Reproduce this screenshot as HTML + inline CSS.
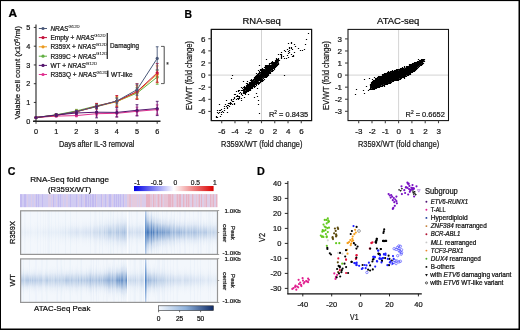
<!DOCTYPE html><html><head><meta charset="utf-8"><style>html,body{margin:0;padding:0;background:#fff;}svg{display:block;will-change:transform;}text{font-family:"Liberation Sans",sans-serif;stroke:currentColor;stroke-width:0.22px;}</style></head><body><svg width="520" height="330" viewBox="0 0 520 330" font-family="Liberation Sans, sans-serif">
<defs>
<linearGradient id="cbRB" x1="0" x2="1" y1="0" y2="0"><stop offset="0" stop-color="#0000e6"/><stop offset="0.5" stop-color="#ffffff"/><stop offset="1" stop-color="#dc0000"/></linearGradient>
<linearGradient id="cbBl" x1="0" x2="1" y1="0" y2="0"><stop offset="0" stop-color="#f4f8fd"/><stop offset="0.5" stop-color="#8fb2dc"/><stop offset="1" stop-color="#0e2a66"/></linearGradient>
<linearGradient id="band" x1="0" x2="0" y1="0" y2="1"><stop offset="0" stop-color="#2a64b0" stop-opacity="0"/><stop offset="0.12" stop-color="#2a64b0" stop-opacity="0.05"/><stop offset="0.25" stop-color="#2a64b0" stop-opacity="0.2"/><stop offset="0.38" stop-color="#2a64b0" stop-opacity="0.55"/><stop offset="0.5" stop-color="#2a64b0" stop-opacity="0.85"/><stop offset="0.62" stop-color="#2a64b0" stop-opacity="0.55"/><stop offset="0.75" stop-color="#2a64b0" stop-opacity="0.2"/><stop offset="0.88" stop-color="#2a64b0" stop-opacity="0.05"/><stop offset="1" stop-color="#2a64b0" stop-opacity="0"/></linearGradient>
<linearGradient id="vline" x1="0" x2="0" y1="0" y2="1"><stop offset="0" stop-color="#b8cde9"/><stop offset="0.5" stop-color="#4f84c6"/><stop offset="1" stop-color="#b8cde9"/></linearGradient>
<clipPath id="clip210"><rect x="20" y="210.5" width="197.6" height="43.9"/></clipPath>
<clipPath id="clip258"><rect x="20" y="258.6" width="197.6" height="43.8"/></clipPath>
</defs>
<rect x="0" y="0" width="520" height="330" fill="#ffffff" />
<text x="8.5" y="16.9" font-size="10.8" fill="#000" color="#000" font-weight="bold" textLength="8.6" lengthAdjust="spacingAndGlyphs" >A</text>
<line x1="36" y1="24.5" x2="36" y2="121.8" stroke="#222" stroke-width="1.1" />
<line x1="33" y1="121.2" x2="160.5" y2="121.2" stroke="#222" stroke-width="1.6" />
<line x1="33.8" y1="121.2" x2="36" y2="121.2" stroke="#222" stroke-width="0.9" />
<text x="30.2" y="123.8" font-size="7.3" fill="#161616" color="#161616" text-anchor="end" >0</text>
<line x1="33.8" y1="102.45" x2="36" y2="102.45" stroke="#222" stroke-width="0.9" />
<text x="30.2" y="105.05" font-size="7.3" fill="#161616" color="#161616" text-anchor="end" >1</text>
<line x1="33.8" y1="83.7" x2="36" y2="83.7" stroke="#222" stroke-width="0.9" />
<text x="30.2" y="86.3" font-size="7.3" fill="#161616" color="#161616" text-anchor="end" >2</text>
<line x1="33.8" y1="64.95" x2="36" y2="64.95" stroke="#222" stroke-width="0.9" />
<text x="30.2" y="67.55" font-size="7.3" fill="#161616" color="#161616" text-anchor="end" >3</text>
<line x1="33.8" y1="46.2" x2="36" y2="46.2" stroke="#222" stroke-width="0.9" />
<text x="30.2" y="48.800000000000004" font-size="7.3" fill="#161616" color="#161616" text-anchor="end" >4</text>
<line x1="33.8" y1="27.450000000000003" x2="36" y2="27.450000000000003" stroke="#222" stroke-width="0.9" />
<text x="30.2" y="30.050000000000004" font-size="7.3" fill="#161616" color="#161616" text-anchor="end" >5</text>
<line x1="36.0" y1="121.2" x2="36.0" y2="123.8" stroke="#222" stroke-width="0.9" />
<text x="36.0" y="133.7" font-size="7.3" fill="#161616" color="#161616" text-anchor="middle" >0</text>
<line x1="56.2" y1="121.2" x2="56.2" y2="123.8" stroke="#222" stroke-width="0.9" />
<text x="56.2" y="133.7" font-size="7.3" fill="#161616" color="#161616" text-anchor="middle" >1</text>
<line x1="76.4" y1="121.2" x2="76.4" y2="123.8" stroke="#222" stroke-width="0.9" />
<text x="76.4" y="133.7" font-size="7.3" fill="#161616" color="#161616" text-anchor="middle" >2</text>
<line x1="96.6" y1="121.2" x2="96.6" y2="123.8" stroke="#222" stroke-width="0.9" />
<text x="96.6" y="133.7" font-size="7.3" fill="#161616" color="#161616" text-anchor="middle" >3</text>
<line x1="116.8" y1="121.2" x2="116.8" y2="123.8" stroke="#222" stroke-width="0.9" />
<text x="116.8" y="133.7" font-size="7.3" fill="#161616" color="#161616" text-anchor="middle" >4</text>
<line x1="137.0" y1="121.2" x2="137.0" y2="123.8" stroke="#222" stroke-width="0.9" />
<text x="137.0" y="133.7" font-size="7.3" fill="#161616" color="#161616" text-anchor="middle" >5</text>
<line x1="157.2" y1="121.2" x2="157.2" y2="123.8" stroke="#222" stroke-width="0.9" />
<text x="157.2" y="133.7" font-size="7.3" fill="#161616" color="#161616" text-anchor="middle" >6</text>
<text x="59" y="147" font-size="8.5" fill="#161616" color="#161616" textLength="75.4" lengthAdjust="spacingAndGlyphs" >Days after IL-3 removal</text>
<text transform="translate(20.4 119.3) rotate(-90)" font-size="7.6" fill="#161616" color="#161616" textLength="93.5" lengthAdjust="spacingAndGlyphs" >Vaiable cell count (x10<tspan font-size="5" dy="-2.6">6</tspan><tspan dy="2.6">/ml)</tspan></text>
<polyline points="36.0,117.5 56.2,116.1 76.4,115.6 96.6,113.7 116.8,113.3 137.0,111.3 157.2,109.6" fill="none" stroke="#e0308f" stroke-width="1"/>
<polyline points="36.0,117.5 56.2,114.8 76.4,110.9 96.6,105.8 116.8,101.5 137.0,93.1 157.2,77.1" fill="none" stroke="#62b043" stroke-width="1"/>
<polyline points="36.0,117.5 56.2,115.2 76.4,111.6 96.6,106.6 116.8,101.7 137.0,92.1 157.2,74.3" fill="none" stroke="#ec9a1e" stroke-width="1"/>
<polyline points="36.0,117.5 56.2,115.4 76.4,111.8 96.6,106.2 116.8,101.1 137.0,91.6 157.2,72.8" fill="none" stroke="#c4123c" stroke-width="1"/>
<polyline points="36.0,117.5 56.2,115.0 76.4,111.5 96.6,106.6 116.8,101.0 137.0,89.7 157.2,58.4" fill="none" stroke="#4a5878" stroke-width="1"/>
<polyline points="36.0,117.5 56.2,115.0 76.4,113.0 96.6,112.2 116.8,112.4 137.0,110.3 157.2,108.5" fill="none" stroke="#55166e" stroke-width="1"/>
<circle cx="36.0" cy="117.5" r="1.6" fill="#e0308f"/>
<line x1="56.2" y1="115.3875" x2="56.2" y2="116.8875" stroke="#e0308f" stroke-width="0.9" />
<line x1="54.800000000000004" y1="115.3875" x2="57.6" y2="115.3875" stroke="#e0308f" stroke-width="0.9" />
<line x1="54.800000000000004" y1="116.8875" x2="57.6" y2="116.8875" stroke="#e0308f" stroke-width="0.9" />
<circle cx="56.2" cy="116.1" r="1.6" fill="#e0308f"/>
<line x1="76.4" y1="114.45" x2="76.4" y2="116.7" stroke="#e0308f" stroke-width="0.9" />
<line x1="75.0" y1="114.45" x2="77.80000000000001" y2="114.45" stroke="#e0308f" stroke-width="0.9" />
<line x1="75.0" y1="116.7" x2="77.80000000000001" y2="116.7" stroke="#e0308f" stroke-width="0.9" />
<circle cx="76.4" cy="115.6" r="1.6" fill="#e0308f"/>
<line x1="96.6" y1="111.45" x2="96.6" y2="115.95" stroke="#e0308f" stroke-width="0.9" />
<line x1="95.19999999999999" y1="111.45" x2="98.0" y2="111.45" stroke="#e0308f" stroke-width="0.9" />
<line x1="95.19999999999999" y1="115.95" x2="98.0" y2="115.95" stroke="#e0308f" stroke-width="0.9" />
<circle cx="96.6" cy="113.7" r="1.6" fill="#e0308f"/>
<line x1="116.8" y1="109.95" x2="116.8" y2="116.7" stroke="#e0308f" stroke-width="0.9" />
<line x1="115.39999999999999" y1="109.95" x2="118.2" y2="109.95" stroke="#e0308f" stroke-width="0.9" />
<line x1="115.39999999999999" y1="116.7" x2="118.2" y2="116.7" stroke="#e0308f" stroke-width="0.9" />
<circle cx="116.8" cy="113.3" r="1.6" fill="#e0308f"/>
<line x1="137.0" y1="107.1375" x2="137.0" y2="115.3875" stroke="#e0308f" stroke-width="0.9" />
<line x1="135.6" y1="107.1375" x2="138.4" y2="107.1375" stroke="#e0308f" stroke-width="0.9" />
<line x1="135.6" y1="115.3875" x2="138.4" y2="115.3875" stroke="#e0308f" stroke-width="0.9" />
<circle cx="137.0" cy="111.3" r="1.6" fill="#e0308f"/>
<line x1="157.2" y1="104.8875" x2="157.2" y2="114.2625" stroke="#e0308f" stroke-width="0.9" />
<line x1="155.79999999999998" y1="104.8875" x2="158.6" y2="104.8875" stroke="#e0308f" stroke-width="0.9" />
<line x1="155.79999999999998" y1="114.2625" x2="158.6" y2="114.2625" stroke="#e0308f" stroke-width="0.9" />
<circle cx="157.2" cy="109.6" r="1.6" fill="#e0308f"/>
<circle cx="36.0" cy="117.5" r="1.6" fill="#62b043"/>
<line x1="56.2" y1="113.8875" x2="56.2" y2="115.7625" stroke="#62b043" stroke-width="0.9" />
<line x1="54.800000000000004" y1="113.8875" x2="57.6" y2="113.8875" stroke="#62b043" stroke-width="0.9" />
<line x1="54.800000000000004" y1="115.7625" x2="57.6" y2="115.7625" stroke="#62b043" stroke-width="0.9" />
<circle cx="56.2" cy="114.8" r="1.6" fill="#62b043"/>
<line x1="76.4" y1="109.3875" x2="76.4" y2="112.3875" stroke="#62b043" stroke-width="0.9" />
<line x1="75.0" y1="109.3875" x2="77.80000000000001" y2="109.3875" stroke="#62b043" stroke-width="0.9" />
<line x1="75.0" y1="112.3875" x2="77.80000000000001" y2="112.3875" stroke="#62b043" stroke-width="0.9" />
<circle cx="76.4" cy="110.9" r="1.6" fill="#62b043"/>
<line x1="96.6" y1="103.575" x2="96.6" y2="108.075" stroke="#62b043" stroke-width="0.9" />
<line x1="95.19999999999999" y1="103.575" x2="98.0" y2="103.575" stroke="#62b043" stroke-width="0.9" />
<line x1="95.19999999999999" y1="108.075" x2="98.0" y2="108.075" stroke="#62b043" stroke-width="0.9" />
<circle cx="96.6" cy="105.8" r="1.6" fill="#62b043"/>
<line x1="116.8" y1="97.7625" x2="116.8" y2="105.2625" stroke="#62b043" stroke-width="0.9" />
<line x1="115.39999999999999" y1="97.7625" x2="118.2" y2="97.7625" stroke="#62b043" stroke-width="0.9" />
<line x1="115.39999999999999" y1="105.2625" x2="118.2" y2="105.2625" stroke="#62b043" stroke-width="0.9" />
<circle cx="116.8" cy="101.5" r="1.6" fill="#62b043"/>
<line x1="137.0" y1="87.45" x2="137.0" y2="98.7" stroke="#62b043" stroke-width="0.9" />
<line x1="135.6" y1="87.45" x2="138.4" y2="87.45" stroke="#62b043" stroke-width="0.9" />
<line x1="135.6" y1="98.7" x2="138.4" y2="98.7" stroke="#62b043" stroke-width="0.9" />
<circle cx="137.0" cy="93.1" r="1.6" fill="#62b043"/>
<line x1="157.2" y1="70.0125" x2="157.2" y2="84.26249999999999" stroke="#62b043" stroke-width="0.9" />
<line x1="155.79999999999998" y1="70.0125" x2="158.6" y2="70.0125" stroke="#62b043" stroke-width="0.9" />
<line x1="155.79999999999998" y1="84.26249999999999" x2="158.6" y2="84.26249999999999" stroke="#62b043" stroke-width="0.9" />
<circle cx="157.2" cy="77.1" r="1.6" fill="#62b043"/>
<circle cx="36.0" cy="117.5" r="1.6" fill="#ec9a1e"/>
<line x1="56.2" y1="114.2625" x2="56.2" y2="116.1375" stroke="#ec9a1e" stroke-width="0.9" />
<line x1="54.800000000000004" y1="114.2625" x2="57.6" y2="114.2625" stroke="#ec9a1e" stroke-width="0.9" />
<line x1="54.800000000000004" y1="116.1375" x2="57.6" y2="116.1375" stroke="#ec9a1e" stroke-width="0.9" />
<circle cx="56.2" cy="115.2" r="1.6" fill="#ec9a1e"/>
<line x1="76.4" y1="110.1375" x2="76.4" y2="113.1375" stroke="#ec9a1e" stroke-width="0.9" />
<line x1="75.0" y1="110.1375" x2="77.80000000000001" y2="110.1375" stroke="#ec9a1e" stroke-width="0.9" />
<line x1="75.0" y1="113.1375" x2="77.80000000000001" y2="113.1375" stroke="#ec9a1e" stroke-width="0.9" />
<circle cx="76.4" cy="111.6" r="1.6" fill="#ec9a1e"/>
<line x1="96.6" y1="104.325" x2="96.6" y2="108.825" stroke="#ec9a1e" stroke-width="0.9" />
<line x1="95.19999999999999" y1="104.325" x2="98.0" y2="104.325" stroke="#ec9a1e" stroke-width="0.9" />
<line x1="95.19999999999999" y1="108.825" x2="98.0" y2="108.825" stroke="#ec9a1e" stroke-width="0.9" />
<circle cx="96.6" cy="106.6" r="1.6" fill="#ec9a1e"/>
<line x1="116.8" y1="96.45" x2="116.8" y2="106.95" stroke="#ec9a1e" stroke-width="0.9" />
<line x1="115.39999999999999" y1="96.45" x2="118.2" y2="96.45" stroke="#ec9a1e" stroke-width="0.9" />
<line x1="115.39999999999999" y1="106.95" x2="118.2" y2="106.95" stroke="#ec9a1e" stroke-width="0.9" />
<circle cx="116.8" cy="101.7" r="1.6" fill="#ec9a1e"/>
<line x1="137.0" y1="85.575" x2="137.0" y2="98.7" stroke="#ec9a1e" stroke-width="0.9" />
<line x1="135.6" y1="85.575" x2="138.4" y2="85.575" stroke="#ec9a1e" stroke-width="0.9" />
<line x1="135.6" y1="98.7" x2="138.4" y2="98.7" stroke="#ec9a1e" stroke-width="0.9" />
<circle cx="137.0" cy="92.1" r="1.6" fill="#ec9a1e"/>
<line x1="157.2" y1="65.8875" x2="157.2" y2="82.7625" stroke="#ec9a1e" stroke-width="0.9" />
<line x1="155.79999999999998" y1="65.8875" x2="158.6" y2="65.8875" stroke="#ec9a1e" stroke-width="0.9" />
<line x1="155.79999999999998" y1="82.7625" x2="158.6" y2="82.7625" stroke="#ec9a1e" stroke-width="0.9" />
<circle cx="157.2" cy="74.3" r="1.6" fill="#ec9a1e"/>
<circle cx="36.0" cy="117.5" r="1.6" fill="#c4123c"/>
<line x1="56.2" y1="114.45" x2="56.2" y2="116.325" stroke="#c4123c" stroke-width="0.9" />
<line x1="54.800000000000004" y1="114.45" x2="57.6" y2="114.45" stroke="#c4123c" stroke-width="0.9" />
<line x1="54.800000000000004" y1="116.325" x2="57.6" y2="116.325" stroke="#c4123c" stroke-width="0.9" />
<circle cx="56.2" cy="115.4" r="1.6" fill="#c4123c"/>
<line x1="76.4" y1="110.5125" x2="76.4" y2="113.1375" stroke="#c4123c" stroke-width="0.9" />
<line x1="75.0" y1="110.5125" x2="77.80000000000001" y2="110.5125" stroke="#c4123c" stroke-width="0.9" />
<line x1="75.0" y1="113.1375" x2="77.80000000000001" y2="113.1375" stroke="#c4123c" stroke-width="0.9" />
<circle cx="76.4" cy="111.8" r="1.6" fill="#c4123c"/>
<line x1="96.6" y1="103.3875" x2="96.6" y2="109.0125" stroke="#c4123c" stroke-width="0.9" />
<line x1="95.19999999999999" y1="103.3875" x2="98.0" y2="103.3875" stroke="#c4123c" stroke-width="0.9" />
<line x1="95.19999999999999" y1="109.0125" x2="98.0" y2="109.0125" stroke="#c4123c" stroke-width="0.9" />
<circle cx="96.6" cy="106.2" r="1.6" fill="#c4123c"/>
<line x1="116.8" y1="95.5125" x2="116.8" y2="106.7625" stroke="#c4123c" stroke-width="0.9" />
<line x1="115.39999999999999" y1="95.5125" x2="118.2" y2="95.5125" stroke="#c4123c" stroke-width="0.9" />
<line x1="115.39999999999999" y1="106.7625" x2="118.2" y2="106.7625" stroke="#c4123c" stroke-width="0.9" />
<circle cx="116.8" cy="101.1" r="1.6" fill="#c4123c"/>
<line x1="137.0" y1="83.7" x2="137.0" y2="99.45" stroke="#c4123c" stroke-width="0.9" />
<line x1="135.6" y1="83.7" x2="138.4" y2="83.7" stroke="#c4123c" stroke-width="0.9" />
<line x1="135.6" y1="99.45" x2="138.4" y2="99.45" stroke="#c4123c" stroke-width="0.9" />
<circle cx="137.0" cy="91.6" r="1.6" fill="#c4123c"/>
<line x1="157.2" y1="63.45" x2="157.2" y2="82.2" stroke="#c4123c" stroke-width="0.9" />
<line x1="155.79999999999998" y1="63.45" x2="158.6" y2="63.45" stroke="#c4123c" stroke-width="0.9" />
<line x1="155.79999999999998" y1="82.2" x2="158.6" y2="82.2" stroke="#c4123c" stroke-width="0.9" />
<circle cx="157.2" cy="72.8" r="1.6" fill="#c4123c"/>
<circle cx="36.0" cy="117.5" r="1.6" fill="#4a5878"/>
<line x1="56.2" y1="114.075" x2="56.2" y2="115.95" stroke="#4a5878" stroke-width="0.9" />
<line x1="54.800000000000004" y1="114.075" x2="57.6" y2="114.075" stroke="#4a5878" stroke-width="0.9" />
<line x1="54.800000000000004" y1="115.95" x2="57.6" y2="115.95" stroke="#4a5878" stroke-width="0.9" />
<circle cx="56.2" cy="115.0" r="1.6" fill="#4a5878"/>
<line x1="76.4" y1="110.325" x2="76.4" y2="112.575" stroke="#4a5878" stroke-width="0.9" />
<line x1="75.0" y1="110.325" x2="77.80000000000001" y2="110.325" stroke="#4a5878" stroke-width="0.9" />
<line x1="75.0" y1="112.575" x2="77.80000000000001" y2="112.575" stroke="#4a5878" stroke-width="0.9" />
<circle cx="76.4" cy="111.5" r="1.6" fill="#4a5878"/>
<line x1="96.6" y1="104.7" x2="96.6" y2="108.45" stroke="#4a5878" stroke-width="0.9" />
<line x1="95.19999999999999" y1="104.7" x2="98.0" y2="104.7" stroke="#4a5878" stroke-width="0.9" />
<line x1="95.19999999999999" y1="108.45" x2="98.0" y2="108.45" stroke="#4a5878" stroke-width="0.9" />
<circle cx="96.6" cy="106.6" r="1.6" fill="#4a5878"/>
<line x1="116.8" y1="98.1375" x2="116.8" y2="103.7625" stroke="#4a5878" stroke-width="0.9" />
<line x1="115.39999999999999" y1="98.1375" x2="118.2" y2="98.1375" stroke="#4a5878" stroke-width="0.9" />
<line x1="115.39999999999999" y1="103.7625" x2="118.2" y2="103.7625" stroke="#4a5878" stroke-width="0.9" />
<circle cx="116.8" cy="101.0" r="1.6" fill="#4a5878"/>
<line x1="137.0" y1="84.075" x2="137.0" y2="95.325" stroke="#4a5878" stroke-width="0.9" />
<line x1="135.6" y1="84.075" x2="138.4" y2="84.075" stroke="#4a5878" stroke-width="0.9" />
<line x1="135.6" y1="95.325" x2="138.4" y2="95.325" stroke="#4a5878" stroke-width="0.9" />
<circle cx="137.0" cy="89.7" r="1.6" fill="#4a5878"/>
<line x1="157.2" y1="46.7625" x2="157.2" y2="70.0125" stroke="#4a5878" stroke-width="0.9" />
<line x1="155.79999999999998" y1="46.7625" x2="158.6" y2="46.7625" stroke="#4a5878" stroke-width="0.9" />
<line x1="155.79999999999998" y1="70.0125" x2="158.6" y2="70.0125" stroke="#4a5878" stroke-width="0.9" />
<circle cx="157.2" cy="58.4" r="1.6" fill="#4a5878"/>
<circle cx="36.0" cy="117.5" r="1.6" fill="#55166e"/>
<line x1="56.2" y1="113.8875" x2="56.2" y2="116.1375" stroke="#55166e" stroke-width="0.9" />
<line x1="54.800000000000004" y1="113.8875" x2="57.6" y2="113.8875" stroke="#55166e" stroke-width="0.9" />
<line x1="54.800000000000004" y1="116.1375" x2="57.6" y2="116.1375" stroke="#55166e" stroke-width="0.9" />
<circle cx="56.2" cy="115.0" r="1.6" fill="#55166e"/>
<line x1="76.4" y1="111.075" x2="76.4" y2="114.825" stroke="#55166e" stroke-width="0.9" />
<line x1="75.0" y1="111.075" x2="77.80000000000001" y2="111.075" stroke="#55166e" stroke-width="0.9" />
<line x1="75.0" y1="114.825" x2="77.80000000000001" y2="114.825" stroke="#55166e" stroke-width="0.9" />
<circle cx="76.4" cy="113.0" r="1.6" fill="#55166e"/>
<line x1="96.6" y1="106.575" x2="96.6" y2="117.825" stroke="#55166e" stroke-width="0.9" />
<line x1="95.19999999999999" y1="106.575" x2="98.0" y2="106.575" stroke="#55166e" stroke-width="0.9" />
<line x1="95.19999999999999" y1="117.825" x2="98.0" y2="117.825" stroke="#55166e" stroke-width="0.9" />
<circle cx="96.6" cy="112.2" r="1.6" fill="#55166e"/>
<line x1="116.8" y1="107.7" x2="116.8" y2="117.075" stroke="#55166e" stroke-width="0.9" />
<line x1="115.39999999999999" y1="107.7" x2="118.2" y2="107.7" stroke="#55166e" stroke-width="0.9" />
<line x1="115.39999999999999" y1="117.075" x2="118.2" y2="117.075" stroke="#55166e" stroke-width="0.9" />
<circle cx="116.8" cy="112.4" r="1.6" fill="#55166e"/>
<line x1="137.0" y1="104.7" x2="137.0" y2="115.95" stroke="#55166e" stroke-width="0.9" />
<line x1="135.6" y1="104.7" x2="138.4" y2="104.7" stroke="#55166e" stroke-width="0.9" />
<line x1="135.6" y1="115.95" x2="138.4" y2="115.95" stroke="#55166e" stroke-width="0.9" />
<circle cx="137.0" cy="110.3" r="1.6" fill="#55166e"/>
<line x1="157.2" y1="101.325" x2="157.2" y2="115.575" stroke="#55166e" stroke-width="0.9" />
<line x1="155.79999999999998" y1="101.325" x2="158.6" y2="101.325" stroke="#55166e" stroke-width="0.9" />
<line x1="155.79999999999998" y1="115.575" x2="158.6" y2="115.575" stroke="#55166e" stroke-width="0.9" />
<circle cx="157.2" cy="108.5" r="1.6" fill="#55166e"/>
<line x1="38.8" y1="28.5" x2="47" y2="28.5" stroke="#4a5878" stroke-width="1" />
<circle cx="43" cy="28.5" r="1.6" fill="#4a5878"/>
<text x="50.4" y="30.8" font-size="6.5" fill="#161616" color="#161616" ><tspan font-style="italic">NRAS</tspan><tspan font-size="4.3" dy="-3.1" style="stroke-width:0.08px">G12D</tspan></text>
<line x1="38.8" y1="37.6" x2="47" y2="37.6" stroke="#c4123c" stroke-width="1" />
<circle cx="43" cy="37.6" r="1.6" fill="#c4123c"/>
<text x="50.4" y="39.9" font-size="6.5" fill="#161616" color="#161616" >Empty + <tspan font-style="italic">NRAS</tspan><tspan font-size="4.3" dy="-3.1" style="stroke-width:0.08px">G12D</tspan></text>
<line x1="38.8" y1="46.8" x2="47" y2="46.8" stroke="#ec9a1e" stroke-width="1" />
<circle cx="43" cy="46.8" r="1.6" fill="#ec9a1e"/>
<text x="50.4" y="49.099999999999994" font-size="6.5" fill="#161616" color="#161616" >R359X + <tspan font-style="italic">NRAS</tspan><tspan font-size="4.3" dy="-3.1" style="stroke-width:0.08px">G12D</tspan></text>
<line x1="38.8" y1="56.2" x2="47" y2="56.2" stroke="#62b043" stroke-width="1" />
<circle cx="43" cy="56.2" r="1.6" fill="#62b043"/>
<text x="50.4" y="58.5" font-size="6.5" fill="#161616" color="#161616" >R399C + <tspan font-style="italic">NRAS</tspan><tspan font-size="4.3" dy="-3.1" style="stroke-width:0.08px">G12D</tspan></text>
<line x1="38.8" y1="65.4" x2="47" y2="65.4" stroke="#55166e" stroke-width="1" />
<circle cx="43" cy="65.4" r="1.6" fill="#55166e"/>
<text x="50.4" y="67.7" font-size="6.5" fill="#161616" color="#161616" >WT + <tspan font-style="italic">NRAS</tspan><tspan font-size="4.3" dy="-3.1" style="stroke-width:0.08px">G12D</tspan></text>
<line x1="38.8" y1="74.5" x2="47" y2="74.5" stroke="#e0308f" stroke-width="1" />
<circle cx="43" cy="74.5" r="1.6" fill="#e0308f"/>
<text x="50.4" y="76.8" font-size="6.5" fill="#161616" color="#161616" >R353Q + <tspan font-style="italic">NRAS</tspan><tspan font-size="4.3" dy="-3.1" style="stroke-width:0.08px">G12D</tspan></text>
<line x1="107.3" y1="32.9" x2="107.3" y2="59" stroke="#333" stroke-width="1.3" />
<text x="110" y="48.1" font-size="6.6" fill="#161616" color="#161616" textLength="29" lengthAdjust="spacingAndGlyphs" >Damaging</text>
<line x1="107.7" y1="70.6" x2="107.7" y2="77" stroke="#333" stroke-width="1.6" />
<text x="111" y="76.8" font-size="6.5" fill="#161616" color="#161616" >WT-like</text>
<line x1="161" y1="46.4" x2="164.2" y2="46.4" stroke="#333" stroke-width="0.8" />
<line x1="164.2" y1="46.4" x2="164.2" y2="83.6" stroke="#333" stroke-width="0.9" />
<line x1="161" y1="83.6" x2="164.2" y2="83.6" stroke="#333" stroke-width="0.8" />
<text x="166.2" y="66.5" font-size="6.5" fill="#333" color="#333" >*</text>
<text x="184.4" y="17.5" font-size="10.4" fill="#000" color="#000" font-weight="bold" >B</text>
<text x="242.5" y="23.8" font-size="8.6" fill="#111" color="#111" textLength="38.3" lengthAdjust="spacingAndGlyphs" >RNA-seq</text>
<text x="377" y="23.8" font-size="8.6" fill="#111" color="#111" textLength="42.4" lengthAdjust="spacingAndGlyphs" >ATAC-seq</text>
<line x1="261.5" y1="29.4" x2="261.5" y2="120.6" stroke="#c8c8c8" stroke-width="0.8" />
<line x1="211.3" y1="75.1" x2="311.6" y2="75.1" stroke="#c8c8c8" stroke-width="0.8" />
<rect x="211.3" y="29.4" width="100.30000000000001" height="91.19999999999999" fill="none" stroke="#111" stroke-width="1.05"/>
<path d="M243.0 90.8 L243.6 90.2 L244.2 89.7 L244.8 89.1 L245.4 88.5 L246.0 88.0 L246.6 87.4 L247.2 86.8 L247.8 86.3 L248.4 85.7 L249.0 85.1 L249.6 84.6 L250.2 84.0 L250.8 83.5 L251.4 82.9 L252.0 82.4 L252.6 81.8 L253.2 81.3 L253.8 80.7 L254.4 80.2 L255.0 79.6 L255.6 78.9 L256.2 78.2 L256.8 77.4 L257.4 76.7 L258.0 76.0 L258.6 75.3 L259.2 74.6 L259.8 73.8 L260.4 73.3 L261.0 72.8 L261.6 72.3 L262.2 71.8 L262.8 71.2 L263.4 70.7 L264.0 70.2 L264.6 69.7 L265.2 69.2 L265.8 68.7 L266.4 68.2 L267.0 67.7 L267.6 67.2 L268.2 66.7 L268.8 66.2 L269.4 65.7 L270.0 65.2 L270.6 64.9 L271.2 64.6 L271.8 64.3 L272.4 64.0 L273.0 63.6 L273.6 63.3 L274.2 63.0 L274.8 62.7 L275.4 62.4 L276.0 62.2 L276.6 62.0 L277.2 61.7 L277.8 61.5 L278.4 61.2 L279.0 61.0 L279.0 62.2 L278.4 62.9 L277.8 63.6 L277.2 64.4 L276.6 65.1 L276.0 65.8 L275.4 66.5 L274.8 67.2 L274.2 67.9 L273.6 68.5 L273.0 69.2 L272.4 69.8 L271.8 70.5 L271.2 71.1 L270.6 71.8 L270.0 72.4 L269.4 72.9 L268.8 73.4 L268.2 73.9 L267.6 74.4 L267.0 74.9 L266.4 75.4 L265.8 75.9 L265.2 76.4 L264.6 76.9 L264.0 77.4 L263.4 77.9 L262.8 78.4 L262.2 78.9 L261.6 79.4 L261.0 79.9 L260.4 80.4 L259.8 80.8 L259.2 81.3 L258.6 81.7 L258.0 82.2 L257.4 82.6 L256.8 83.1 L256.2 83.5 L255.6 84.0 L255.0 84.4 L254.4 84.9 L253.8 85.4 L253.2 85.8 L252.6 86.3 L252.0 86.8 L251.4 87.3 L250.8 87.8 L250.2 88.2 L249.6 88.6 L249.0 88.9 L248.4 89.2 L247.8 89.5 L247.2 89.9 L246.6 90.2 L246.0 90.5 L245.4 90.8 L244.8 91.1 L244.2 91.6 L243.6 92.0 L243.0 92.4Z" fill="#000"/>
<path d="M224.9 103.9h1.2v1.2h-1.2zM216.9 109.9h1.2v1.2h-1.2zM231.9 100.9h1.2v1.2h-1.2zM230.9 99.9h1.2v1.2h-1.2zM215.9 115.9h1.2v1.2h-1.2zM217.9 112.9h1.2v1.2h-1.2zM228.9 102.9h1.2v1.2h-1.2zM221.9 110.9h1.2v1.2h-1.2zM234.9 93.9h1.2v1.2h-1.2zM227.9 104.9h1.2v1.2h-1.2zM246.9 80.9h1.2v1.2h-1.2zM223.9 105.9h1.2v1.2h-1.2zM218.9 109.9h1.2v1.2h-1.2zM241.9 89.9h1.2v1.2h-1.2zM220.9 113.9h1.2v1.2h-1.2zM226.9 106.9h1.2v1.2h-1.2zM232.9 98.9h1.2v1.2h-1.2zM220.9 108.9h1.2v1.2h-1.2zM236.9 97.9h1.2v1.2h-1.2zM233.9 96.9h1.2v1.2h-1.2zM229.9 103.9h1.2v1.2h-1.2zM237.9 89.9h1.2v1.2h-1.2zM222.9 111.9h1.2v1.2h-1.2zM243.9 91.9h1.2v1.2h-1.2zM238.9 95.9h1.2v1.2h-1.2zM218.9 103.9h1.2v1.2h-1.2zM227.9 102.9h1.2v1.2h-1.2zM230.9 102.9h1.2v1.2h-1.2zM215.9 116.9h1.2v1.2h-1.2zM233.9 102.9h1.2v1.2h-1.2zM243.9 91.9h1.2v1.2h-1.2zM233.9 93.9h1.2v1.2h-1.2zM233.9 103.9h1.2v1.2h-1.2zM245.9 85.9h1.2v1.2h-1.2zM229.9 101.9h1.2v1.2h-1.2zM237.9 95.9h1.2v1.2h-1.2zM235.9 90.9h1.2v1.2h-1.2zM223.9 107.9h1.2v1.2h-1.2zM226.9 104.9h1.2v1.2h-1.2zM229.9 102.9h1.2v1.2h-1.2zM219.9 109.9h1.2v1.2h-1.2zM239.9 91.9h1.2v1.2h-1.2zM218.9 111.9h1.2v1.2h-1.2zM242.9 86.9h1.2v1.2h-1.2zM216.9 116.9h1.2v1.2h-1.2zM243.9 88.9h1.2v1.2h-1.2zM241.9 89.9h1.2v1.2h-1.2zM227.9 104.9h1.2v1.2h-1.2zM225.9 99.9h1.2v1.2h-1.2zM219.9 115.9h1.2v1.2h-1.2zM219.9 109.9h1.2v1.2h-1.2zM230.9 98.9h1.2v1.2h-1.2zM233.9 97.9h1.2v1.2h-1.2zM227.9 102.9h1.2v1.2h-1.2zM226.9 111.9h1.2v1.2h-1.2zM236.9 97.9h1.2v1.2h-1.2zM231.9 103.9h1.2v1.2h-1.2zM215.9 116.9h1.2v1.2h-1.2zM243.9 87.9h1.2v1.2h-1.2zM240.9 97.9h1.2v1.2h-1.2zM227.9 104.9h1.2v1.2h-1.2zM235.9 95.9h1.2v1.2h-1.2zM216.9 111.9h1.2v1.2h-1.2zM219.9 109.9h1.2v1.2h-1.2zM225.9 105.9h1.2v1.2h-1.2zM277.9 58.9h1.2v1.2h-1.2zM276.9 59.9h1.2v1.2h-1.2zM288.9 47.9h1.2v1.2h-1.2zM284.9 50.9h1.2v1.2h-1.2zM280.9 53.9h1.2v1.2h-1.2zM280.9 51.9h1.2v1.2h-1.2zM290.9 42.9h1.2v1.2h-1.2zM282.9 55.9h1.2v1.2h-1.2zM276.9 59.9h1.2v1.2h-1.2zM280.9 56.9h1.2v1.2h-1.2zM277.9 53.9h1.2v1.2h-1.2zM275.9 57.9h1.2v1.2h-1.2zM277.9 59.9h1.2v1.2h-1.2zM283.9 49.9h1.2v1.2h-1.2zM290.9 46.9h1.2v1.2h-1.2zM288.9 49.9h1.2v1.2h-1.2zM280.9 57.9h1.2v1.2h-1.2zM277.9 57.9h1.2v1.2h-1.2zM287.9 52.9h1.2v1.2h-1.2zM280.9 55.9h1.2v1.2h-1.2zM290.9 41.9h1.2v1.2h-1.2zM288.9 46.9h1.2v1.2h-1.2zM286.9 54.9h1.2v1.2h-1.2zM278.9 59.9h1.2v1.2h-1.2zM275.9 60.9h1.2v1.2h-1.2zM275.9 60.9h1.2v1.2h-1.2zM286.9 48.9h1.2v1.2h-1.2zM290.9 53.9h1.2v1.2h-1.2zM247.9 83.9h1.2v1.2h-1.2zM246.9 87.9h1.2v1.2h-1.2zM239.9 91.9h1.2v1.2h-1.2zM238.9 92.9h1.2v1.2h-1.2zM246.9 82.9h1.2v1.2h-1.2zM245.9 91.9h1.2v1.2h-1.2zM245.9 87.9h1.2v1.2h-1.2zM237.9 98.9h1.2v1.2h-1.2zM244.9 93.9h1.2v1.2h-1.2zM244.9 90.9h1.2v1.2h-1.2zM245.9 87.9h1.2v1.2h-1.2zM240.9 89.9h1.2v1.2h-1.2zM240.9 99.9h1.2v1.2h-1.2zM240.9 86.9h1.2v1.2h-1.2zM238.9 95.9h1.2v1.2h-1.2zM237.9 90.9h1.2v1.2h-1.2zM245.9 82.9h1.2v1.2h-1.2zM238.9 89.9h1.2v1.2h-1.2zM243.9 96.9h1.2v1.2h-1.2zM240.9 93.9h1.2v1.2h-1.2zM236.9 95.9h1.2v1.2h-1.2zM246.9 88.9h1.2v1.2h-1.2zM246.9 89.9h1.2v1.2h-1.2zM241.9 87.9h1.2v1.2h-1.2zM238.9 97.9h1.2v1.2h-1.2zM257.9 75.9h1.2v1.2h-1.2zM257.9 73.9h1.2v1.2h-1.2zM256.9 75.9h1.2v1.2h-1.2zM270.9 61.9h1.2v1.2h-1.2zM251.9 80.9h1.2v1.2h-1.2zM241.9 94.9h1.2v1.2h-1.2zM240.9 89.9h1.2v1.2h-1.2zM246.9 87.9h1.2v1.2h-1.2zM255.9 79.9h1.2v1.2h-1.2zM252.9 81.9h1.2v1.2h-1.2zM272.9 63.9h1.2v1.2h-1.2zM261.9 70.9h1.2v1.2h-1.2zM255.9 82.9h1.2v1.2h-1.2zM252.9 78.9h1.2v1.2h-1.2zM242.9 91.9h1.2v1.2h-1.2zM265.9 67.9h1.2v1.2h-1.2zM257.9 75.9h1.2v1.2h-1.2zM258.9 79.9h1.2v1.2h-1.2zM243.9 91.9h1.2v1.2h-1.2zM265.9 72.9h1.2v1.2h-1.2zM249.9 86.9h1.2v1.2h-1.2zM243.9 89.9h1.2v1.2h-1.2zM247.9 85.9h1.2v1.2h-1.2zM236.9 94.9h1.2v1.2h-1.2zM251.9 87.9h1.2v1.2h-1.2zM263.9 72.9h1.2v1.2h-1.2zM237.9 97.9h1.2v1.2h-1.2zM259.9 76.9h1.2v1.2h-1.2zM263.9 69.9h1.2v1.2h-1.2zM262.9 71.9h1.2v1.2h-1.2zM268.9 65.9h1.2v1.2h-1.2zM261.9 79.9h1.2v1.2h-1.2zM264.9 67.9h1.2v1.2h-1.2zM254.9 81.9h1.2v1.2h-1.2zM273.9 67.9h1.2v1.2h-1.2zM261.9 67.9h1.2v1.2h-1.2zM249.9 82.9h1.2v1.2h-1.2zM273.9 63.9h1.2v1.2h-1.2zM262.9 70.9h1.2v1.2h-1.2zM249.9 84.9h1.2v1.2h-1.2zM259.9 73.9h1.2v1.2h-1.2zM256.9 78.9h1.2v1.2h-1.2zM248.9 86.9h1.2v1.2h-1.2zM264.9 70.9h1.2v1.2h-1.2zM249.9 86.9h1.2v1.2h-1.2zM280.9 54.9h1.2v1.2h-1.2zM262.9 79.9h1.2v1.2h-1.2zM262.9 71.9h1.2v1.2h-1.2zM271.9 63.9h1.2v1.2h-1.2zM256.9 76.9h1.2v1.2h-1.2zM240.9 89.9h1.2v1.2h-1.2zM259.9 77.9h1.2v1.2h-1.2zM268.9 62.9h1.2v1.2h-1.2zM245.9 90.9h1.2v1.2h-1.2zM259.9 74.9h1.2v1.2h-1.2zM253.9 83.9h1.2v1.2h-1.2zM275.9 58.9h1.2v1.2h-1.2zM246.9 90.9h1.2v1.2h-1.2zM271.9 61.9h1.2v1.2h-1.2zM272.9 61.9h1.2v1.2h-1.2zM249.9 83.9h1.2v1.2h-1.2zM238.9 96.9h1.2v1.2h-1.2zM256.9 76.9h1.2v1.2h-1.2zM250.9 83.9h1.2v1.2h-1.2zM261.9 73.9h1.2v1.2h-1.2zM262.9 72.9h1.2v1.2h-1.2zM254.9 78.9h1.2v1.2h-1.2zM257.9 79.9h1.2v1.2h-1.2zM251.9 82.9h1.2v1.2h-1.2zM256.9 78.9h1.2v1.2h-1.2zM257.9 77.9h1.2v1.2h-1.2zM256.9 82.9h1.2v1.2h-1.2zM260.9 71.9h1.2v1.2h-1.2zM260.9 74.9h1.2v1.2h-1.2zM261.9 76.9h1.2v1.2h-1.2zM240.9 92.9h1.2v1.2h-1.2zM249.9 82.9h1.2v1.2h-1.2zM247.9 93.9h1.2v1.2h-1.2zM248.9 81.9h1.2v1.2h-1.2zM253.9 84.9h1.2v1.2h-1.2zM250.9 82.9h1.2v1.2h-1.2zM261.9 73.9h1.2v1.2h-1.2zM269.9 64.9h1.2v1.2h-1.2zM257.9 76.9h1.2v1.2h-1.2zM271.9 62.9h1.2v1.2h-1.2zM266.9 72.9h1.2v1.2h-1.2zM255.9 76.9h1.2v1.2h-1.2zM254.9 77.9h1.2v1.2h-1.2zM262.9 70.9h1.2v1.2h-1.2zM255.9 72.9h1.2v1.2h-1.2zM267.9 68.9h1.2v1.2h-1.2zM257.9 69.9h1.2v1.2h-1.2zM254.9 77.9h1.2v1.2h-1.2zM265.9 70.9h1.2v1.2h-1.2zM247.9 86.9h1.2v1.2h-1.2zM260.9 71.9h1.2v1.2h-1.2zM263.9 71.9h1.2v1.2h-1.2zM264.9 69.9h1.2v1.2h-1.2zM258.9 75.9h1.2v1.2h-1.2zM255.9 77.9h1.2v1.2h-1.2zM248.9 87.9h1.2v1.2h-1.2zM257.9 81.9h1.2v1.2h-1.2zM253.9 86.9h1.2v1.2h-1.2zM251.9 81.9h1.2v1.2h-1.2zM262.9 73.9h1.2v1.2h-1.2zM255.9 83.9h1.2v1.2h-1.2zM272.9 62.9h1.2v1.2h-1.2zM266.9 71.9h1.2v1.2h-1.2zM255.9 84.9h1.2v1.2h-1.2zM263.9 69.9h1.2v1.2h-1.2zM256.9 87.9h1.2v1.2h-1.2zM256.9 95.9h1.2v1.2h-1.2zM257.9 103.9h1.2v1.2h-1.2zM258.9 112.9h1.2v1.2h-1.2zM253.9 96.9h1.2v1.2h-1.2zM255.9 92.9h1.2v1.2h-1.2zM257.9 99.9h1.2v1.2h-1.2zM265.9 58.9h1.2v1.2h-1.2zM231.9 74.9h1.2v1.2h-1.2zM230.9 77.9h1.2v1.2h-1.2zM258.9 64.9h1.2v1.2h-1.2zM283.9 74.9h1.2v1.2h-1.2zM242.9 80.9h1.2v1.2h-1.2zM245.9 84.9h1.2v1.2h-1.2zM307.9 32.9h1.2v1.2h-1.2zM305.9 38.9h1.2v1.2h-1.2zM304.9 43.9h1.2v1.2h-1.2zM287.9 42.9h1.2v1.2h-1.2zM293.9 43.9h1.2v1.2h-1.2zM294.9 45.9h1.2v1.2h-1.2zM290.9 47.9h1.2v1.2h-1.2zM291.9 48.9h1.2v1.2h-1.2zM297.9 47.9h1.2v1.2h-1.2zM299.9 49.9h1.2v1.2h-1.2zM301.9 49.9h1.2v1.2h-1.2zM303.9 48.9h1.2v1.2h-1.2zM287.9 50.9h1.2v1.2h-1.2zM288.9 51.9h1.2v1.2h-1.2zM293.9 51.9h1.2v1.2h-1.2zM292.9 54.9h1.2v1.2h-1.2zM291.9 55.9h1.2v1.2h-1.2zM279.9 53.9h1.2v1.2h-1.2zM282.9 55.9h1.2v1.2h-1.2zM283.9 57.9h1.2v1.2h-1.2zM285.9 57.9h1.2v1.2h-1.2zM287.9 56.9h1.2v1.2h-1.2zM292.9 55.9h1.2v1.2h-1.2zM226.9 107.9h1.2v1.2h-1.2zM229.9 103.9h1.2v1.2h-1.2zM232.9 100.9h1.2v1.2h-1.2zM235.9 98.9h1.2v1.2h-1.2zM238.9 96.9h1.2v1.2h-1.2zM220.9 111.9h1.2v1.2h-1.2zM217.9 112.9h1.2v1.2h-1.2zM215.9 115.9h1.2v1.2h-1.2zM223.9 109.9h1.2v1.2h-1.2zM228.9 105.9h1.2v1.2h-1.2zM260.9 79.9h1.2v1.2h-1.2zM263.9 78.9h1.2v1.2h-1.2zM266.9 73.9h1.2v1.2h-1.2zM246.9 84.9h1.2v1.2h-1.2zM245.9 90.9h1.2v1.2h-1.2zM264.9 75.9h1.2v1.2h-1.2zM259.9 71.9h1.2v1.2h-1.2zM260.9 80.9h1.2v1.2h-1.2zM265.9 66.9h1.2v1.2h-1.2zM244.9 86.9h1.2v1.2h-1.2zM268.9 64.9h1.2v1.2h-1.2zM259.9 68.9h1.2v1.2h-1.2zM259.9 79.9h1.2v1.2h-1.2zM265.9 65.9h1.2v1.2h-1.2zM247.9 84.9h1.2v1.2h-1.2zM262.9 68.9h1.2v1.2h-1.2zM244.9 86.9h1.2v1.2h-1.2zM266.9 64.9h1.2v1.2h-1.2zM260.9 70.9h1.2v1.2h-1.2zM274.9 61.9h1.2v1.2h-1.2zM277.9 63.9h1.2v1.2h-1.2zM271.9 68.9h1.2v1.2h-1.2zM258.9 72.9h1.2v1.2h-1.2zM249.9 89.9h1.2v1.2h-1.2zM247.9 89.9h1.2v1.2h-1.2zM271.9 68.9h1.2v1.2h-1.2zM273.9 66.9h1.2v1.2h-1.2zM259.9 69.9h1.2v1.2h-1.2zM242.9 88.9h1.2v1.2h-1.2zM247.9 84.9h1.2v1.2h-1.2zM253.9 86.9h1.2v1.2h-1.2zM272.9 62.9h1.2v1.2h-1.2zM275.9 65.9h1.2v1.2h-1.2zM255.9 76.9h1.2v1.2h-1.2zM277.9 62.9h1.2v1.2h-1.2zM251.9 79.9h1.2v1.2h-1.2zM245.9 89.9h1.2v1.2h-1.2zM250.9 78.9h1.2v1.2h-1.2zM260.9 69.9h1.2v1.2h-1.2zM273.9 68.9h1.2v1.2h-1.2zM264.9 76.9h1.2v1.2h-1.2zM267.9 64.9h1.2v1.2h-1.2zM268.9 64.9h1.2v1.2h-1.2zM252.9 78.9h1.2v1.2h-1.2zM275.9 59.9h1.2v1.2h-1.2zM252.9 84.9h1.2v1.2h-1.2zM277.9 59.9h1.2v1.2h-1.2zM262.9 69.9h1.2v1.2h-1.2zM248.9 83.9h1.2v1.2h-1.2zM259.9 69.9h1.2v1.2h-1.2zM274.9 65.9h1.2v1.2h-1.2zM248.9 83.9h1.2v1.2h-1.2zM254.9 78.9h1.2v1.2h-1.2zM262.9 77.9h1.2v1.2h-1.2zM268.9 62.9h1.2v1.2h-1.2zM255.9 75.9h1.2v1.2h-1.2zM244.9 87.9h1.2v1.2h-1.2zM260.9 78.9h1.2v1.2h-1.2zM273.9 61.9h1.2v1.2h-1.2zM256.9 74.9h1.2v1.2h-1.2zM276.9 63.9h1.2v1.2h-1.2zM243.9 90.9h1.2v1.2h-1.2zM274.9 61.9h1.2v1.2h-1.2zM256.9 81.9h1.2v1.2h-1.2zM271.9 69.9h1.2v1.2h-1.2zM245.9 85.9h1.2v1.2h-1.2zM260.9 80.9h1.2v1.2h-1.2zM265.9 75.9h1.2v1.2h-1.2zM258.9 82.9h1.2v1.2h-1.2zM250.9 86.9h1.2v1.2h-1.2zM265.9 66.9h1.2v1.2h-1.2zM264.9 75.9h1.2v1.2h-1.2zM246.9 84.9h1.2v1.2h-1.2zM255.9 75.9h1.2v1.2h-1.2zM263.9 68.9h1.2v1.2h-1.2zM276.9 64.9h1.2v1.2h-1.2zM273.9 61.9h1.2v1.2h-1.2zM276.9 63.9h1.2v1.2h-1.2zM253.9 77.9h1.2v1.2h-1.2zM257.9 74.9h1.2v1.2h-1.2zM266.9 73.9h1.2v1.2h-1.2zM254.9 78.9h1.2v1.2h-1.2zM266.9 65.9h1.2v1.2h-1.2zM260.9 69.9h1.2v1.2h-1.2zM276.9 60.9h1.2v1.2h-1.2zM249.9 87.9h1.2v1.2h-1.2zM252.9 85.9h1.2v1.2h-1.2zM250.9 82.9h1.2v1.2h-1.2zM265.9 74.9h1.2v1.2h-1.2zM249.9 87.9h1.2v1.2h-1.2zM247.9 83.9h1.2v1.2h-1.2zM274.9 66.9h1.2v1.2h-1.2zM268.9 72.9h1.2v1.2h-1.2zM248.9 88.9h1.2v1.2h-1.2zM268.9 63.9h1.2v1.2h-1.2zM255.9 75.9h1.2v1.2h-1.2zM248.9 83.9h1.2v1.2h-1.2zM276.9 59.9h1.2v1.2h-1.2zM276.9 59.9h1.2v1.2h-1.2zM271.9 60.9h1.2v1.2h-1.2zM243.9 86.9h1.2v1.2h-1.2zM248.9 81.9h1.2v1.2h-1.2zM274.9 59.9h1.2v1.2h-1.2zM269.9 62.9h1.2v1.2h-1.2zM243.9 87.9h1.2v1.2h-1.2zM268.9 71.9h1.2v1.2h-1.2zM254.9 76.9h1.2v1.2h-1.2zM251.9 85.9h1.2v1.2h-1.2zM253.9 76.9h1.2v1.2h-1.2zM274.9 64.9h1.2v1.2h-1.2zM275.9 60.9h1.2v1.2h-1.2zM276.9 64.9h1.2v1.2h-1.2zM255.9 74.9h1.2v1.2h-1.2zM275.9 60.9h1.2v1.2h-1.2zM270.9 70.9h1.2v1.2h-1.2zM263.9 66.9h1.2v1.2h-1.2zM253.9 78.9h1.2v1.2h-1.2zM249.9 87.9h1.2v1.2h-1.2zM250.9 79.9h1.2v1.2h-1.2zM253.9 83.9h1.2v1.2h-1.2zM273.9 66.9h1.2v1.2h-1.2zM245.9 85.9h1.2v1.2h-1.2zM267.9 65.9h1.2v1.2h-1.2zM264.9 76.9h1.2v1.2h-1.2zM268.9 71.9h1.2v1.2h-1.2zM272.9 61.9h1.2v1.2h-1.2zM262.9 69.9h1.2v1.2h-1.2zM250.9 80.9h1.2v1.2h-1.2zM247.9 89.9h1.2v1.2h-1.2zM256.9 82.9h1.2v1.2h-1.2zM260.9 70.9h1.2v1.2h-1.2zM277.9 58.9h1.2v1.2h-1.2zM259.9 81.9h1.2v1.2h-1.2zM243.9 85.9h1.2v1.2h-1.2zM246.9 84.9h1.2v1.2h-1.2zM275.9 60.9h1.2v1.2h-1.2zM273.9 61.9h1.2v1.2h-1.2zM276.9 58.9h1.2v1.2h-1.2zM263.9 76.9h1.2v1.2h-1.2zM247.9 83.9h1.2v1.2h-1.2zM251.9 86.9h1.2v1.2h-1.2zM242.9 88.9h1.2v1.2h-1.2zM266.9 66.9h1.2v1.2h-1.2zM270.9 70.9h1.2v1.2h-1.2zM244.9 86.9h1.2v1.2h-1.2zM265.9 66.9h1.2v1.2h-1.2zM247.9 88.9h1.2v1.2h-1.2zM253.9 84.9h1.2v1.2h-1.2zM253.9 84.9h1.2v1.2h-1.2zM273.9 68.9h1.2v1.2h-1.2zM255.9 77.9h1.2v1.2h-1.2zM242.9 92.9h1.2v1.2h-1.2zM257.9 83.9h1.2v1.2h-1.2zM258.9 71.9h1.2v1.2h-1.2zM242.9 92.9h1.2v1.2h-1.2zM245.9 91.9h1.2v1.2h-1.2zM255.9 83.9h1.2v1.2h-1.2zM260.9 79.9h1.2v1.2h-1.2zM245.9 84.9h1.2v1.2h-1.2zM249.9 79.9h1.2v1.2h-1.2zM275.9 64.9h1.2v1.2h-1.2zM275.9 61.9h1.2v1.2h-1.2zM274.9 65.9h1.2v1.2h-1.2zM270.9 62.9h1.2v1.2h-1.2zM256.9 81.9h1.2v1.2h-1.2zM249.9 81.9h1.2v1.2h-1.2zM260.9 70.9h1.2v1.2h-1.2zM268.9 72.9h1.2v1.2h-1.2zM243.9 90.9h1.2v1.2h-1.2zM272.9 62.9h1.2v1.2h-1.2zM263.9 76.9h1.2v1.2h-1.2zM257.9 81.9h1.2v1.2h-1.2zM257.9 82.9h1.2v1.2h-1.2zM242.9 91.9h1.2v1.2h-1.2zM259.9 71.9h1.2v1.2h-1.2zM258.9 70.9h1.2v1.2h-1.2zM259.9 71.9h1.2v1.2h-1.2zM245.9 85.9h1.2v1.2h-1.2zM260.9 71.9h1.2v1.2h-1.2zM268.9 72.9h1.2v1.2h-1.2zM260.9 70.9h1.2v1.2h-1.2zM276.9 60.9h1.2v1.2h-1.2zM272.9 67.9h1.2v1.2h-1.2zM248.9 89.9h1.2v1.2h-1.2zM259.9 79.9h1.2v1.2h-1.2zM270.9 70.9h1.2v1.2h-1.2zM244.9 87.9h1.2v1.2h-1.2zM274.9 60.9h1.2v1.2h-1.2zM271.9 60.9h1.2v1.2h-1.2zM249.9 82.9h1.2v1.2h-1.2zM260.9 70.9h1.2v1.2h-1.2zM247.9 88.9h1.2v1.2h-1.2zM266.9 74.9h1.2v1.2h-1.2zM246.9 90.9h1.2v1.2h-1.2zM264.9 66.9h1.2v1.2h-1.2zM262.9 77.9h1.2v1.2h-1.2zM245.9 89.9h1.2v1.2h-1.2zM270.9 62.9h1.2v1.2h-1.2zM277.9 63.9h1.2v1.2h-1.2zM257.9 72.9h1.2v1.2h-1.2zM268.9 63.9h1.2v1.2h-1.2zM265.9 75.9h1.2v1.2h-1.2zM263.9 76.9h1.2v1.2h-1.2zM243.9 88.9h1.2v1.2h-1.2zM264.9 65.9h1.2v1.2h-1.2zM246.9 85.9h1.2v1.2h-1.2zM265.9 65.9h1.2v1.2h-1.2zM245.9 86.9h1.2v1.2h-1.2zM250.9 87.9h1.2v1.2h-1.2zM264.9 67.9h1.2v1.2h-1.2zM246.9 88.9h1.2v1.2h-1.2zM245.9 89.9h1.2v1.2h-1.2zM273.9 67.9h1.2v1.2h-1.2zM242.9 91.9h1.2v1.2h-1.2zM262.9 69.9h1.2v1.2h-1.2zM275.9 65.9h1.2v1.2h-1.2zM250.9 87.9h1.2v1.2h-1.2zM256.9 75.9h1.2v1.2h-1.2zM244.9 91.9h1.2v1.2h-1.2zM275.9 60.9h1.2v1.2h-1.2zM249.9 89.9h1.2v1.2h-1.2zM271.9 62.9h1.2v1.2h-1.2zM253.9 76.9h1.2v1.2h-1.2zM270.9 70.9h1.2v1.2h-1.2zM242.9 91.9h1.2v1.2h-1.2zM268.9 62.9h1.2v1.2h-1.2zM250.9 82.9h1.2v1.2h-1.2zM254.9 83.9h1.2v1.2h-1.2zM267.9 73.9h1.2v1.2h-1.2zM261.9 69.9h1.2v1.2h-1.2zM270.9 70.9h1.2v1.2h-1.2zM276.9 58.9h1.2v1.2h-1.2zM273.9 61.9h1.2v1.2h-1.2zM268.9 72.9h1.2v1.2h-1.2zM268.9 63.9h1.2v1.2h-1.2zM250.9 86.9h1.2v1.2h-1.2zM264.9 76.9h1.2v1.2h-1.2zM258.9 82.9h1.2v1.2h-1.2zM267.9 74.9h1.2v1.2h-1.2zM262.9 68.9h1.2v1.2h-1.2zM249.9 89.9h1.2v1.2h-1.2zM247.9 83.9h1.2v1.2h-1.2zM245.9 89.9h1.2v1.2h-1.2zM243.9 88.9h1.2v1.2h-1.2zM266.9 73.9h1.2v1.2h-1.2zM244.9 91.9h1.2v1.2h-1.2zM255.9 83.9h1.2v1.2h-1.2zM244.9 92.9h1.2v1.2h-1.2zM274.9 65.9h1.2v1.2h-1.2zM246.9 85.9h1.2v1.2h-1.2zM272.9 69.9h1.2v1.2h-1.2zM264.9 65.9h1.2v1.2h-1.2zM245.9 86.9h1.2v1.2h-1.2zM253.9 78.9h1.2v1.2h-1.2zM242.9 88.9h1.2v1.2h-1.2zM255.9 75.9h1.2v1.2h-1.2zM276.9 63.9h1.2v1.2h-1.2zM243.9 87.9h1.2v1.2h-1.2zM257.9 81.9h1.2v1.2h-1.2zM261.9 68.9h1.2v1.2h-1.2zM273.9 61.9h1.2v1.2h-1.2zM242.9 89.9h1.2v1.2h-1.2zM269.9 72.9h1.2v1.2h-1.2zM259.9 79.9h1.2v1.2h-1.2zM248.9 82.9h1.2v1.2h-1.2zM251.9 87.9h1.2v1.2h-1.2zM252.9 79.9h1.2v1.2h-1.2zM245.9 90.9h1.2v1.2h-1.2zM244.9 90.9h1.2v1.2h-1.2zM264.9 65.9h1.2v1.2h-1.2zM256.9 75.9h1.2v1.2h-1.2zM273.9 61.9h1.2v1.2h-1.2zM249.9 81.9h1.2v1.2h-1.2zM255.9 83.9h1.2v1.2h-1.2zM250.9 79.9h1.2v1.2h-1.2zM269.9 71.9h1.2v1.2h-1.2zM254.9 76.9h1.2v1.2h-1.2zM265.9 76.9h1.2v1.2h-1.2zM248.9 83.9h1.2v1.2h-1.2zM246.9 83.9h1.2v1.2h-1.2zM273.9 61.9h1.2v1.2h-1.2zM267.9 73.9h1.2v1.2h-1.2zM247.9 84.9h1.2v1.2h-1.2zM260.9 69.9h1.2v1.2h-1.2zM253.9 76.9h1.2v1.2h-1.2zM245.9 89.9h1.2v1.2h-1.2zM245.9 84.9h1.2v1.2h-1.2zM268.9 64.9h1.2v1.2h-1.2zM249.9 88.9h1.2v1.2h-1.2zM255.9 75.9h1.2v1.2h-1.2zM256.9 82.9h1.2v1.2h-1.2zM264.9 66.9h1.2v1.2h-1.2zM247.9 90.9h1.2v1.2h-1.2zM274.9 60.9h1.2v1.2h-1.2zM262.9 77.9h1.2v1.2h-1.2zM267.9 72.9h1.2v1.2h-1.2zM269.9 71.9h1.2v1.2h-1.2zM265.9 65.9h1.2v1.2h-1.2zM253.9 85.9h1.2v1.2h-1.2zM270.9 70.9h1.2v1.2h-1.2zM264.9 66.9h1.2v1.2h-1.2zM264.9 67.9h1.2v1.2h-1.2zM266.9 74.9h1.2v1.2h-1.2zM270.9 61.9h1.2v1.2h-1.2zM259.9 80.9h1.2v1.2h-1.2zM247.9 88.9h1.2v1.2h-1.2zM275.9 65.9h1.2v1.2h-1.2zM261.9 78.9h1.2v1.2h-1.2zM260.9 79.9h1.2v1.2h-1.2zM256.9 82.9h1.2v1.2h-1.2zM249.9 88.9h1.2v1.2h-1.2zM246.9 90.9h1.2v1.2h-1.2zM254.9 77.9h1.2v1.2h-1.2zM242.9 88.9h1.2v1.2h-1.2zM257.9 81.9h1.2v1.2h-1.2zM250.9 87.9h1.2v1.2h-1.2zM275.9 64.9h1.2v1.2h-1.2zM256.9 73.9h1.2v1.2h-1.2zM246.9 89.9h1.2v1.2h-1.2zM258.9 81.9h1.2v1.2h-1.2zM250.9 87.9h1.2v1.2h-1.2zM271.9 70.9h1.2v1.2h-1.2zM258.9 72.9h1.2v1.2h-1.2zM272.9 62.9h1.2v1.2h-1.2zM272.9 61.9h1.2v1.2h-1.2zM257.9 73.9h1.2v1.2h-1.2zM242.9 91.9h1.2v1.2h-1.2zM252.9 78.9h1.2v1.2h-1.2zM257.9 81.9h1.2v1.2h-1.2zM275.9 65.9h1.2v1.2h-1.2zM244.9 91.9h1.2v1.2h-1.2zM247.9 89.9h1.2v1.2h-1.2zM264.9 64.9h1.2v1.2h-1.2zM265.9 66.9h1.2v1.2h-1.2zM245.9 86.9h1.2v1.2h-1.2zM254.9 75.9h1.2v1.2h-1.2zM274.9 66.9h1.2v1.2h-1.2zM263.9 78.9h1.2v1.2h-1.2zM266.9 74.9h1.2v1.2h-1.2zM249.9 89.9h1.2v1.2h-1.2zM261.9 80.9h1.2v1.2h-1.2zM261.9 69.9h1.2v1.2h-1.2zM250.9 81.9h1.2v1.2h-1.2zM258.9 72.9h1.2v1.2h-1.2zM259.9 69.9h1.2v1.2h-1.2zM242.9 91.9h1.2v1.2h-1.2zM258.9 81.9h1.2v1.2h-1.2zM255.9 74.9h1.2v1.2h-1.2zM276.9 59.9h1.2v1.2h-1.2zM243.9 92.9h1.2v1.2h-1.2zM266.9 75.9h1.2v1.2h-1.2zM260.9 68.9h1.2v1.2h-1.2zM274.9 61.9h1.2v1.2h-1.2zM254.9 85.9h1.2v1.2h-1.2zM255.9 74.9h1.2v1.2h-1.2zM249.9 82.9h1.2v1.2h-1.2zM257.9 81.9h1.2v1.2h-1.2zM271.9 61.9h1.2v1.2h-1.2zM260.9 68.9h1.2v1.2h-1.2zM265.9 74.9h1.2v1.2h-1.2zM253.9 78.9h1.2v1.2h-1.2zM264.9 76.9h1.2v1.2h-1.2zM243.9 91.9h1.2v1.2h-1.2zM243.9 87.9h1.2v1.2h-1.2zM242.9 88.9h1.2v1.2h-1.2zM265.9 75.9h1.2v1.2h-1.2zM274.9 66.9h1.2v1.2h-1.2zM267.9 74.9h1.2v1.2h-1.2zM266.9 65.9h1.2v1.2h-1.2zM269.9 62.9h1.2v1.2h-1.2zM248.9 83.9h1.2v1.2h-1.2zM265.9 64.9h1.2v1.2h-1.2zM271.9 69.9h1.2v1.2h-1.2zM252.9 79.9h1.2v1.2h-1.2zM253.9 77.9h1.2v1.2h-1.2zM243.9 92.9h1.2v1.2h-1.2zM243.9 87.9h1.2v1.2h-1.2zM275.9 59.9h1.2v1.2h-1.2zM242.9 86.9h1.2v1.2h-1.2zM277.9 58.9h1.2v1.2h-1.2z" fill="#000"/>
<rect x="211.3" y="29.4" width="100.30000000000001" height="91.19999999999999" fill="none" stroke="#111" stroke-width="1.05"/>
<line x1="221.72" y1="120.6" x2="221.72" y2="123.19999999999999" stroke="#444" stroke-width="1.1" />
<text x="221.92" y="134.3" font-size="8" fill="#161616" color="#161616" text-anchor="middle" >-6</text>
<line x1="208.3" y1="111.46" x2="211.3" y2="111.46" stroke="#444" stroke-width="1.1" />
<text x="205.5" y="114.36" font-size="8" fill="#161616" color="#161616" text-anchor="end" >-6</text>
<line x1="234.98" y1="120.6" x2="234.98" y2="123.19999999999999" stroke="#444" stroke-width="1.1" />
<text x="235.17999999999998" y="134.3" font-size="8" fill="#161616" color="#161616" text-anchor="middle" >-4</text>
<line x1="208.3" y1="99.33999999999999" x2="211.3" y2="99.33999999999999" stroke="#444" stroke-width="1.1" />
<text x="205.5" y="102.24" font-size="8" fill="#161616" color="#161616" text-anchor="end" >-4</text>
<line x1="248.24" y1="120.6" x2="248.24" y2="123.19999999999999" stroke="#444" stroke-width="1.1" />
<text x="248.44" y="134.3" font-size="8" fill="#161616" color="#161616" text-anchor="middle" >-2</text>
<line x1="208.3" y1="87.22" x2="211.3" y2="87.22" stroke="#444" stroke-width="1.1" />
<text x="205.5" y="90.12" font-size="8" fill="#161616" color="#161616" text-anchor="end" >-2</text>
<line x1="261.5" y1="120.6" x2="261.5" y2="123.19999999999999" stroke="#444" stroke-width="1.1" />
<text x="261.7" y="134.3" font-size="8" fill="#161616" color="#161616" text-anchor="middle" >0</text>
<line x1="208.3" y1="75.1" x2="211.3" y2="75.1" stroke="#444" stroke-width="1.1" />
<text x="205.5" y="78.0" font-size="8" fill="#161616" color="#161616" text-anchor="end" >0</text>
<line x1="274.76" y1="120.6" x2="274.76" y2="123.19999999999999" stroke="#444" stroke-width="1.1" />
<text x="274.96" y="134.3" font-size="8" fill="#161616" color="#161616" text-anchor="middle" >2</text>
<line x1="208.3" y1="62.98" x2="211.3" y2="62.98" stroke="#444" stroke-width="1.1" />
<text x="205.5" y="65.88" font-size="8" fill="#161616" color="#161616" text-anchor="end" >2</text>
<line x1="288.02" y1="120.6" x2="288.02" y2="123.19999999999999" stroke="#444" stroke-width="1.1" />
<text x="288.21999999999997" y="134.3" font-size="8" fill="#161616" color="#161616" text-anchor="middle" >4</text>
<line x1="208.3" y1="50.86" x2="211.3" y2="50.86" stroke="#444" stroke-width="1.1" />
<text x="205.5" y="53.76" font-size="8" fill="#161616" color="#161616" text-anchor="end" >4</text>
<line x1="301.28" y1="120.6" x2="301.28" y2="123.19999999999999" stroke="#444" stroke-width="1.1" />
<text x="301.47999999999996" y="134.3" font-size="8" fill="#161616" color="#161616" text-anchor="middle" >6</text>
<line x1="208.3" y1="38.739999999999995" x2="211.3" y2="38.739999999999995" stroke="#444" stroke-width="1.1" />
<text x="205.5" y="41.63999999999999" font-size="8" fill="#161616" color="#161616" text-anchor="end" >6</text>
<text x="221.1" y="146.7" font-size="8.9" fill="#161616" color="#161616" textLength="81.3" lengthAdjust="spacingAndGlyphs" >R359X/WT (fold change)</text>
<text transform="translate(192.4 110) rotate(-90)" font-size="8.3" fill="#161616" color="#161616" textLength="69" lengthAdjust="spacingAndGlyphs" >EV/WT (fold change)</text>
<text x="269" y="116.8" font-size="7.7" fill="#161616" color="#161616" textLength="39.2" lengthAdjust="spacingAndGlyphs" >R<tspan font-size="5" dy="-2.8">2</tspan><tspan dy="2.8"> = 0.8435</tspan></text>
<line x1="398.6" y1="29.4" x2="398.6" y2="120.6" stroke="#c8c8c8" stroke-width="0.8" />
<line x1="348" y1="75.1" x2="448.5" y2="75.1" stroke="#c8c8c8" stroke-width="0.8" />
<rect x="348" y="29.4" width="100.5" height="91.19999999999999" fill="none" stroke="#111" stroke-width="1.05"/>
<path d="M370.0 86.5 L370.9 84.5 L371.8 82.9 L372.7 82.2 L373.6 81.4 L374.5 80.7 L375.4 80.0 L376.4 79.4 L377.3 78.8 L378.2 78.2 L379.1 77.6 L380.0 77.0 L380.9 76.6 L381.8 76.2 L382.7 75.8 L383.6 75.3 L384.5 74.9 L385.4 74.5 L386.4 74.1 L387.3 73.7 L388.2 73.2 L389.1 72.8 L390.0 72.4 L390.9 72.2 L391.8 71.9 L392.7 71.7 L393.6 71.5 L394.5 71.2 L395.4 71.0 L396.3 70.8 L397.2 70.5 L398.2 70.3 L399.1 70.0 L400.0 69.7 L400.9 69.4 L401.8 69.1 L402.7 68.8 L403.6 68.5 L404.5 68.2 L405.4 67.8 L406.3 67.4 L407.2 66.9 L408.1 66.5 L409.1 66.1 L410.0 65.6 L410.9 65.2 L411.8 64.7 L412.7 64.3 L413.6 63.9 L414.5 63.4 L415.4 63.0 L416.3 62.6 L417.2 62.1 L418.1 61.7 L419.1 61.3 L420.0 60.8 L420.9 60.6 L421.8 60.5 L422.7 60.3 L423.6 60.2 L424.5 60.0 L424.5 61.2 L423.6 62.0 L422.7 62.9 L421.8 63.7 L420.9 64.6 L420.0 65.4 L419.1 66.3 L418.1 67.2 L417.2 68.1 L416.3 68.9 L415.4 69.8 L414.5 70.5 L413.6 71.2 L412.7 71.8 L411.8 72.4 L410.9 73.0 L410.0 73.6 L409.1 74.2 L408.1 74.7 L407.2 75.3 L406.3 75.8 L405.4 76.3 L404.5 76.8 L403.6 77.2 L402.7 77.5 L401.8 77.9 L400.9 78.3 L400.0 78.6 L399.1 79.0 L398.2 79.4 L397.2 79.7 L396.3 80.0 L395.4 80.4 L394.5 80.7 L393.6 81.1 L392.7 81.4 L391.8 81.7 L390.9 82.1 L390.0 82.4 L389.1 82.8 L388.2 83.1 L387.3 83.4 L386.4 83.8 L385.4 84.1 L384.5 84.5 L383.6 84.8 L382.7 85.2 L381.8 85.5 L380.9 85.9 L380.0 86.2 L379.1 86.6 L378.2 86.9 L377.3 87.3 L376.4 87.7 L375.4 88.0 L374.5 88.3 L373.6 88.4 L372.7 88.6 L371.8 88.7 L370.9 88.7 L370.0 88.6Z" fill="#000"/>
<path d="M391.9 70.9h1.2v1.2h-1.2zM377.9 76.9h1.2v1.2h-1.2zM369.9 88.9h1.2v1.2h-1.2zM373.9 88.9h1.2v1.2h-1.2zM376.9 77.9h1.2v1.2h-1.2zM408.9 64.9h1.2v1.2h-1.2zM371.9 87.9h1.2v1.2h-1.2zM408.9 63.9h1.2v1.2h-1.2zM403.9 77.9h1.2v1.2h-1.2zM382.9 84.9h1.2v1.2h-1.2zM408.9 64.9h1.2v1.2h-1.2zM413.9 62.9h1.2v1.2h-1.2zM385.9 83.9h1.2v1.2h-1.2zM395.9 68.9h1.2v1.2h-1.2zM389.9 82.9h1.2v1.2h-1.2zM376.9 86.9h1.2v1.2h-1.2zM388.9 81.9h1.2v1.2h-1.2zM390.9 81.9h1.2v1.2h-1.2zM420.9 63.9h1.2v1.2h-1.2zM372.9 87.9h1.2v1.2h-1.2zM407.9 74.9h1.2v1.2h-1.2zM422.9 62.9h1.2v1.2h-1.2zM401.9 66.9h1.2v1.2h-1.2zM389.9 81.9h1.2v1.2h-1.2zM401.9 76.9h1.2v1.2h-1.2zM369.9 84.9h1.2v1.2h-1.2zM392.9 80.9h1.2v1.2h-1.2zM371.9 88.9h1.2v1.2h-1.2zM413.9 70.9h1.2v1.2h-1.2zM415.9 68.9h1.2v1.2h-1.2zM406.9 74.9h1.2v1.2h-1.2zM399.9 77.9h1.2v1.2h-1.2zM379.9 85.9h1.2v1.2h-1.2zM402.9 76.9h1.2v1.2h-1.2zM394.9 69.9h1.2v1.2h-1.2zM412.9 62.9h1.2v1.2h-1.2zM373.9 87.9h1.2v1.2h-1.2zM400.9 77.9h1.2v1.2h-1.2zM417.9 66.9h1.2v1.2h-1.2zM379.9 75.9h1.2v1.2h-1.2zM378.9 85.9h1.2v1.2h-1.2zM390.9 81.9h1.2v1.2h-1.2zM377.9 76.9h1.2v1.2h-1.2zM374.9 86.9h1.2v1.2h-1.2zM411.9 62.9h1.2v1.2h-1.2zM397.9 68.9h1.2v1.2h-1.2zM370.9 88.9h1.2v1.2h-1.2zM399.9 67.9h1.2v1.2h-1.2zM411.9 62.9h1.2v1.2h-1.2zM413.9 69.9h1.2v1.2h-1.2zM382.9 74.9h1.2v1.2h-1.2zM373.9 79.9h1.2v1.2h-1.2zM399.9 78.9h1.2v1.2h-1.2zM418.9 59.9h1.2v1.2h-1.2zM401.9 66.9h1.2v1.2h-1.2zM383.9 84.9h1.2v1.2h-1.2zM403.9 75.9h1.2v1.2h-1.2zM393.9 69.9h1.2v1.2h-1.2zM421.9 61.9h1.2v1.2h-1.2zM382.9 74.9h1.2v1.2h-1.2zM418.9 65.9h1.2v1.2h-1.2zM411.9 70.9h1.2v1.2h-1.2zM404.9 75.9h1.2v1.2h-1.2zM410.9 71.9h1.2v1.2h-1.2zM405.9 65.9h1.2v1.2h-1.2zM374.9 78.9h1.2v1.2h-1.2zM383.9 73.9h1.2v1.2h-1.2zM381.9 74.9h1.2v1.2h-1.2zM405.9 65.9h1.2v1.2h-1.2zM370.9 88.9h1.2v1.2h-1.2zM381.9 85.9h1.2v1.2h-1.2zM376.9 76.9h1.2v1.2h-1.2zM374.9 87.9h1.2v1.2h-1.2zM393.9 69.9h1.2v1.2h-1.2zM413.9 62.9h1.2v1.2h-1.2zM381.9 74.9h1.2v1.2h-1.2zM407.9 74.9h1.2v1.2h-1.2zM383.9 72.9h1.2v1.2h-1.2zM377.9 76.9h1.2v1.2h-1.2zM378.9 76.9h1.2v1.2h-1.2zM386.9 83.9h1.2v1.2h-1.2zM372.9 88.9h1.2v1.2h-1.2zM405.9 65.9h1.2v1.2h-1.2zM383.9 74.9h1.2v1.2h-1.2zM388.9 82.9h1.2v1.2h-1.2zM374.9 79.9h1.2v1.2h-1.2zM417.9 60.9h1.2v1.2h-1.2zM422.9 58.9h1.2v1.2h-1.2zM412.9 62.9h1.2v1.2h-1.2zM414.9 68.9h1.2v1.2h-1.2zM379.9 75.9h1.2v1.2h-1.2zM400.9 68.9h1.2v1.2h-1.2zM378.9 85.9h1.2v1.2h-1.2zM373.9 79.9h1.2v1.2h-1.2zM402.9 67.9h1.2v1.2h-1.2zM402.9 76.9h1.2v1.2h-1.2zM413.9 69.9h1.2v1.2h-1.2zM408.9 64.9h1.2v1.2h-1.2zM408.9 64.9h1.2v1.2h-1.2zM414.9 68.9h1.2v1.2h-1.2zM395.9 69.9h1.2v1.2h-1.2zM416.9 60.9h1.2v1.2h-1.2zM379.9 85.9h1.2v1.2h-1.2zM389.9 81.9h1.2v1.2h-1.2zM369.9 88.9h1.2v1.2h-1.2zM375.9 86.9h1.2v1.2h-1.2zM413.9 69.9h1.2v1.2h-1.2zM389.9 81.9h1.2v1.2h-1.2zM372.9 88.9h1.2v1.2h-1.2zM396.9 78.9h1.2v1.2h-1.2zM398.9 68.9h1.2v1.2h-1.2zM378.9 75.9h1.2v1.2h-1.2zM382.9 84.9h1.2v1.2h-1.2zM407.9 65.9h1.2v1.2h-1.2zM369.9 88.9h1.2v1.2h-1.2zM407.9 65.9h1.2v1.2h-1.2zM416.9 67.9h1.2v1.2h-1.2zM395.9 78.9h1.2v1.2h-1.2zM384.9 73.9h1.2v1.2h-1.2zM401.9 76.9h1.2v1.2h-1.2zM377.9 85.9h1.2v1.2h-1.2zM414.9 69.9h1.2v1.2h-1.2zM390.9 70.9h1.2v1.2h-1.2zM390.9 81.9h1.2v1.2h-1.2zM411.9 63.9h1.2v1.2h-1.2zM392.9 80.9h1.2v1.2h-1.2zM412.9 70.9h1.2v1.2h-1.2zM371.9 88.9h1.2v1.2h-1.2zM421.9 62.9h1.2v1.2h-1.2zM403.9 66.9h1.2v1.2h-1.2zM397.9 68.9h1.2v1.2h-1.2zM370.9 82.9h1.2v1.2h-1.2zM421.9 62.9h1.2v1.2h-1.2zM413.9 70.9h1.2v1.2h-1.2zM417.9 60.9h1.2v1.2h-1.2zM405.9 65.9h1.2v1.2h-1.2zM398.9 78.9h1.2v1.2h-1.2zM397.9 68.9h1.2v1.2h-1.2zM420.9 59.9h1.2v1.2h-1.2zM375.9 87.9h1.2v1.2h-1.2zM421.9 62.9h1.2v1.2h-1.2zM398.9 68.9h1.2v1.2h-1.2zM375.9 77.9h1.2v1.2h-1.2zM384.9 72.9h1.2v1.2h-1.2zM373.9 87.9h1.2v1.2h-1.2zM400.9 77.9h1.2v1.2h-1.2zM379.9 85.9h1.2v1.2h-1.2zM402.9 67.9h1.2v1.2h-1.2zM385.9 72.9h1.2v1.2h-1.2zM389.9 81.9h1.2v1.2h-1.2zM369.9 83.9h1.2v1.2h-1.2zM399.9 68.9h1.2v1.2h-1.2zM384.9 83.9h1.2v1.2h-1.2zM377.9 75.9h1.2v1.2h-1.2zM416.9 60.9h1.2v1.2h-1.2zM392.9 80.9h1.2v1.2h-1.2zM374.9 77.9h1.2v1.2h-1.2zM377.9 76.9h1.2v1.2h-1.2zM388.9 82.9h1.2v1.2h-1.2zM413.9 70.9h1.2v1.2h-1.2zM409.9 72.9h1.2v1.2h-1.2zM411.9 71.9h1.2v1.2h-1.2zM418.9 59.9h1.2v1.2h-1.2zM410.9 71.9h1.2v1.2h-1.2zM396.9 79.9h1.2v1.2h-1.2zM411.9 71.9h1.2v1.2h-1.2zM402.9 67.9h1.2v1.2h-1.2zM408.9 64.9h1.2v1.2h-1.2zM390.9 81.9h1.2v1.2h-1.2zM411.9 70.9h1.2v1.2h-1.2zM396.9 69.9h1.2v1.2h-1.2zM376.9 86.9h1.2v1.2h-1.2zM400.9 67.9h1.2v1.2h-1.2zM414.9 68.9h1.2v1.2h-1.2zM421.9 58.9h1.2v1.2h-1.2zM369.9 83.9h1.2v1.2h-1.2zM399.9 67.9h1.2v1.2h-1.2zM398.9 78.9h1.2v1.2h-1.2zM397.9 78.9h1.2v1.2h-1.2zM388.9 82.9h1.2v1.2h-1.2zM388.9 82.9h1.2v1.2h-1.2zM374.9 78.9h1.2v1.2h-1.2zM390.9 81.9h1.2v1.2h-1.2zM421.9 58.9h1.2v1.2h-1.2zM392.9 80.9h1.2v1.2h-1.2zM397.9 78.9h1.2v1.2h-1.2zM378.9 75.9h1.2v1.2h-1.2zM396.9 69.9h1.2v1.2h-1.2zM417.9 66.9h1.2v1.2h-1.2zM417.9 58.9h1.2v1.2h-1.2zM377.9 76.9h1.2v1.2h-1.2zM379.9 75.9h1.2v1.2h-1.2zM403.9 77.9h1.2v1.2h-1.2zM403.9 65.9h1.2v1.2h-1.2zM391.9 80.9h1.2v1.2h-1.2zM369.9 84.9h1.2v1.2h-1.2zM414.9 68.9h1.2v1.2h-1.2zM396.9 79.9h1.2v1.2h-1.2zM383.9 85.9h1.2v1.2h-1.2zM400.9 67.9h1.2v1.2h-1.2zM375.9 78.9h1.2v1.2h-1.2zM374.9 78.9h1.2v1.2h-1.2zM397.9 79.9h1.2v1.2h-1.2zM372.9 79.9h1.2v1.2h-1.2zM410.9 63.9h1.2v1.2h-1.2zM378.9 75.9h1.2v1.2h-1.2zM374.9 87.9h1.2v1.2h-1.2zM393.9 69.9h1.2v1.2h-1.2zM371.9 88.9h1.2v1.2h-1.2zM392.9 80.9h1.2v1.2h-1.2zM382.9 73.9h1.2v1.2h-1.2zM386.9 82.9h1.2v1.2h-1.2zM413.9 61.9h1.2v1.2h-1.2zM396.9 79.9h1.2v1.2h-1.2zM382.9 74.9h1.2v1.2h-1.2zM385.9 83.9h1.2v1.2h-1.2zM395.9 79.9h1.2v1.2h-1.2zM388.9 71.9h1.2v1.2h-1.2zM421.9 59.9h1.2v1.2h-1.2zM398.9 68.9h1.2v1.2h-1.2zM390.9 70.9h1.2v1.2h-1.2zM388.9 71.9h1.2v1.2h-1.2zM379.9 75.9h1.2v1.2h-1.2zM405.9 66.9h1.2v1.2h-1.2zM377.9 86.9h1.2v1.2h-1.2zM414.9 61.9h1.2v1.2h-1.2zM393.9 79.9h1.2v1.2h-1.2zM388.9 82.9h1.2v1.2h-1.2zM389.9 81.9h1.2v1.2h-1.2zM396.9 68.9h1.2v1.2h-1.2zM393.9 70.9h1.2v1.2h-1.2zM418.9 65.9h1.2v1.2h-1.2zM389.9 71.9h1.2v1.2h-1.2zM416.9 60.9h1.2v1.2h-1.2zM396.9 78.9h1.2v1.2h-1.2zM389.9 82.9h1.2v1.2h-1.2zM399.9 68.9h1.2v1.2h-1.2zM378.9 85.9h1.2v1.2h-1.2zM386.9 82.9h1.2v1.2h-1.2zM388.9 82.9h1.2v1.2h-1.2zM385.9 72.9h1.2v1.2h-1.2zM375.9 86.9h1.2v1.2h-1.2zM384.9 72.9h1.2v1.2h-1.2zM417.9 66.9h1.2v1.2h-1.2zM376.9 76.9h1.2v1.2h-1.2zM405.9 66.9h1.2v1.2h-1.2zM391.9 80.9h1.2v1.2h-1.2zM415.9 61.9h1.2v1.2h-1.2zM403.9 66.9h1.2v1.2h-1.2zM409.9 73.9h1.2v1.2h-1.2zM371.9 81.9h1.2v1.2h-1.2zM385.9 72.9h1.2v1.2h-1.2zM371.9 81.9h1.2v1.2h-1.2zM414.9 68.9h1.2v1.2h-1.2zM408.9 64.9h1.2v1.2h-1.2zM388.9 71.9h1.2v1.2h-1.2zM414.9 68.9h1.2v1.2h-1.2zM415.9 67.9h1.2v1.2h-1.2zM371.9 80.9h1.2v1.2h-1.2zM380.9 85.9h1.2v1.2h-1.2zM409.9 63.9h1.2v1.2h-1.2zM409.9 72.9h1.2v1.2h-1.2zM384.9 72.9h1.2v1.2h-1.2zM419.9 63.9h1.2v1.2h-1.2zM409.9 72.9h1.2v1.2h-1.2zM371.9 88.9h1.2v1.2h-1.2zM392.9 80.9h1.2v1.2h-1.2zM410.9 63.9h1.2v1.2h-1.2zM407.9 73.9h1.2v1.2h-1.2zM421.9 62.9h1.2v1.2h-1.2zM398.9 68.9h1.2v1.2h-1.2zM391.9 70.9h1.2v1.2h-1.2zM385.9 72.9h1.2v1.2h-1.2zM381.9 73.9h1.2v1.2h-1.2zM397.9 68.9h1.2v1.2h-1.2zM385.9 83.9h1.2v1.2h-1.2zM376.9 86.9h1.2v1.2h-1.2zM398.9 78.9h1.2v1.2h-1.2zM378.9 86.9h1.2v1.2h-1.2zM410.9 71.9h1.2v1.2h-1.2zM375.9 78.9h1.2v1.2h-1.2zM372.9 80.9h1.2v1.2h-1.2zM379.9 85.9h1.2v1.2h-1.2zM386.9 72.9h1.2v1.2h-1.2zM388.9 71.9h1.2v1.2h-1.2zM423.9 60.9h1.2v1.2h-1.2zM373.9 88.9h1.2v1.2h-1.2zM374.9 78.9h1.2v1.2h-1.2zM392.9 70.9h1.2v1.2h-1.2zM419.9 64.9h1.2v1.2h-1.2zM403.9 76.9h1.2v1.2h-1.2zM382.9 74.9h1.2v1.2h-1.2zM370.9 88.9h1.2v1.2h-1.2zM379.9 85.9h1.2v1.2h-1.2zM415.9 68.9h1.2v1.2h-1.2zM414.9 69.9h1.2v1.2h-1.2zM386.9 72.9h1.2v1.2h-1.2zM389.9 81.9h1.2v1.2h-1.2zM389.9 81.9h1.2v1.2h-1.2zM399.9 77.9h1.2v1.2h-1.2zM413.9 70.9h1.2v1.2h-1.2zM395.9 68.9h1.2v1.2h-1.2zM377.9 76.9h1.2v1.2h-1.2zM406.9 65.9h1.2v1.2h-1.2zM393.9 79.9h1.2v1.2h-1.2zM392.9 70.9h1.2v1.2h-1.2zM408.9 64.9h1.2v1.2h-1.2zM411.9 62.9h1.2v1.2h-1.2zM384.9 83.9h1.2v1.2h-1.2zM387.9 72.9h1.2v1.2h-1.2zM405.9 75.9h1.2v1.2h-1.2zM385.9 72.9h1.2v1.2h-1.2zM399.9 68.9h1.2v1.2h-1.2zM386.9 72.9h1.2v1.2h-1.2zM421.9 62.9h1.2v1.2h-1.2zM421.9 63.9h1.2v1.2h-1.2zM413.9 62.9h1.2v1.2h-1.2zM385.9 83.9h1.2v1.2h-1.2zM420.9 59.9h1.2v1.2h-1.2zM387.9 82.9h1.2v1.2h-1.2zM370.9 81.9h1.2v1.2h-1.2zM373.9 87.9h1.2v1.2h-1.2zM389.9 81.9h1.2v1.2h-1.2zM399.9 68.9h1.2v1.2h-1.2zM375.9 77.9h1.2v1.2h-1.2zM375.9 87.9h1.2v1.2h-1.2zM382.9 73.9h1.2v1.2h-1.2zM395.9 79.9h1.2v1.2h-1.2zM381.9 84.9h1.2v1.2h-1.2zM401.9 67.9h1.2v1.2h-1.2zM391.9 69.9h1.2v1.2h-1.2zM399.9 78.9h1.2v1.2h-1.2zM410.9 63.9h1.2v1.2h-1.2zM374.9 87.9h1.2v1.2h-1.2zM390.9 70.9h1.2v1.2h-1.2zM411.9 63.9h1.2v1.2h-1.2zM411.9 63.9h1.2v1.2h-1.2zM369.9 88.9h1.2v1.2h-1.2zM380.9 75.9h1.2v1.2h-1.2zM417.9 66.9h1.2v1.2h-1.2zM416.9 67.9h1.2v1.2h-1.2zM378.9 86.9h1.2v1.2h-1.2zM387.9 82.9h1.2v1.2h-1.2zM375.9 77.9h1.2v1.2h-1.2zM409.9 72.9h1.2v1.2h-1.2zM401.9 67.9h1.2v1.2h-1.2zM398.9 78.9h1.2v1.2h-1.2zM405.9 65.9h1.2v1.2h-1.2zM379.9 75.9h1.2v1.2h-1.2zM375.9 77.9h1.2v1.2h-1.2zM375.9 87.9h1.2v1.2h-1.2zM384.9 83.9h1.2v1.2h-1.2zM389.9 70.9h1.2v1.2h-1.2zM406.9 74.9h1.2v1.2h-1.2zM420.9 59.9h1.2v1.2h-1.2zM396.9 78.9h1.2v1.2h-1.2zM412.9 62.9h1.2v1.2h-1.2zM406.9 65.9h1.2v1.2h-1.2zM394.9 69.9h1.2v1.2h-1.2zM416.9 67.9h1.2v1.2h-1.2zM373.9 79.9h1.2v1.2h-1.2zM401.9 66.9h1.2v1.2h-1.2zM378.9 75.9h1.2v1.2h-1.2zM390.9 70.9h1.2v1.2h-1.2zM369.9 87.9h1.2v1.2h-1.2zM394.9 79.9h1.2v1.2h-1.2zM371.9 81.9h1.2v1.2h-1.2zM383.9 83.9h1.2v1.2h-1.2zM383.9 85.9h1.2v1.2h-1.2zM423.9 58.9h1.2v1.2h-1.2zM399.9 78.9h1.2v1.2h-1.2zM403.9 76.9h1.2v1.2h-1.2zM388.9 71.9h1.2v1.2h-1.2zM420.9 64.9h1.2v1.2h-1.2zM385.9 82.9h1.2v1.2h-1.2zM403.9 66.9h1.2v1.2h-1.2zM399.9 68.9h1.2v1.2h-1.2zM386.9 82.9h1.2v1.2h-1.2zM395.9 69.9h1.2v1.2h-1.2zM388.9 71.9h1.2v1.2h-1.2zM369.9 88.9h1.2v1.2h-1.2zM399.9 68.9h1.2v1.2h-1.2zM378.9 76.9h1.2v1.2h-1.2zM408.9 73.9h1.2v1.2h-1.2zM420.9 58.9h1.2v1.2h-1.2zM373.9 79.9h1.2v1.2h-1.2zM400.9 77.9h1.2v1.2h-1.2zM392.9 80.9h1.2v1.2h-1.2zM372.9 79.9h1.2v1.2h-1.2zM383.9 73.9h1.2v1.2h-1.2zM377.9 76.9h1.2v1.2h-1.2zM390.9 70.9h1.2v1.2h-1.2zM401.9 76.9h1.2v1.2h-1.2zM408.9 72.9h1.2v1.2h-1.2zM401.9 67.9h1.2v1.2h-1.2zM387.9 70.9h1.2v1.2h-1.2zM379.9 85.9h1.2v1.2h-1.2zM419.9 59.9h1.2v1.2h-1.2zM386.9 82.9h1.2v1.2h-1.2zM406.9 65.9h1.2v1.2h-1.2zM372.9 80.9h1.2v1.2h-1.2zM387.9 71.9h1.2v1.2h-1.2zM401.9 67.9h1.2v1.2h-1.2zM419.9 64.9h1.2v1.2h-1.2zM422.9 58.9h1.2v1.2h-1.2zM386.9 71.9h1.2v1.2h-1.2zM377.9 76.9h1.2v1.2h-1.2zM413.9 62.9h1.2v1.2h-1.2zM398.9 78.9h1.2v1.2h-1.2zM401.9 67.9h1.2v1.2h-1.2zM409.9 64.9h1.2v1.2h-1.2zM411.9 62.9h1.2v1.2h-1.2zM411.9 71.9h1.2v1.2h-1.2zM397.9 78.9h1.2v1.2h-1.2zM376.9 76.9h1.2v1.2h-1.2zM411.9 63.9h1.2v1.2h-1.2zM422.9 59.9h1.2v1.2h-1.2zM370.9 81.9h1.2v1.2h-1.2zM372.9 87.9h1.2v1.2h-1.2zM420.9 59.9h1.2v1.2h-1.2zM363.9 78.9h1.2v1.2h-1.2zM368.9 77.9h1.2v1.2h-1.2zM365.9 85.9h1.2v1.2h-1.2zM355.9 88.9h1.2v1.2h-1.2zM362.9 89.9h1.2v1.2h-1.2zM354.9 93.9h1.2v1.2h-1.2zM363.9 92.9h1.2v1.2h-1.2zM368.9 88.9h1.2v1.2h-1.2zM367.9 89.9h1.2v1.2h-1.2zM371.9 78.9h1.2v1.2h-1.2zM373.9 76.9h1.2v1.2h-1.2z" fill="#000"/>
<line x1="358.70000000000005" y1="120.6" x2="358.70000000000005" y2="123.19999999999999" stroke="#444" stroke-width="1.1" />
<line x1="345" y1="111.31" x2="348" y2="111.31" stroke="#444" stroke-width="1.1" />
<text x="342" y="114.21000000000001" font-size="8" fill="#161616" color="#161616" text-anchor="end" >-3</text>
<line x1="372.0" y1="120.6" x2="372.0" y2="123.19999999999999" stroke="#444" stroke-width="1.1" />
<line x1="345" y1="99.24" x2="348" y2="99.24" stroke="#444" stroke-width="1.1" />
<text x="342" y="102.14" font-size="8" fill="#161616" color="#161616" text-anchor="end" >-2</text>
<line x1="385.3" y1="120.6" x2="385.3" y2="123.19999999999999" stroke="#444" stroke-width="1.1" />
<line x1="345" y1="87.16999999999999" x2="348" y2="87.16999999999999" stroke="#444" stroke-width="1.1" />
<text x="342" y="90.07" font-size="8" fill="#161616" color="#161616" text-anchor="end" >-1</text>
<line x1="398.6" y1="120.6" x2="398.6" y2="123.19999999999999" stroke="#444" stroke-width="1.1" />
<line x1="345" y1="75.1" x2="348" y2="75.1" stroke="#444" stroke-width="1.1" />
<text x="342" y="78.0" font-size="8" fill="#161616" color="#161616" text-anchor="end" >0</text>
<line x1="411.90000000000003" y1="120.6" x2="411.90000000000003" y2="123.19999999999999" stroke="#444" stroke-width="1.1" />
<line x1="345" y1="63.029999999999994" x2="348" y2="63.029999999999994" stroke="#444" stroke-width="1.1" />
<text x="342" y="65.92999999999999" font-size="8" fill="#161616" color="#161616" text-anchor="end" >1</text>
<line x1="425.20000000000005" y1="120.6" x2="425.20000000000005" y2="123.19999999999999" stroke="#444" stroke-width="1.1" />
<line x1="345" y1="50.959999999999994" x2="348" y2="50.959999999999994" stroke="#444" stroke-width="1.1" />
<text x="342" y="53.85999999999999" font-size="8" fill="#161616" color="#161616" text-anchor="end" >2</text>
<line x1="438.5" y1="120.6" x2="438.5" y2="123.19999999999999" stroke="#444" stroke-width="1.1" />
<line x1="345" y1="38.88999999999999" x2="348" y2="38.88999999999999" stroke="#444" stroke-width="1.1" />
<text x="342" y="41.78999999999999" font-size="8" fill="#161616" color="#161616" text-anchor="end" >3</text>
<text x="358.90000000000003" y="134.3" font-size="8" fill="#161616" color="#161616" text-anchor="middle" >-3</text>
<text x="372.2" y="134.3" font-size="8" fill="#161616" color="#161616" text-anchor="middle" >-2</text>
<text x="385.5" y="134.3" font-size="8" fill="#161616" color="#161616" text-anchor="middle" >-1</text>
<text x="398.8" y="134.3" font-size="8" fill="#161616" color="#161616" text-anchor="middle" >0</text>
<text x="412.1" y="134.3" font-size="8" fill="#161616" color="#161616" text-anchor="middle" >1</text>
<text x="425.40000000000003" y="134.3" font-size="8" fill="#161616" color="#161616" text-anchor="middle" >2</text>
<text x="438.7" y="134.3" font-size="8" fill="#161616" color="#161616" text-anchor="middle" >3</text>
<text x="358" y="146.7" font-size="8.9" fill="#161616" color="#161616" textLength="81.3" lengthAdjust="spacingAndGlyphs" >R359X/WT (fold change)</text>
<text transform="translate(329.4 110) rotate(-90)" font-size="8.3" fill="#161616" color="#161616" textLength="69" lengthAdjust="spacingAndGlyphs" >EV/WT (fold change)</text>
<text x="405.6" y="116.8" font-size="7.7" fill="#161616" color="#161616" textLength="39.2" lengthAdjust="spacingAndGlyphs" >R<tspan font-size="5" dy="-2.8">2</tspan><tspan dy="2.8"> = 0.6652</tspan></text>
<text x="7.8" y="174.7" font-size="10.6" fill="#000" color="#000" font-weight="bold" >C</text>
<text x="30.2" y="182.2" font-size="7.6" fill="#111" color="#111" textLength="78.8" lengthAdjust="spacingAndGlyphs" >RNA-Seq fold change</text>
<text x="48" y="191.5" font-size="7.6" fill="#111" color="#111" textLength="43.3" lengthAdjust="spacingAndGlyphs" >(R359X/WT)</text>
<rect x="134" y="186" width="79.6" height="5.1" fill="url(#cbRB)" />
<text x="137.2" y="185.2" font-size="6.7" fill="#222" color="#222" text-anchor="middle" >-1</text>
<text x="156.6" y="185.2" font-size="6.7" fill="#222" color="#222" text-anchor="middle" >-0.5</text>
<text x="175.3" y="185.2" font-size="6.7" fill="#222" color="#222" text-anchor="middle" >0</text>
<text x="195.4" y="185.2" font-size="6.7" fill="#222" color="#222" text-anchor="middle" >0.5</text>
<text x="214.9" y="185.2" font-size="6.7" fill="#222" color="#222" text-anchor="middle" >1</text>
<rect x="20" y="194.1" width="1.05" height="13.1" fill="rgb(194,186,240)" />
<rect x="21" y="194.1" width="1.05" height="13.1" fill="rgb(194,186,240)" />
<rect x="22" y="194.1" width="1.05" height="13.1" fill="rgb(208,203,242)" />
<rect x="23" y="194.1" width="1.05" height="13.1" fill="rgb(208,203,242)" />
<rect x="24" y="194.1" width="1.05" height="13.1" fill="rgb(194,186,240)" />
<rect x="25" y="194.1" width="1.05" height="13.1" fill="rgb(194,186,240)" />
<rect x="26" y="194.1" width="1.05" height="13.1" fill="rgb(208,203,242)" />
<rect x="27" y="194.1" width="1.05" height="13.1" fill="rgb(220,204,232)" />
<rect x="28" y="194.1" width="1.05" height="13.1" fill="rgb(208,203,242)" />
<rect x="29" y="194.1" width="1.05" height="13.1" fill="rgb(208,203,242)" />
<rect x="30" y="194.1" width="1.05" height="13.1" fill="rgb(208,203,242)" />
<rect x="31" y="194.1" width="1.05" height="13.1" fill="rgb(220,204,232)" />
<rect x="32" y="194.1" width="1.05" height="13.1" fill="rgb(208,203,242)" />
<rect x="33" y="194.1" width="1.05" height="13.1" fill="rgb(208,203,242)" />
<rect x="34" y="194.1" width="1.05" height="13.1" fill="rgb(220,204,232)" />
<rect x="35" y="194.1" width="1.05" height="13.1" fill="rgb(208,203,242)" />
<rect x="36" y="194.1" width="1.05" height="13.1" fill="rgb(194,186,240)" />
<rect x="37" y="194.1" width="1.05" height="13.1" fill="rgb(208,203,242)" />
<rect x="38" y="194.1" width="1.05" height="13.1" fill="rgb(194,186,240)" />
<rect x="39" y="194.1" width="1.05" height="13.1" fill="rgb(208,203,242)" />
<rect x="40" y="194.1" width="1.05" height="13.1" fill="rgb(208,203,242)" />
<rect x="41" y="194.1" width="1.05" height="13.1" fill="rgb(208,203,242)" />
<rect x="42" y="194.1" width="1.05" height="13.1" fill="rgb(194,186,240)" />
<rect x="43" y="194.1" width="1.05" height="13.1" fill="rgb(208,203,242)" />
<rect x="44" y="194.1" width="1.05" height="13.1" fill="rgb(208,203,242)" />
<rect x="45" y="194.1" width="1.05" height="13.1" fill="rgb(208,203,242)" />
<rect x="46" y="194.1" width="1.05" height="13.1" fill="rgb(208,203,242)" />
<rect x="47" y="194.1" width="1.05" height="13.1" fill="rgb(208,203,242)" />
<rect x="48" y="194.1" width="1.05" height="13.1" fill="rgb(220,204,232)" />
<rect x="49" y="194.1" width="1.05" height="13.1" fill="rgb(220,204,232)" />
<rect x="50" y="194.1" width="1.05" height="13.1" fill="rgb(220,204,232)" />
<rect x="51" y="194.1" width="1.05" height="13.1" fill="rgb(208,203,242)" />
<rect x="52" y="194.1" width="1.05" height="13.1" fill="rgb(220,204,232)" />
<rect x="53" y="194.1" width="1.05" height="13.1" fill="rgb(194,186,240)" />
<rect x="54" y="194.1" width="1.05" height="13.1" fill="rgb(208,203,242)" />
<rect x="55" y="194.1" width="1.05" height="13.1" fill="rgb(208,203,242)" />
<rect x="56" y="194.1" width="1.05" height="13.1" fill="rgb(220,204,232)" />
<rect x="57" y="194.1" width="1.05" height="13.1" fill="rgb(208,203,242)" />
<rect x="58" y="194.1" width="1.05" height="13.1" fill="rgb(194,186,240)" />
<rect x="59" y="194.1" width="1.05" height="13.1" fill="rgb(208,203,242)" />
<rect x="60" y="194.1" width="1.05" height="13.1" fill="rgb(194,186,240)" />
<rect x="61" y="194.1" width="1.05" height="13.1" fill="rgb(208,203,242)" />
<rect x="62" y="194.1" width="1.05" height="13.1" fill="rgb(208,203,242)" />
<rect x="63" y="194.1" width="1.05" height="13.1" fill="rgb(220,204,232)" />
<rect x="64" y="194.1" width="1.05" height="13.1" fill="rgb(208,203,242)" />
<rect x="65" y="194.1" width="1.05" height="13.1" fill="rgb(208,203,242)" />
<rect x="66" y="194.1" width="1.05" height="13.1" fill="rgb(220,204,232)" />
<rect x="67" y="194.1" width="1.05" height="13.1" fill="rgb(220,204,232)" />
<rect x="68" y="194.1" width="1.05" height="13.1" fill="rgb(208,203,242)" />
<rect x="69" y="194.1" width="1.05" height="13.1" fill="rgb(208,203,242)" />
<rect x="70" y="194.1" width="1.05" height="13.1" fill="rgb(194,186,240)" />
<rect x="71" y="194.1" width="1.05" height="13.1" fill="rgb(208,203,242)" />
<rect x="72" y="194.1" width="1.05" height="13.1" fill="rgb(208,203,242)" />
<rect x="73" y="194.1" width="1.05" height="13.1" fill="rgb(208,203,242)" />
<rect x="74" y="194.1" width="1.05" height="13.1" fill="rgb(208,203,242)" />
<rect x="75" y="194.1" width="1.05" height="13.1" fill="rgb(208,203,242)" />
<rect x="76" y="194.1" width="1.05" height="13.1" fill="rgb(194,186,240)" />
<rect x="77" y="194.1" width="1.05" height="13.1" fill="rgb(208,203,242)" />
<rect x="78" y="194.1" width="1.05" height="13.1" fill="rgb(220,204,232)" />
<rect x="79" y="194.1" width="1.05" height="13.1" fill="rgb(208,203,242)" />
<rect x="80" y="194.1" width="1.05" height="13.1" fill="rgb(208,203,242)" />
<rect x="81" y="194.1" width="1.05" height="13.1" fill="rgb(194,186,240)" />
<rect x="82" y="194.1" width="1.05" height="13.1" fill="rgb(208,203,242)" />
<rect x="83" y="194.1" width="1.05" height="13.1" fill="rgb(208,203,242)" />
<rect x="84" y="194.1" width="1.05" height="13.1" fill="rgb(220,204,232)" />
<rect x="85" y="194.1" width="1.05" height="13.1" fill="rgb(194,186,240)" />
<rect x="86" y="194.1" width="1.05" height="13.1" fill="rgb(194,186,240)" />
<rect x="87" y="194.1" width="1.05" height="13.1" fill="rgb(208,203,242)" />
<rect x="88" y="194.1" width="1.05" height="13.1" fill="rgb(194,186,240)" />
<rect x="89" y="194.1" width="1.05" height="13.1" fill="rgb(208,203,242)" />
<rect x="90" y="194.1" width="1.05" height="13.1" fill="rgb(194,186,240)" />
<rect x="91" y="194.1" width="1.05" height="13.1" fill="rgb(208,203,242)" />
<rect x="92" y="194.1" width="1.05" height="13.1" fill="rgb(194,186,240)" />
<rect x="93" y="194.1" width="1.05" height="13.1" fill="rgb(194,186,240)" />
<rect x="94" y="194.1" width="1.05" height="13.1" fill="rgb(208,203,242)" />
<rect x="95" y="194.1" width="1.05" height="13.1" fill="rgb(194,186,240)" />
<rect x="96" y="194.1" width="1.05" height="13.1" fill="rgb(220,204,232)" />
<rect x="97" y="194.1" width="1.05" height="13.1" fill="rgb(208,203,242)" />
<rect x="98" y="194.1" width="1.05" height="13.1" fill="rgb(208,203,242)" />
<rect x="99" y="194.1" width="1.05" height="13.1" fill="rgb(208,203,242)" />
<rect x="100" y="194.1" width="1.05" height="13.1" fill="rgb(208,203,242)" />
<rect x="101" y="194.1" width="1.05" height="13.1" fill="rgb(194,186,240)" />
<rect x="102" y="194.1" width="1.05" height="13.1" fill="rgb(220,204,232)" />
<rect x="103" y="194.1" width="1.05" height="13.1" fill="rgb(208,203,242)" />
<rect x="104" y="194.1" width="1.05" height="13.1" fill="rgb(208,203,242)" />
<rect x="105" y="194.1" width="1.05" height="13.1" fill="rgb(194,186,240)" />
<rect x="106" y="194.1" width="1.05" height="13.1" fill="rgb(208,203,242)" />
<rect x="107" y="194.1" width="1.05" height="13.1" fill="rgb(220,204,232)" />
<rect x="108" y="194.1" width="1.05" height="13.1" fill="rgb(208,203,242)" />
<rect x="109" y="194.1" width="1.05" height="13.1" fill="rgb(194,186,240)" />
<rect x="110" y="194.1" width="1.05" height="13.1" fill="rgb(194,186,240)" />
<rect x="111" y="194.1" width="1.05" height="13.1" fill="rgb(208,203,242)" />
<rect x="112" y="194.1" width="1.05" height="13.1" fill="rgb(220,204,232)" />
<rect x="113" y="194.1" width="1.05" height="13.1" fill="rgb(208,203,242)" />
<rect x="114" y="194.1" width="1.05" height="13.1" fill="rgb(194,186,240)" />
<rect x="115" y="194.1" width="1.05" height="13.1" fill="rgb(208,203,242)" />
<rect x="116" y="194.1" width="1.05" height="13.1" fill="rgb(194,186,240)" />
<rect x="117" y="194.1" width="1.05" height="13.1" fill="rgb(208,203,242)" />
<rect x="118" y="194.1" width="1.05" height="13.1" fill="rgb(194,186,240)" />
<rect x="119" y="194.1" width="1.05" height="13.1" fill="rgb(208,203,242)" />
<rect x="120" y="194.1" width="1.05" height="13.1" fill="rgb(194,186,240)" />
<rect x="121" y="194.1" width="1.05" height="13.1" fill="rgb(208,203,242)" />
<rect x="122" y="194.1" width="1.05" height="13.1" fill="rgb(208,203,242)" />
<rect x="123" y="194.1" width="1.05" height="13.1" fill="rgb(194,186,240)" />
<rect x="124" y="194.1" width="1.05" height="13.1" fill="rgb(220,204,232)" />
<rect x="125" y="194.1" width="1.05" height="13.1" fill="rgb(208,203,242)" />
<rect x="126" y="194.1" width="1.05" height="13.1" fill="rgb(208,203,242)" />
<rect x="127" y="194.1" width="1.05" height="13.1" fill="rgb(228,202,222)" />
<rect x="128" y="194.1" width="1.05" height="13.1" fill="rgb(228,202,222)" />
<rect x="129" y="194.1" width="1.05" height="13.1" fill="rgb(230,192,210)" />
<rect x="130" y="194.1" width="1.05" height="13.1" fill="rgb(230,192,210)" />
<rect x="131" y="194.1" width="1.05" height="13.1" fill="rgb(218,204,234)" />
<rect x="132" y="194.1" width="1.05" height="13.1" fill="rgb(228,202,222)" />
<rect x="133" y="194.1" width="1.05" height="13.1" fill="rgb(228,202,222)" />
<rect x="134" y="194.1" width="1.05" height="13.1" fill="rgb(228,202,222)" />
<rect x="135" y="194.1" width="1.05" height="13.1" fill="rgb(228,202,222)" />
<rect x="136" y="194.1" width="1.05" height="13.1" fill="rgb(228,202,222)" />
<rect x="137" y="194.1" width="1.05" height="13.1" fill="rgb(218,204,234)" />
<rect x="138" y="194.1" width="1.05" height="13.1" fill="rgb(228,202,222)" />
<rect x="139" y="194.1" width="1.05" height="13.1" fill="rgb(218,204,234)" />
<rect x="140" y="194.1" width="1.05" height="13.1" fill="rgb(228,202,222)" />
<rect x="141" y="194.1" width="1.05" height="13.1" fill="rgb(228,202,222)" />
<rect x="142" y="194.1" width="1.05" height="13.1" fill="rgb(218,204,234)" />
<rect x="143" y="194.1" width="1.05" height="13.1" fill="rgb(218,204,234)" />
<rect x="144" y="194.1" width="1.05" height="13.1" fill="rgb(218,204,234)" />
<rect x="145" y="194.1" width="1.05" height="13.1" fill="rgb(218,204,234)" />
<rect x="146" y="194.1" width="1.05" height="13.1" fill="rgb(230,178,196)" />
<rect x="147" y="194.1" width="1.05" height="13.1" fill="rgb(230,178,196)" />
<rect x="148" y="194.1" width="1.05" height="13.1" fill="rgb(230,178,196)" />
<rect x="149" y="194.1" width="1.05" height="13.1" fill="rgb(230,178,196)" />
<rect x="150" y="194.1" width="1.05" height="13.1" fill="rgb(230,196,214)" />
<rect x="151" y="194.1" width="1.05" height="13.1" fill="rgb(230,196,214)" />
<rect x="152" y="194.1" width="1.05" height="13.1" fill="rgb(221,205,230)" />
<rect x="153" y="194.1" width="1.05" height="13.1" fill="rgb(230,178,196)" />
<rect x="154" y="194.1" width="1.05" height="13.1" fill="rgb(230,196,214)" />
<rect x="155" y="194.1" width="1.05" height="13.1" fill="rgb(230,196,214)" />
<rect x="156" y="194.1" width="1.05" height="13.1" fill="rgb(221,205,230)" />
<rect x="157" y="194.1" width="1.05" height="13.1" fill="rgb(230,196,214)" />
<rect x="158" y="194.1" width="1.05" height="13.1" fill="rgb(230,178,196)" />
<rect x="159" y="194.1" width="1.05" height="13.1" fill="rgb(230,196,214)" />
<rect x="160" y="194.1" width="1.05" height="13.1" fill="rgb(221,205,230)" />
<rect x="161" y="194.1" width="1.05" height="13.1" fill="rgb(230,178,196)" />
<rect x="162" y="194.1" width="1.05" height="13.1" fill="rgb(230,196,214)" />
<rect x="163" y="194.1" width="1.05" height="13.1" fill="rgb(221,205,230)" />
<rect x="164" y="194.1" width="1.05" height="13.1" fill="rgb(230,196,214)" />
<rect x="165" y="194.1" width="1.05" height="13.1" fill="rgb(230,196,214)" />
<rect x="166" y="194.1" width="1.05" height="13.1" fill="rgb(230,196,214)" />
<rect x="167" y="194.1" width="1.05" height="13.1" fill="rgb(230,196,214)" />
<rect x="168" y="194.1" width="1.05" height="13.1" fill="rgb(230,178,196)" />
<rect x="169" y="194.1" width="1.05" height="13.1" fill="rgb(230,178,196)" />
<rect x="170" y="194.1" width="1.05" height="13.1" fill="rgb(230,178,196)" />
<rect x="171" y="194.1" width="1.05" height="13.1" fill="rgb(230,196,214)" />
<rect x="172" y="194.1" width="1.05" height="13.1" fill="rgb(230,178,196)" />
<rect x="173" y="194.1" width="1.05" height="13.1" fill="rgb(230,196,214)" />
<rect x="174" y="194.1" width="1.05" height="13.1" fill="rgb(221,205,230)" />
<rect x="175" y="194.1" width="1.05" height="13.1" fill="rgb(221,205,230)" />
<rect x="176" y="194.1" width="1.05" height="13.1" fill="rgb(230,196,214)" />
<rect x="177" y="194.1" width="1.05" height="13.1" fill="rgb(230,178,196)" />
<rect x="178" y="194.1" width="1.05" height="13.1" fill="rgb(230,196,214)" />
<rect x="179" y="194.1" width="1.05" height="13.1" fill="rgb(230,178,196)" />
<rect x="180" y="194.1" width="1.05" height="13.1" fill="rgb(230,178,196)" />
<rect x="181" y="194.1" width="1.05" height="13.1" fill="rgb(221,205,230)" />
<rect x="182" y="194.1" width="1.05" height="13.1" fill="rgb(221,205,230)" />
<rect x="183" y="194.1" width="1.05" height="13.1" fill="rgb(230,178,196)" />
<rect x="184" y="194.1" width="1.05" height="13.1" fill="rgb(230,196,214)" />
<rect x="185" y="194.1" width="1.05" height="13.1" fill="rgb(221,205,230)" />
<rect x="186" y="194.1" width="1.05" height="13.1" fill="rgb(230,178,196)" />
<rect x="187" y="194.1" width="1.05" height="13.1" fill="rgb(230,196,214)" />
<rect x="188" y="194.1" width="1.05" height="13.1" fill="rgb(230,178,196)" />
<rect x="189" y="194.1" width="1.05" height="13.1" fill="rgb(230,196,214)" />
<rect x="190" y="194.1" width="1.05" height="13.1" fill="rgb(221,205,230)" />
<rect x="191" y="194.1" width="1.05" height="13.1" fill="rgb(221,205,230)" />
<rect x="192" y="194.1" width="1.05" height="13.1" fill="rgb(230,178,196)" />
<rect x="193" y="194.1" width="1.05" height="13.1" fill="rgb(230,196,214)" />
<rect x="194" y="194.1" width="1.05" height="13.1" fill="rgb(221,205,230)" />
<rect x="195" y="194.1" width="1.05" height="13.1" fill="rgb(221,205,230)" />
<rect x="196" y="194.1" width="1.05" height="13.1" fill="rgb(230,196,214)" />
<rect x="197" y="194.1" width="1.05" height="13.1" fill="rgb(221,205,230)" />
<rect x="198" y="194.1" width="1.05" height="13.1" fill="rgb(230,196,214)" />
<rect x="199" y="194.1" width="1.05" height="13.1" fill="rgb(230,178,196)" />
<rect x="200" y="194.1" width="1.05" height="13.1" fill="rgb(221,205,230)" />
<rect x="201" y="194.1" width="1.05" height="13.1" fill="rgb(230,178,196)" />
<rect x="202" y="194.1" width="1.05" height="13.1" fill="rgb(221,205,230)" />
<rect x="203" y="194.1" width="1.05" height="13.1" fill="rgb(221,205,230)" />
<rect x="204" y="194.1" width="1.05" height="13.1" fill="rgb(230,196,214)" />
<rect x="205" y="194.1" width="1.05" height="13.1" fill="rgb(230,196,214)" />
<rect x="206" y="194.1" width="1.05" height="13.1" fill="rgb(230,178,196)" />
<rect x="207" y="194.1" width="1.05" height="13.1" fill="rgb(221,205,230)" />
<rect x="208" y="194.1" width="1.05" height="13.1" fill="rgb(221,205,230)" />
<rect x="209" y="194.1" width="1.05" height="13.1" fill="rgb(221,205,230)" />
<rect x="210" y="194.1" width="1.05" height="13.1" fill="rgb(230,178,196)" />
<rect x="211" y="194.1" width="1.05" height="13.1" fill="rgb(230,196,214)" />
<rect x="212" y="194.1" width="1.05" height="13.1" fill="rgb(230,196,214)" />
<rect x="213" y="194.1" width="1.05" height="13.1" fill="rgb(230,178,196)" />
<rect x="214" y="194.1" width="1.05" height="13.1" fill="rgb(221,205,230)" />
<rect x="215" y="194.1" width="1.05" height="13.1" fill="rgb(221,205,230)" />
<rect x="216" y="194.1" width="1.05" height="13.1" fill="rgb(230,178,196)" />
<rect x="217" y="194.1" width="0.45" height="13.1" fill="rgb(230,178,196)" />
<rect x="20" y="210.5" width="197.6" height="43.900000000000006" fill="#f3f7fc" />
<rect x="21" y="210.5" width="1" height="43.900000000000006" fill="#e3ecf7" fill-opacity="0.26"/>
<rect x="24" y="210.5" width="1" height="43.900000000000006" fill="#e3ecf7" fill-opacity="0.20"/>
<rect x="25" y="210.5" width="1" height="43.900000000000006" fill="#e3ecf7" fill-opacity="0.18"/>
<rect x="30" y="210.5" width="1" height="43.900000000000006" fill="#e3ecf7" fill-opacity="0.27"/>
<rect x="37" y="210.5" width="1" height="43.900000000000006" fill="#e3ecf7" fill-opacity="0.35"/>
<rect x="40" y="210.5" width="1" height="43.900000000000006" fill="#e3ecf7" fill-opacity="0.26"/>
<rect x="43" y="210.5" width="1" height="43.900000000000006" fill="#e3ecf7" fill-opacity="0.21"/>
<rect x="45" y="210.5" width="1" height="43.900000000000006" fill="#e3ecf7" fill-opacity="0.20"/>
<rect x="47" y="210.5" width="1" height="43.900000000000006" fill="#e3ecf7" fill-opacity="0.25"/>
<rect x="48" y="210.5" width="1" height="43.900000000000006" fill="#e3ecf7" fill-opacity="0.40"/>
<rect x="49" y="210.5" width="1" height="43.900000000000006" fill="#e3ecf7" fill-opacity="0.34"/>
<rect x="51" y="210.5" width="1" height="43.900000000000006" fill="#e3ecf7" fill-opacity="0.28"/>
<rect x="55" y="210.5" width="1" height="43.900000000000006" fill="#e3ecf7" fill-opacity="0.28"/>
<rect x="58" y="210.5" width="1" height="43.900000000000006" fill="#e3ecf7" fill-opacity="0.27"/>
<rect x="65" y="210.5" width="1" height="43.900000000000006" fill="#e3ecf7" fill-opacity="0.44"/>
<rect x="70" y="210.5" width="1" height="43.900000000000006" fill="#e3ecf7" fill-opacity="0.38"/>
<rect x="76" y="210.5" width="1" height="43.900000000000006" fill="#e3ecf7" fill-opacity="0.33"/>
<rect x="90" y="210.5" width="1" height="43.900000000000006" fill="#e3ecf7" fill-opacity="0.35"/>
<rect x="94" y="210.5" width="1" height="43.900000000000006" fill="#e3ecf7" fill-opacity="0.22"/>
<rect x="95" y="210.5" width="1" height="43.900000000000006" fill="#e3ecf7" fill-opacity="0.40"/>
<rect x="96" y="210.5" width="1" height="43.900000000000006" fill="#e3ecf7" fill-opacity="0.18"/>
<rect x="99" y="210.5" width="1" height="43.900000000000006" fill="#e3ecf7" fill-opacity="0.35"/>
<rect x="102" y="210.5" width="1" height="43.900000000000006" fill="#e3ecf7" fill-opacity="0.36"/>
<rect x="108" y="210.5" width="1" height="43.900000000000006" fill="#e3ecf7" fill-opacity="0.25"/>
<rect x="110" y="210.5" width="1" height="43.900000000000006" fill="#e3ecf7" fill-opacity="0.45"/>
<rect x="111" y="210.5" width="1" height="43.900000000000006" fill="#e3ecf7" fill-opacity="0.23"/>
<rect x="113" y="210.5" width="1" height="43.900000000000006" fill="#e3ecf7" fill-opacity="0.41"/>
<rect x="117" y="210.5" width="1" height="43.900000000000006" fill="#e3ecf7" fill-opacity="0.24"/>
<rect x="121" y="210.5" width="1" height="43.900000000000006" fill="#e3ecf7" fill-opacity="0.21"/>
<rect x="122" y="210.5" width="1" height="43.900000000000006" fill="#e3ecf7" fill-opacity="0.31"/>
<rect x="129" y="210.5" width="1" height="43.900000000000006" fill="#e3ecf7" fill-opacity="0.43"/>
<rect x="131" y="210.5" width="1" height="43.900000000000006" fill="#e3ecf7" fill-opacity="0.24"/>
<rect x="136" y="210.5" width="1" height="43.900000000000006" fill="#e3ecf7" fill-opacity="0.39"/>
<rect x="137" y="210.5" width="1" height="43.900000000000006" fill="#e3ecf7" fill-opacity="0.36"/>
<rect x="144" y="210.5" width="1" height="43.900000000000006" fill="#e3ecf7" fill-opacity="0.28"/>
<rect x="146" y="210.5" width="1" height="43.900000000000006" fill="#e3ecf7" fill-opacity="0.41"/>
<rect x="147" y="210.5" width="1" height="43.900000000000006" fill="#e3ecf7" fill-opacity="0.33"/>
<rect x="148" y="210.5" width="1" height="43.900000000000006" fill="#e3ecf7" fill-opacity="0.43"/>
<rect x="154" y="210.5" width="1" height="43.900000000000006" fill="#e3ecf7" fill-opacity="0.21"/>
<rect x="156" y="210.5" width="1" height="43.900000000000006" fill="#e3ecf7" fill-opacity="0.43"/>
<rect x="157" y="210.5" width="1" height="43.900000000000006" fill="#e3ecf7" fill-opacity="0.18"/>
<rect x="158" y="210.5" width="1" height="43.900000000000006" fill="#e3ecf7" fill-opacity="0.39"/>
<rect x="162" y="210.5" width="1" height="43.900000000000006" fill="#e3ecf7" fill-opacity="0.42"/>
<rect x="164" y="210.5" width="1" height="43.900000000000006" fill="#e3ecf7" fill-opacity="0.17"/>
<rect x="166" y="210.5" width="1" height="43.900000000000006" fill="#e3ecf7" fill-opacity="0.40"/>
<rect x="167" y="210.5" width="1" height="43.900000000000006" fill="#e3ecf7" fill-opacity="0.22"/>
<rect x="171" y="210.5" width="1" height="43.900000000000006" fill="#e3ecf7" fill-opacity="0.42"/>
<rect x="174" y="210.5" width="1" height="43.900000000000006" fill="#e3ecf7" fill-opacity="0.39"/>
<rect x="177" y="210.5" width="1" height="43.900000000000006" fill="#e3ecf7" fill-opacity="0.26"/>
<rect x="179" y="210.5" width="1" height="43.900000000000006" fill="#e3ecf7" fill-opacity="0.31"/>
<rect x="180" y="210.5" width="1" height="43.900000000000006" fill="#e3ecf7" fill-opacity="0.29"/>
<rect x="184" y="210.5" width="1" height="43.900000000000006" fill="#e3ecf7" fill-opacity="0.40"/>
<rect x="185" y="210.5" width="1" height="43.900000000000006" fill="#e3ecf7" fill-opacity="0.43"/>
<rect x="189" y="210.5" width="1" height="43.900000000000006" fill="#e3ecf7" fill-opacity="0.25"/>
<rect x="193" y="210.5" width="1" height="43.900000000000006" fill="#e3ecf7" fill-opacity="0.30"/>
<rect x="197" y="210.5" width="1" height="43.900000000000006" fill="#e3ecf7" fill-opacity="0.19"/>
<rect x="198" y="210.5" width="1" height="43.900000000000006" fill="#e3ecf7" fill-opacity="0.42"/>
<rect x="200" y="210.5" width="1" height="43.900000000000006" fill="#e3ecf7" fill-opacity="0.43"/>
<rect x="201" y="210.5" width="1" height="43.900000000000006" fill="#e3ecf7" fill-opacity="0.33"/>
<rect x="206" y="210.5" width="1" height="43.900000000000006" fill="#e3ecf7" fill-opacity="0.25"/>
<rect x="208" y="210.5" width="1" height="43.900000000000006" fill="#e3ecf7" fill-opacity="0.37"/>
<rect x="209" y="210.5" width="1" height="43.900000000000006" fill="#e3ecf7" fill-opacity="0.39"/>
<rect x="210" y="210.5" width="1" height="43.900000000000006" fill="#e3ecf7" fill-opacity="0.17"/>
<rect x="212" y="210.5" width="1" height="43.900000000000006" fill="#e3ecf7" fill-opacity="0.32"/>
<rect x="216" y="210.5" width="1" height="43.900000000000006" fill="#e3ecf7" fill-opacity="0.30"/>
<rect x="217" y="210.5" width="1" height="43.900000000000006" fill="#e3ecf7" fill-opacity="0.34"/>
<g clip-path="url(#clip210)">
<rect x="20" y="219.1" width="1.05" height="26.6" fill="url(#band)" fill-opacity="0.04"/>
<rect x="21" y="219.9" width="1.05" height="25.0" fill="url(#band)" fill-opacity="0.04"/>
<rect x="22" y="220.7" width="1.05" height="23.4" fill="url(#band)" fill-opacity="0.05"/>
<rect x="23" y="217.7" width="1.05" height="29.4" fill="url(#band)" fill-opacity="0.04"/>
<rect x="24" y="218.1" width="1.05" height="28.7" fill="url(#band)" fill-opacity="0.04"/>
<rect x="25" y="219.5" width="1.05" height="25.8" fill="url(#band)" fill-opacity="0.06"/>
<rect x="26" y="221.0" width="1.05" height="22.8" fill="url(#band)" fill-opacity="0.04"/>
<rect x="27" y="220.9" width="1.05" height="23.0" fill="url(#band)" fill-opacity="0.06"/>
<rect x="28" y="219.3" width="1.05" height="26.3" fill="url(#band)" fill-opacity="0.05"/>
<rect x="29" y="219.5" width="1.05" height="25.7" fill="url(#band)" fill-opacity="0.04"/>
<rect x="30" y="219.3" width="1.05" height="26.3" fill="url(#band)" fill-opacity="0.04"/>
<rect x="31" y="219.9" width="1.05" height="25.0" fill="url(#band)" fill-opacity="0.05"/>
<rect x="32" y="219.8" width="1.05" height="25.2" fill="url(#band)" fill-opacity="0.04"/>
<rect x="33" y="220.9" width="1.05" height="23.1" fill="url(#band)" fill-opacity="0.04"/>
<rect x="34" y="218.0" width="1.05" height="28.9" fill="url(#band)" fill-opacity="0.04"/>
<rect x="35" y="217.9" width="1.05" height="29.0" fill="url(#band)" fill-opacity="0.05"/>
<rect x="36" y="217.7" width="1.05" height="29.5" fill="url(#band)" fill-opacity="0.04"/>
<rect x="37" y="218.3" width="1.05" height="28.3" fill="url(#band)" fill-opacity="0.05"/>
<rect x="38" y="218.7" width="1.05" height="27.5" fill="url(#band)" fill-opacity="0.05"/>
<rect x="39" y="218.4" width="1.05" height="28.0" fill="url(#band)" fill-opacity="0.04"/>
<rect x="40" y="220.3" width="1.05" height="24.2" fill="url(#band)" fill-opacity="0.04"/>
<rect x="41" y="219.8" width="1.05" height="25.2" fill="url(#band)" fill-opacity="0.04"/>
<rect x="42" y="220.2" width="1.05" height="24.4" fill="url(#band)" fill-opacity="0.05"/>
<rect x="43" y="221.0" width="1.05" height="22.8" fill="url(#band)" fill-opacity="0.06"/>
<rect x="44" y="220.4" width="1.05" height="23.9" fill="url(#band)" fill-opacity="0.05"/>
<rect x="45" y="218.3" width="1.05" height="28.2" fill="url(#band)" fill-opacity="0.05"/>
<rect x="46" y="221.1" width="1.05" height="22.6" fill="url(#band)" fill-opacity="0.05"/>
<rect x="47" y="219.0" width="1.05" height="26.8" fill="url(#band)" fill-opacity="0.04"/>
<rect x="48" y="221.2" width="1.05" height="22.4" fill="url(#band)" fill-opacity="0.06"/>
<rect x="49" y="218.7" width="1.05" height="27.5" fill="url(#band)" fill-opacity="0.05"/>
<rect x="50" y="219.1" width="1.05" height="26.7" fill="url(#band)" fill-opacity="0.06"/>
<rect x="51" y="218.6" width="1.05" height="27.7" fill="url(#band)" fill-opacity="0.06"/>
<rect x="52" y="220.5" width="1.05" height="23.9" fill="url(#band)" fill-opacity="0.06"/>
<rect x="53" y="218.8" width="1.05" height="27.3" fill="url(#band)" fill-opacity="0.07"/>
<rect x="54" y="220.1" width="1.05" height="24.5" fill="url(#band)" fill-opacity="0.05"/>
<rect x="55" y="217.4" width="1.05" height="30.0" fill="url(#band)" fill-opacity="0.05"/>
<rect x="56" y="219.9" width="1.05" height="25.1" fill="url(#band)" fill-opacity="0.07"/>
<rect x="57" y="219.9" width="1.05" height="25.0" fill="url(#band)" fill-opacity="0.06"/>
<rect x="58" y="219.6" width="1.05" height="25.6" fill="url(#band)" fill-opacity="0.06"/>
<rect x="59" y="216.4" width="1.05" height="32.0" fill="url(#band)" fill-opacity="0.06"/>
<rect x="60" y="217.2" width="1.05" height="30.4" fill="url(#band)" fill-opacity="0.09"/>
<rect x="61" y="218.4" width="1.05" height="28.0" fill="url(#band)" fill-opacity="0.07"/>
<rect x="62" y="216.7" width="1.05" height="31.4" fill="url(#band)" fill-opacity="0.09"/>
<rect x="63" y="217.8" width="1.05" height="29.1" fill="url(#band)" fill-opacity="0.09"/>
<rect x="64" y="217.9" width="1.05" height="29.1" fill="url(#band)" fill-opacity="0.07"/>
<rect x="65" y="217.2" width="1.05" height="30.4" fill="url(#band)" fill-opacity="0.10"/>
<rect x="66" y="217.5" width="1.05" height="29.8" fill="url(#band)" fill-opacity="0.07"/>
<rect x="67" y="219.8" width="1.05" height="25.2" fill="url(#band)" fill-opacity="0.08"/>
<rect x="68" y="217.7" width="1.05" height="29.5" fill="url(#band)" fill-opacity="0.11"/>
<rect x="69" y="219.9" width="1.05" height="24.9" fill="url(#band)" fill-opacity="0.10"/>
<rect x="70" y="216.6" width="1.05" height="31.7" fill="url(#band)" fill-opacity="0.11"/>
<rect x="71" y="217.4" width="1.05" height="30.1" fill="url(#band)" fill-opacity="0.12"/>
<rect x="72" y="217.1" width="1.05" height="30.5" fill="url(#band)" fill-opacity="0.12"/>
<rect x="73" y="218.7" width="1.05" height="27.5" fill="url(#band)" fill-opacity="0.11"/>
<rect x="74" y="217.2" width="1.05" height="30.4" fill="url(#band)" fill-opacity="0.12"/>
<rect x="75" y="219.2" width="1.05" height="26.3" fill="url(#band)" fill-opacity="0.13"/>
<rect x="76" y="218.3" width="1.05" height="28.3" fill="url(#band)" fill-opacity="0.14"/>
<rect x="77" y="220.0" width="1.05" height="24.8" fill="url(#band)" fill-opacity="0.14"/>
<rect x="78" y="217.2" width="1.05" height="30.4" fill="url(#band)" fill-opacity="0.14"/>
<rect x="79" y="217.0" width="1.05" height="30.8" fill="url(#band)" fill-opacity="0.10"/>
<rect x="80" y="219.7" width="1.05" height="25.5" fill="url(#band)" fill-opacity="0.10"/>
<rect x="81" y="219.5" width="1.05" height="25.8" fill="url(#band)" fill-opacity="0.12"/>
<rect x="82" y="216.7" width="1.05" height="31.4" fill="url(#band)" fill-opacity="0.12"/>
<rect x="83" y="217.5" width="1.05" height="29.8" fill="url(#band)" fill-opacity="0.14"/>
<rect x="84" y="217.2" width="1.05" height="30.4" fill="url(#band)" fill-opacity="0.12"/>
<rect x="85" y="217.6" width="1.05" height="29.5" fill="url(#band)" fill-opacity="0.15"/>
<rect x="86" y="217.0" width="1.05" height="30.7" fill="url(#band)" fill-opacity="0.16"/>
<rect x="87" y="220.1" width="1.05" height="24.5" fill="url(#band)" fill-opacity="0.13"/>
<rect x="88" y="217.0" width="1.05" height="30.8" fill="url(#band)" fill-opacity="0.15"/>
<rect x="89" y="218.0" width="1.05" height="28.8" fill="url(#band)" fill-opacity="0.13"/>
<rect x="90" y="216.1" width="1.05" height="32.6" fill="url(#band)" fill-opacity="0.17"/>
<rect x="91" y="217.3" width="1.05" height="30.2" fill="url(#band)" fill-opacity="0.11"/>
<rect x="92" y="218.9" width="1.05" height="27.0" fill="url(#band)" fill-opacity="0.12"/>
<rect x="93" y="217.4" width="1.05" height="30.1" fill="url(#band)" fill-opacity="0.19"/>
<rect x="94" y="217.1" width="1.05" height="30.7" fill="url(#band)" fill-opacity="0.18"/>
<rect x="95" y="218.1" width="1.05" height="28.7" fill="url(#band)" fill-opacity="0.16"/>
<rect x="96" y="215.0" width="1.05" height="34.9" fill="url(#band)" fill-opacity="0.17"/>
<rect x="97" y="217.4" width="1.05" height="29.9" fill="url(#band)" fill-opacity="0.20"/>
<rect x="98" y="217.4" width="1.05" height="30.0" fill="url(#band)" fill-opacity="0.15"/>
<rect x="99" y="216.5" width="1.05" height="31.9" fill="url(#band)" fill-opacity="0.22"/>
<rect x="100" y="214.5" width="1.05" height="35.7" fill="url(#band)" fill-opacity="0.22"/>
<rect x="101" y="215.0" width="1.05" height="34.8" fill="url(#band)" fill-opacity="0.17"/>
<rect x="102" y="214.2" width="1.05" height="36.5" fill="url(#band)" fill-opacity="0.17"/>
<rect x="103" y="216.8" width="1.05" height="31.2" fill="url(#band)" fill-opacity="0.19"/>
<rect x="104" y="216.2" width="1.05" height="32.4" fill="url(#band)" fill-opacity="0.29"/>
<rect x="105" y="213.4" width="1.05" height="38.0" fill="url(#band)" fill-opacity="0.20"/>
<rect x="106" y="213.2" width="1.05" height="38.4" fill="url(#band)" fill-opacity="0.26"/>
<rect x="107" y="215.1" width="1.05" height="34.6" fill="url(#band)" fill-opacity="0.24"/>
<rect x="108" y="214.9" width="1.05" height="34.9" fill="url(#band)" fill-opacity="0.32"/>
<rect x="109" y="216.5" width="1.05" height="31.9" fill="url(#band)" fill-opacity="0.33"/>
<rect x="110" y="216.5" width="1.05" height="31.8" fill="url(#band)" fill-opacity="0.32"/>
<rect x="111" y="217.2" width="1.05" height="30.3" fill="url(#band)" fill-opacity="0.28"/>
<rect x="112" y="212.0" width="1.05" height="40.7" fill="url(#band)" fill-opacity="0.24"/>
<rect x="113" y="212.6" width="1.05" height="39.6" fill="url(#band)" fill-opacity="0.28"/>
<rect x="114" y="215.0" width="1.05" height="34.9" fill="url(#band)" fill-opacity="0.26"/>
<rect x="115" y="213.7" width="1.05" height="37.3" fill="url(#band)" fill-opacity="0.24"/>
<rect x="116" y="213.8" width="1.05" height="37.2" fill="url(#band)" fill-opacity="0.37"/>
<rect x="117" y="211.4" width="1.05" height="42.1" fill="url(#band)" fill-opacity="0.30"/>
<rect x="118" y="212.7" width="1.05" height="39.4" fill="url(#band)" fill-opacity="0.39"/>
<rect x="119" y="212.8" width="1.05" height="39.2" fill="url(#band)" fill-opacity="0.26"/>
<rect x="120" y="210.7" width="1.05" height="43.3" fill="url(#band)" fill-opacity="0.33"/>
<rect x="121" y="212.3" width="1.05" height="40.2" fill="url(#band)" fill-opacity="0.32"/>
<rect x="122" y="213.8" width="1.05" height="37.2" fill="url(#band)" fill-opacity="0.37"/>
<rect x="123" y="211.9" width="1.05" height="41.0" fill="url(#band)" fill-opacity="0.36"/>
<rect x="124" y="212.8" width="1.05" height="39.2" fill="url(#band)" fill-opacity="0.44"/>
<rect x="125" y="209.9" width="1.05" height="45.1" fill="url(#band)" fill-opacity="0.34"/>
<rect x="126" y="210.5" width="1.05" height="43.7" fill="url(#band)" fill-opacity="0.29"/>
<rect x="127" y="217.1" width="1.05" height="30.5" fill="url(#band)" fill-opacity="0.17"/>
<rect x="128" y="216.3" width="1.05" height="32.3" fill="url(#band)" fill-opacity="0.15"/>
<rect x="129" y="216.4" width="1.05" height="32.1" fill="url(#band)" fill-opacity="0.18"/>
<rect x="130" y="219.5" width="1.05" height="25.8" fill="url(#band)" fill-opacity="0.17"/>
<rect x="131" y="219.0" width="1.05" height="26.7" fill="url(#band)" fill-opacity="0.14"/>
<rect x="132" y="215.6" width="1.05" height="33.5" fill="url(#band)" fill-opacity="0.19"/>
<rect x="133" y="217.0" width="1.05" height="30.8" fill="url(#band)" fill-opacity="0.12"/>
<rect x="134" y="219.4" width="1.05" height="25.9" fill="url(#band)" fill-opacity="0.16"/>
<rect x="135" y="216.3" width="1.05" height="32.2" fill="url(#band)" fill-opacity="0.14"/>
<rect x="136" y="218.4" width="1.05" height="28.0" fill="url(#band)" fill-opacity="0.16"/>
<rect x="137" y="218.3" width="1.05" height="28.1" fill="url(#band)" fill-opacity="0.17"/>
<rect x="138" y="217.8" width="1.05" height="29.3" fill="url(#band)" fill-opacity="0.16"/>
<rect x="139" y="216.7" width="1.05" height="31.3" fill="url(#band)" fill-opacity="0.19"/>
<rect x="140" y="216.6" width="1.05" height="31.6" fill="url(#band)" fill-opacity="0.18"/>
<rect x="141" y="215.3" width="1.05" height="34.2" fill="url(#band)" fill-opacity="0.14"/>
<rect x="142" y="216.5" width="1.05" height="31.7" fill="url(#band)" fill-opacity="0.17"/>
<rect x="143" y="218.9" width="1.05" height="27.0" fill="url(#band)" fill-opacity="0.13"/>
<rect x="144" y="215.9" width="1.05" height="32.9" fill="url(#band)" fill-opacity="0.16"/>
<rect x="145" y="202.8" width="1.05" height="59.2" fill="url(#band)" fill-opacity="1.00"/>
<rect x="146" y="201.3" width="1.05" height="62.3" fill="url(#band)" fill-opacity="0.77"/>
<rect x="147" y="207.2" width="1.05" height="50.3" fill="url(#band)" fill-opacity="1.00"/>
<rect x="148" y="207.8" width="1.05" height="49.2" fill="url(#band)" fill-opacity="0.94"/>
<rect x="149" y="209.4" width="1.05" height="46.0" fill="url(#band)" fill-opacity="0.74"/>
<rect x="150" y="207.5" width="1.05" height="49.8" fill="url(#band)" fill-opacity="0.72"/>
<rect x="151" y="203.8" width="1.05" height="57.1" fill="url(#band)" fill-opacity="0.99"/>
<rect x="152" y="209.4" width="1.05" height="45.9" fill="url(#band)" fill-opacity="0.65"/>
<rect x="153" y="210.9" width="1.05" height="43.0" fill="url(#band)" fill-opacity="0.94"/>
<rect x="154" y="209.9" width="1.05" height="45.0" fill="url(#band)" fill-opacity="0.68"/>
<rect x="155" y="211.8" width="1.05" height="41.2" fill="url(#band)" fill-opacity="0.58"/>
<rect x="156" y="211.7" width="1.05" height="41.4" fill="url(#band)" fill-opacity="0.68"/>
<rect x="157" y="213.1" width="1.05" height="38.6" fill="url(#band)" fill-opacity="0.87"/>
<rect x="158" y="212.2" width="1.05" height="40.4" fill="url(#band)" fill-opacity="0.58"/>
<rect x="159" y="212.6" width="1.05" height="39.6" fill="url(#band)" fill-opacity="0.65"/>
<rect x="160" y="212.9" width="1.05" height="39.0" fill="url(#band)" fill-opacity="0.70"/>
<rect x="161" y="216.3" width="1.05" height="32.2" fill="url(#band)" fill-opacity="0.58"/>
<rect x="162" y="214.6" width="1.05" height="35.7" fill="url(#band)" fill-opacity="0.71"/>
<rect x="163" y="213.5" width="1.05" height="37.8" fill="url(#band)" fill-opacity="0.63"/>
<rect x="164" y="215.6" width="1.05" height="33.6" fill="url(#band)" fill-opacity="0.67"/>
<rect x="165" y="212.1" width="1.05" height="40.5" fill="url(#band)" fill-opacity="0.54"/>
<rect x="166" y="215.5" width="1.05" height="33.7" fill="url(#band)" fill-opacity="0.57"/>
<rect x="167" y="215.7" width="1.05" height="33.4" fill="url(#band)" fill-opacity="0.59"/>
<rect x="168" y="216.9" width="1.05" height="31.0" fill="url(#band)" fill-opacity="0.61"/>
<rect x="169" y="214.0" width="1.05" height="36.7" fill="url(#band)" fill-opacity="0.61"/>
<rect x="170" y="212.0" width="1.05" height="40.8" fill="url(#band)" fill-opacity="0.46"/>
<rect x="171" y="215.8" width="1.05" height="33.2" fill="url(#band)" fill-opacity="0.43"/>
<rect x="172" y="214.1" width="1.05" height="36.5" fill="url(#band)" fill-opacity="0.37"/>
<rect x="173" y="213.4" width="1.05" height="37.9" fill="url(#band)" fill-opacity="0.52"/>
<rect x="174" y="212.7" width="1.05" height="39.3" fill="url(#band)" fill-opacity="0.42"/>
<rect x="175" y="218.3" width="1.05" height="28.3" fill="url(#band)" fill-opacity="0.34"/>
<rect x="176" y="215.3" width="1.05" height="34.2" fill="url(#band)" fill-opacity="0.46"/>
<rect x="177" y="216.5" width="1.05" height="31.7" fill="url(#band)" fill-opacity="0.45"/>
<rect x="178" y="217.9" width="1.05" height="29.1" fill="url(#band)" fill-opacity="0.47"/>
<rect x="179" y="216.3" width="1.05" height="32.2" fill="url(#band)" fill-opacity="0.50"/>
<rect x="180" y="217.9" width="1.05" height="29.0" fill="url(#band)" fill-opacity="0.37"/>
<rect x="181" y="218.1" width="1.05" height="28.6" fill="url(#band)" fill-opacity="0.47"/>
<rect x="182" y="215.7" width="1.05" height="33.3" fill="url(#band)" fill-opacity="0.33"/>
<rect x="183" y="217.3" width="1.05" height="30.2" fill="url(#band)" fill-opacity="0.40"/>
<rect x="184" y="215.6" width="1.05" height="33.6" fill="url(#band)" fill-opacity="0.42"/>
<rect x="185" y="218.1" width="1.05" height="28.5" fill="url(#band)" fill-opacity="0.31"/>
<rect x="186" y="217.8" width="1.05" height="29.2" fill="url(#band)" fill-opacity="0.29"/>
<rect x="187" y="215.8" width="1.05" height="33.2" fill="url(#band)" fill-opacity="0.37"/>
<rect x="188" y="217.0" width="1.05" height="30.7" fill="url(#band)" fill-opacity="0.40"/>
<rect x="189" y="217.1" width="1.05" height="30.7" fill="url(#band)" fill-opacity="0.35"/>
<rect x="190" y="215.8" width="1.05" height="33.1" fill="url(#band)" fill-opacity="0.32"/>
<rect x="191" y="215.9" width="1.05" height="33.0" fill="url(#band)" fill-opacity="0.41"/>
<rect x="192" y="216.6" width="1.05" height="31.5" fill="url(#band)" fill-opacity="0.29"/>
<rect x="193" y="217.4" width="1.05" height="30.0" fill="url(#band)" fill-opacity="0.39"/>
<rect x="194" y="215.6" width="1.05" height="33.6" fill="url(#band)" fill-opacity="0.42"/>
<rect x="195" y="216.0" width="1.05" height="32.9" fill="url(#band)" fill-opacity="0.38"/>
<rect x="196" y="215.7" width="1.05" height="33.4" fill="url(#band)" fill-opacity="0.36"/>
<rect x="197" y="216.5" width="1.05" height="31.8" fill="url(#band)" fill-opacity="0.27"/>
<rect x="198" y="216.9" width="1.05" height="31.0" fill="url(#band)" fill-opacity="0.36"/>
<rect x="199" y="219.3" width="1.05" height="26.1" fill="url(#band)" fill-opacity="0.28"/>
<rect x="200" y="215.9" width="1.05" height="32.9" fill="url(#band)" fill-opacity="0.33"/>
<rect x="201" y="218.7" width="1.05" height="27.4" fill="url(#band)" fill-opacity="0.28"/>
<rect x="202" y="219.2" width="1.05" height="26.3" fill="url(#band)" fill-opacity="0.26"/>
<rect x="203" y="215.3" width="1.05" height="34.3" fill="url(#band)" fill-opacity="0.33"/>
<rect x="204" y="218.0" width="1.05" height="28.7" fill="url(#band)" fill-opacity="0.35"/>
<rect x="205" y="219.3" width="1.05" height="26.1" fill="url(#band)" fill-opacity="0.33"/>
<rect x="206" y="218.2" width="1.05" height="28.4" fill="url(#band)" fill-opacity="0.34"/>
<rect x="207" y="216.8" width="1.05" height="31.2" fill="url(#band)" fill-opacity="0.21"/>
<rect x="208" y="218.4" width="1.05" height="28.0" fill="url(#band)" fill-opacity="0.23"/>
<rect x="209" y="217.6" width="1.05" height="29.5" fill="url(#band)" fill-opacity="0.21"/>
<rect x="210" y="216.0" width="1.05" height="32.8" fill="url(#band)" fill-opacity="0.28"/>
<rect x="211" y="215.9" width="1.05" height="32.9" fill="url(#band)" fill-opacity="0.20"/>
<rect x="212" y="218.6" width="1.05" height="27.5" fill="url(#band)" fill-opacity="0.21"/>
<rect x="213" y="218.1" width="1.05" height="28.6" fill="url(#band)" fill-opacity="0.28"/>
<rect x="214" y="217.1" width="1.05" height="30.6" fill="url(#band)" fill-opacity="0.23"/>
<rect x="215" y="216.1" width="1.05" height="32.6" fill="url(#band)" fill-opacity="0.21"/>
<rect x="216" y="215.9" width="1.05" height="33.1" fill="url(#band)" fill-opacity="0.21"/>
<rect x="217" y="217.2" width="1.05" height="30.3" fill="url(#band)" fill-opacity="0.28"/>
</g>
<rect x="127.2" y="210.5" width="0.8" height="43.900000000000006" fill="#ffffff" fill-opacity="0.8"/>
<rect x="144.2" y="210.5" width="0.8" height="43.900000000000006" fill="#ffffff" fill-opacity="0.8"/>
<rect x="145" y="210.5" width="1.3" height="43.900000000000006" fill="url(#vline)" />
<rect x="20.6" y="210.8" width="196.9" height="43.60000000000001" fill="none" stroke="#959595" stroke-width="1.2"/>
<rect x="20" y="258.6" width="197.6" height="43.799999999999955" fill="#f3f7fc" />
<rect x="20" y="258.6" width="1" height="43.799999999999955" fill="#e3ecf7" fill-opacity="0.38"/>
<rect x="21" y="258.6" width="1" height="43.799999999999955" fill="#e3ecf7" fill-opacity="0.30"/>
<rect x="23" y="258.6" width="1" height="43.799999999999955" fill="#e3ecf7" fill-opacity="0.34"/>
<rect x="29" y="258.6" width="1" height="43.799999999999955" fill="#e3ecf7" fill-opacity="0.41"/>
<rect x="35" y="258.6" width="1" height="43.799999999999955" fill="#e3ecf7" fill-opacity="0.29"/>
<rect x="36" y="258.6" width="1" height="43.799999999999955" fill="#e3ecf7" fill-opacity="0.29"/>
<rect x="41" y="258.6" width="1" height="43.799999999999955" fill="#e3ecf7" fill-opacity="0.27"/>
<rect x="42" y="258.6" width="1" height="43.799999999999955" fill="#e3ecf7" fill-opacity="0.21"/>
<rect x="46" y="258.6" width="1" height="43.799999999999955" fill="#e3ecf7" fill-opacity="0.36"/>
<rect x="47" y="258.6" width="1" height="43.799999999999955" fill="#e3ecf7" fill-opacity="0.23"/>
<rect x="56" y="258.6" width="1" height="43.799999999999955" fill="#e3ecf7" fill-opacity="0.21"/>
<rect x="57" y="258.6" width="1" height="43.799999999999955" fill="#e3ecf7" fill-opacity="0.41"/>
<rect x="60" y="258.6" width="1" height="43.799999999999955" fill="#e3ecf7" fill-opacity="0.26"/>
<rect x="61" y="258.6" width="1" height="43.799999999999955" fill="#e3ecf7" fill-opacity="0.34"/>
<rect x="64" y="258.6" width="1" height="43.799999999999955" fill="#e3ecf7" fill-opacity="0.20"/>
<rect x="69" y="258.6" width="1" height="43.799999999999955" fill="#e3ecf7" fill-opacity="0.18"/>
<rect x="70" y="258.6" width="1" height="43.799999999999955" fill="#e3ecf7" fill-opacity="0.38"/>
<rect x="77" y="258.6" width="1" height="43.799999999999955" fill="#e3ecf7" fill-opacity="0.18"/>
<rect x="80" y="258.6" width="1" height="43.799999999999955" fill="#e3ecf7" fill-opacity="0.23"/>
<rect x="81" y="258.6" width="1" height="43.799999999999955" fill="#e3ecf7" fill-opacity="0.42"/>
<rect x="90" y="258.6" width="1" height="43.799999999999955" fill="#e3ecf7" fill-opacity="0.15"/>
<rect x="91" y="258.6" width="1" height="43.799999999999955" fill="#e3ecf7" fill-opacity="0.33"/>
<rect x="93" y="258.6" width="1" height="43.799999999999955" fill="#e3ecf7" fill-opacity="0.40"/>
<rect x="96" y="258.6" width="1" height="43.799999999999955" fill="#e3ecf7" fill-opacity="0.42"/>
<rect x="98" y="258.6" width="1" height="43.799999999999955" fill="#e3ecf7" fill-opacity="0.25"/>
<rect x="103" y="258.6" width="1" height="43.799999999999955" fill="#e3ecf7" fill-opacity="0.22"/>
<rect x="106" y="258.6" width="1" height="43.799999999999955" fill="#e3ecf7" fill-opacity="0.33"/>
<rect x="107" y="258.6" width="1" height="43.799999999999955" fill="#e3ecf7" fill-opacity="0.21"/>
<rect x="113" y="258.6" width="1" height="43.799999999999955" fill="#e3ecf7" fill-opacity="0.37"/>
<rect x="114" y="258.6" width="1" height="43.799999999999955" fill="#e3ecf7" fill-opacity="0.29"/>
<rect x="118" y="258.6" width="1" height="43.799999999999955" fill="#e3ecf7" fill-opacity="0.34"/>
<rect x="121" y="258.6" width="1" height="43.799999999999955" fill="#e3ecf7" fill-opacity="0.42"/>
<rect x="123" y="258.6" width="1" height="43.799999999999955" fill="#e3ecf7" fill-opacity="0.22"/>
<rect x="125" y="258.6" width="1" height="43.799999999999955" fill="#e3ecf7" fill-opacity="0.27"/>
<rect x="130" y="258.6" width="1" height="43.799999999999955" fill="#e3ecf7" fill-opacity="0.18"/>
<rect x="133" y="258.6" width="1" height="43.799999999999955" fill="#e3ecf7" fill-opacity="0.16"/>
<rect x="134" y="258.6" width="1" height="43.799999999999955" fill="#e3ecf7" fill-opacity="0.43"/>
<rect x="135" y="258.6" width="1" height="43.799999999999955" fill="#e3ecf7" fill-opacity="0.35"/>
<rect x="139" y="258.6" width="1" height="43.799999999999955" fill="#e3ecf7" fill-opacity="0.20"/>
<rect x="140" y="258.6" width="1" height="43.799999999999955" fill="#e3ecf7" fill-opacity="0.38"/>
<rect x="141" y="258.6" width="1" height="43.799999999999955" fill="#e3ecf7" fill-opacity="0.44"/>
<rect x="143" y="258.6" width="1" height="43.799999999999955" fill="#e3ecf7" fill-opacity="0.39"/>
<rect x="144" y="258.6" width="1" height="43.799999999999955" fill="#e3ecf7" fill-opacity="0.30"/>
<rect x="145" y="258.6" width="1" height="43.799999999999955" fill="#e3ecf7" fill-opacity="0.39"/>
<rect x="148" y="258.6" width="1" height="43.799999999999955" fill="#e3ecf7" fill-opacity="0.41"/>
<rect x="155" y="258.6" width="1" height="43.799999999999955" fill="#e3ecf7" fill-opacity="0.17"/>
<rect x="157" y="258.6" width="1" height="43.799999999999955" fill="#e3ecf7" fill-opacity="0.27"/>
<rect x="158" y="258.6" width="1" height="43.799999999999955" fill="#e3ecf7" fill-opacity="0.37"/>
<rect x="159" y="258.6" width="1" height="43.799999999999955" fill="#e3ecf7" fill-opacity="0.40"/>
<rect x="162" y="258.6" width="1" height="43.799999999999955" fill="#e3ecf7" fill-opacity="0.35"/>
<rect x="163" y="258.6" width="1" height="43.799999999999955" fill="#e3ecf7" fill-opacity="0.28"/>
<rect x="164" y="258.6" width="1" height="43.799999999999955" fill="#e3ecf7" fill-opacity="0.44"/>
<rect x="167" y="258.6" width="1" height="43.799999999999955" fill="#e3ecf7" fill-opacity="0.37"/>
<rect x="170" y="258.6" width="1" height="43.799999999999955" fill="#e3ecf7" fill-opacity="0.26"/>
<rect x="173" y="258.6" width="1" height="43.799999999999955" fill="#e3ecf7" fill-opacity="0.33"/>
<rect x="176" y="258.6" width="1" height="43.799999999999955" fill="#e3ecf7" fill-opacity="0.17"/>
<rect x="177" y="258.6" width="1" height="43.799999999999955" fill="#e3ecf7" fill-opacity="0.36"/>
<rect x="190" y="258.6" width="1" height="43.799999999999955" fill="#e3ecf7" fill-opacity="0.35"/>
<rect x="194" y="258.6" width="1" height="43.799999999999955" fill="#e3ecf7" fill-opacity="0.43"/>
<rect x="197" y="258.6" width="1" height="43.799999999999955" fill="#e3ecf7" fill-opacity="0.24"/>
<rect x="200" y="258.6" width="1" height="43.799999999999955" fill="#e3ecf7" fill-opacity="0.28"/>
<rect x="208" y="258.6" width="1" height="43.799999999999955" fill="#e3ecf7" fill-opacity="0.22"/>
<rect x="210" y="258.6" width="1" height="43.799999999999955" fill="#e3ecf7" fill-opacity="0.22"/>
<g clip-path="url(#clip258)">
<rect x="20" y="268.1" width="1.05" height="24.7" fill="url(#band)" fill-opacity="0.29"/>
<rect x="21" y="267.2" width="1.05" height="26.4" fill="url(#band)" fill-opacity="0.33"/>
<rect x="22" y="267.0" width="1.05" height="26.9" fill="url(#band)" fill-opacity="0.30"/>
<rect x="23" y="264.4" width="1.05" height="31.9" fill="url(#band)" fill-opacity="0.29"/>
<rect x="24" y="266.3" width="1.05" height="28.3" fill="url(#band)" fill-opacity="0.23"/>
<rect x="25" y="266.2" width="1.05" height="28.3" fill="url(#band)" fill-opacity="0.31"/>
<rect x="26" y="266.8" width="1.05" height="27.2" fill="url(#band)" fill-opacity="0.35"/>
<rect x="27" y="265.6" width="1.05" height="29.6" fill="url(#band)" fill-opacity="0.35"/>
<rect x="28" y="268.1" width="1.05" height="24.6" fill="url(#band)" fill-opacity="0.36"/>
<rect x="29" y="267.3" width="1.05" height="26.2" fill="url(#band)" fill-opacity="0.24"/>
<rect x="30" y="268.4" width="1.05" height="23.9" fill="url(#band)" fill-opacity="0.35"/>
<rect x="31" y="265.5" width="1.05" height="29.8" fill="url(#band)" fill-opacity="0.25"/>
<rect x="32" y="267.8" width="1.05" height="25.3" fill="url(#band)" fill-opacity="0.36"/>
<rect x="33" y="265.6" width="1.05" height="29.6" fill="url(#band)" fill-opacity="0.28"/>
<rect x="34" y="265.4" width="1.05" height="30.1" fill="url(#band)" fill-opacity="0.31"/>
<rect x="35" y="267.5" width="1.05" height="25.9" fill="url(#band)" fill-opacity="0.32"/>
<rect x="36" y="268.4" width="1.05" height="24.0" fill="url(#band)" fill-opacity="0.25"/>
<rect x="37" y="267.6" width="1.05" height="25.6" fill="url(#band)" fill-opacity="0.31"/>
<rect x="38" y="264.4" width="1.05" height="31.9" fill="url(#band)" fill-opacity="0.25"/>
<rect x="39" y="266.0" width="1.05" height="28.8" fill="url(#band)" fill-opacity="0.31"/>
<rect x="40" y="266.0" width="1.05" height="28.8" fill="url(#band)" fill-opacity="0.31"/>
<rect x="41" y="267.2" width="1.05" height="26.4" fill="url(#band)" fill-opacity="0.31"/>
<rect x="42" y="268.2" width="1.05" height="24.4" fill="url(#band)" fill-opacity="0.22"/>
<rect x="43" y="267.0" width="1.05" height="26.8" fill="url(#band)" fill-opacity="0.21"/>
<rect x="44" y="268.0" width="1.05" height="24.7" fill="url(#band)" fill-opacity="0.23"/>
<rect x="45" y="264.4" width="1.05" height="31.9" fill="url(#band)" fill-opacity="0.28"/>
<rect x="46" y="267.4" width="1.05" height="26.1" fill="url(#band)" fill-opacity="0.31"/>
<rect x="47" y="267.8" width="1.05" height="25.3" fill="url(#band)" fill-opacity="0.33"/>
<rect x="48" y="267.2" width="1.05" height="26.3" fill="url(#band)" fill-opacity="0.23"/>
<rect x="49" y="265.6" width="1.05" height="29.6" fill="url(#band)" fill-opacity="0.27"/>
<rect x="50" y="265.4" width="1.05" height="29.9" fill="url(#band)" fill-opacity="0.28"/>
<rect x="51" y="264.6" width="1.05" height="31.6" fill="url(#band)" fill-opacity="0.22"/>
<rect x="52" y="265.0" width="1.05" height="30.8" fill="url(#band)" fill-opacity="0.26"/>
<rect x="53" y="265.0" width="1.05" height="30.8" fill="url(#band)" fill-opacity="0.21"/>
<rect x="54" y="264.9" width="1.05" height="31.0" fill="url(#band)" fill-opacity="0.24"/>
<rect x="55" y="265.7" width="1.05" height="29.4" fill="url(#band)" fill-opacity="0.33"/>
<rect x="56" y="268.5" width="1.05" height="23.9" fill="url(#band)" fill-opacity="0.25"/>
<rect x="57" y="264.7" width="1.05" height="31.4" fill="url(#band)" fill-opacity="0.24"/>
<rect x="58" y="265.7" width="1.05" height="29.3" fill="url(#band)" fill-opacity="0.23"/>
<rect x="59" y="265.7" width="1.05" height="29.4" fill="url(#band)" fill-opacity="0.30"/>
<rect x="60" y="267.0" width="1.05" height="26.8" fill="url(#band)" fill-opacity="0.24"/>
<rect x="61" y="263.2" width="1.05" height="34.3" fill="url(#band)" fill-opacity="0.23"/>
<rect x="62" y="264.7" width="1.05" height="31.4" fill="url(#band)" fill-opacity="0.27"/>
<rect x="63" y="266.6" width="1.05" height="27.5" fill="url(#band)" fill-opacity="0.30"/>
<rect x="64" y="267.6" width="1.05" height="25.6" fill="url(#band)" fill-opacity="0.23"/>
<rect x="65" y="267.1" width="1.05" height="26.7" fill="url(#band)" fill-opacity="0.35"/>
<rect x="66" y="266.0" width="1.05" height="28.8" fill="url(#band)" fill-opacity="0.38"/>
<rect x="67" y="267.0" width="1.05" height="26.7" fill="url(#band)" fill-opacity="0.34"/>
<rect x="68" y="266.5" width="1.05" height="27.8" fill="url(#band)" fill-opacity="0.35"/>
<rect x="69" y="265.3" width="1.05" height="30.2" fill="url(#band)" fill-opacity="0.29"/>
<rect x="70" y="266.5" width="1.05" height="27.7" fill="url(#band)" fill-opacity="0.25"/>
<rect x="71" y="266.4" width="1.05" height="28.1" fill="url(#band)" fill-opacity="0.37"/>
<rect x="72" y="264.2" width="1.05" height="32.4" fill="url(#band)" fill-opacity="0.30"/>
<rect x="73" y="266.8" width="1.05" height="27.2" fill="url(#band)" fill-opacity="0.28"/>
<rect x="74" y="265.9" width="1.05" height="29.0" fill="url(#band)" fill-opacity="0.28"/>
<rect x="75" y="264.8" width="1.05" height="31.3" fill="url(#band)" fill-opacity="0.30"/>
<rect x="76" y="263.7" width="1.05" height="33.3" fill="url(#band)" fill-opacity="0.33"/>
<rect x="77" y="264.7" width="1.05" height="31.5" fill="url(#band)" fill-opacity="0.25"/>
<rect x="78" y="266.6" width="1.05" height="27.6" fill="url(#band)" fill-opacity="0.40"/>
<rect x="79" y="265.7" width="1.05" height="29.4" fill="url(#band)" fill-opacity="0.26"/>
<rect x="80" y="265.6" width="1.05" height="29.6" fill="url(#band)" fill-opacity="0.27"/>
<rect x="81" y="267.2" width="1.05" height="26.3" fill="url(#band)" fill-opacity="0.38"/>
<rect x="82" y="265.5" width="1.05" height="29.8" fill="url(#band)" fill-opacity="0.28"/>
<rect x="83" y="266.6" width="1.05" height="27.6" fill="url(#band)" fill-opacity="0.29"/>
<rect x="84" y="267.1" width="1.05" height="26.6" fill="url(#band)" fill-opacity="0.34"/>
<rect x="85" y="266.0" width="1.05" height="28.8" fill="url(#band)" fill-opacity="0.28"/>
<rect x="86" y="263.4" width="1.05" height="33.9" fill="url(#band)" fill-opacity="0.35"/>
<rect x="87" y="267.3" width="1.05" height="26.1" fill="url(#band)" fill-opacity="0.37"/>
<rect x="88" y="264.3" width="1.05" height="32.2" fill="url(#band)" fill-opacity="0.31"/>
<rect x="89" y="263.7" width="1.05" height="33.3" fill="url(#band)" fill-opacity="0.38"/>
<rect x="90" y="263.8" width="1.05" height="33.2" fill="url(#band)" fill-opacity="0.46"/>
<rect x="91" y="263.4" width="1.05" height="34.0" fill="url(#band)" fill-opacity="0.30"/>
<rect x="92" y="266.6" width="1.05" height="27.7" fill="url(#band)" fill-opacity="0.38"/>
<rect x="93" y="263.8" width="1.05" height="33.3" fill="url(#band)" fill-opacity="0.31"/>
<rect x="94" y="267.3" width="1.05" height="26.2" fill="url(#band)" fill-opacity="0.32"/>
<rect x="95" y="263.5" width="1.05" height="33.8" fill="url(#band)" fill-opacity="0.34"/>
<rect x="96" y="264.4" width="1.05" height="32.1" fill="url(#band)" fill-opacity="0.38"/>
<rect x="97" y="265.6" width="1.05" height="29.6" fill="url(#band)" fill-opacity="0.30"/>
<rect x="98" y="266.7" width="1.05" height="27.3" fill="url(#band)" fill-opacity="0.36"/>
<rect x="99" y="266.0" width="1.05" height="28.8" fill="url(#band)" fill-opacity="0.43"/>
<rect x="100" y="263.2" width="1.05" height="34.4" fill="url(#band)" fill-opacity="0.32"/>
<rect x="101" y="266.7" width="1.05" height="27.5" fill="url(#band)" fill-opacity="0.41"/>
<rect x="102" y="264.3" width="1.05" height="32.2" fill="url(#band)" fill-opacity="0.31"/>
<rect x="103" y="267.1" width="1.05" height="26.7" fill="url(#band)" fill-opacity="0.43"/>
<rect x="104" y="263.5" width="1.05" height="33.8" fill="url(#band)" fill-opacity="0.43"/>
<rect x="105" y="265.7" width="1.05" height="29.3" fill="url(#band)" fill-opacity="0.46"/>
<rect x="106" y="263.8" width="1.05" height="33.2" fill="url(#band)" fill-opacity="0.46"/>
<rect x="107" y="265.8" width="1.05" height="29.1" fill="url(#band)" fill-opacity="0.51"/>
<rect x="108" y="261.7" width="1.05" height="37.4" fill="url(#band)" fill-opacity="0.56"/>
<rect x="109" y="261.9" width="1.05" height="36.9" fill="url(#band)" fill-opacity="0.56"/>
<rect x="110" y="261.5" width="1.05" height="37.8" fill="url(#band)" fill-opacity="0.47"/>
<rect x="111" y="264.8" width="1.05" height="31.3" fill="url(#band)" fill-opacity="0.43"/>
<rect x="112" y="261.1" width="1.05" height="38.6" fill="url(#band)" fill-opacity="0.55"/>
<rect x="113" y="264.5" width="1.05" height="31.9" fill="url(#band)" fill-opacity="0.42"/>
<rect x="114" y="263.1" width="1.05" height="34.5" fill="url(#band)" fill-opacity="0.41"/>
<rect x="115" y="264.3" width="1.05" height="32.3" fill="url(#band)" fill-opacity="0.45"/>
<rect x="116" y="262.0" width="1.05" height="36.8" fill="url(#band)" fill-opacity="0.64"/>
<rect x="117" y="262.8" width="1.05" height="35.2" fill="url(#band)" fill-opacity="0.71"/>
<rect x="118" y="264.7" width="1.05" height="31.3" fill="url(#band)" fill-opacity="0.64"/>
<rect x="119" y="263.4" width="1.05" height="34.1" fill="url(#band)" fill-opacity="0.74"/>
<rect x="120" y="261.6" width="1.05" height="37.5" fill="url(#band)" fill-opacity="0.60"/>
<rect x="121" y="261.6" width="1.05" height="37.7" fill="url(#band)" fill-opacity="0.77"/>
<rect x="122" y="260.6" width="1.05" height="39.5" fill="url(#band)" fill-opacity="0.79"/>
<rect x="123" y="259.2" width="1.05" height="42.4" fill="url(#band)" fill-opacity="0.55"/>
<rect x="124" y="258.0" width="1.05" height="44.7" fill="url(#band)" fill-opacity="0.55"/>
<rect x="125" y="262.4" width="1.05" height="36.0" fill="url(#band)" fill-opacity="0.65"/>
<rect x="126" y="261.6" width="1.05" height="37.5" fill="url(#band)" fill-opacity="0.84"/>
<rect x="127" y="266.1" width="1.05" height="28.6" fill="url(#band)" fill-opacity="0.18"/>
<rect x="128" y="267.5" width="1.05" height="25.7" fill="url(#band)" fill-opacity="0.21"/>
<rect x="129" y="266.9" width="1.05" height="27.0" fill="url(#band)" fill-opacity="0.18"/>
<rect x="130" y="267.6" width="1.05" height="25.5" fill="url(#band)" fill-opacity="0.22"/>
<rect x="131" y="266.5" width="1.05" height="27.8" fill="url(#band)" fill-opacity="0.20"/>
<rect x="132" y="265.1" width="1.05" height="30.6" fill="url(#band)" fill-opacity="0.19"/>
<rect x="133" y="267.0" width="1.05" height="26.7" fill="url(#band)" fill-opacity="0.21"/>
<rect x="134" y="267.1" width="1.05" height="26.6" fill="url(#band)" fill-opacity="0.16"/>
<rect x="135" y="267.0" width="1.05" height="26.8" fill="url(#band)" fill-opacity="0.24"/>
<rect x="136" y="265.3" width="1.05" height="30.2" fill="url(#band)" fill-opacity="0.15"/>
<rect x="137" y="263.7" width="1.05" height="33.5" fill="url(#band)" fill-opacity="0.20"/>
<rect x="138" y="266.6" width="1.05" height="27.6" fill="url(#band)" fill-opacity="0.15"/>
<rect x="139" y="265.0" width="1.05" height="30.8" fill="url(#band)" fill-opacity="0.16"/>
<rect x="140" y="265.8" width="1.05" height="29.2" fill="url(#band)" fill-opacity="0.19"/>
<rect x="141" y="264.7" width="1.05" height="31.5" fill="url(#band)" fill-opacity="0.23"/>
<rect x="142" y="263.3" width="1.05" height="34.1" fill="url(#band)" fill-opacity="0.23"/>
<rect x="143" y="263.4" width="1.05" height="34.0" fill="url(#band)" fill-opacity="0.17"/>
<rect x="144" y="267.4" width="1.05" height="26.0" fill="url(#band)" fill-opacity="0.18"/>
<rect x="145" y="255.7" width="1.05" height="49.3" fill="url(#band)" fill-opacity="0.87"/>
<rect x="146" y="254.2" width="1.05" height="52.5" fill="url(#band)" fill-opacity="0.53"/>
<rect x="147" y="262.2" width="1.05" height="36.5" fill="url(#band)" fill-opacity="0.38"/>
<rect x="148" y="264.8" width="1.05" height="31.2" fill="url(#band)" fill-opacity="0.50"/>
<rect x="149" y="262.7" width="1.05" height="35.3" fill="url(#band)" fill-opacity="0.41"/>
<rect x="150" y="263.7" width="1.05" height="33.5" fill="url(#band)" fill-opacity="0.45"/>
<rect x="151" y="266.2" width="1.05" height="28.3" fill="url(#band)" fill-opacity="0.38"/>
<rect x="152" y="263.6" width="1.05" height="33.5" fill="url(#band)" fill-opacity="0.32"/>
<rect x="153" y="263.0" width="1.05" height="34.9" fill="url(#band)" fill-opacity="0.37"/>
<rect x="154" y="262.2" width="1.05" height="36.4" fill="url(#band)" fill-opacity="0.41"/>
<rect x="155" y="266.4" width="1.05" height="27.9" fill="url(#band)" fill-opacity="0.28"/>
<rect x="156" y="264.1" width="1.05" height="32.7" fill="url(#band)" fill-opacity="0.38"/>
<rect x="157" y="263.5" width="1.05" height="33.8" fill="url(#band)" fill-opacity="0.25"/>
<rect x="158" y="265.7" width="1.05" height="29.5" fill="url(#band)" fill-opacity="0.26"/>
<rect x="159" y="264.3" width="1.05" height="32.2" fill="url(#band)" fill-opacity="0.26"/>
<rect x="160" y="266.4" width="1.05" height="27.9" fill="url(#band)" fill-opacity="0.29"/>
<rect x="161" y="263.8" width="1.05" height="33.2" fill="url(#band)" fill-opacity="0.29"/>
<rect x="162" y="263.6" width="1.05" height="33.7" fill="url(#band)" fill-opacity="0.24"/>
<rect x="163" y="266.8" width="1.05" height="27.3" fill="url(#band)" fill-opacity="0.27"/>
<rect x="164" y="263.5" width="1.05" height="33.7" fill="url(#band)" fill-opacity="0.22"/>
<rect x="165" y="265.8" width="1.05" height="29.2" fill="url(#band)" fill-opacity="0.23"/>
<rect x="166" y="264.5" width="1.05" height="31.9" fill="url(#band)" fill-opacity="0.17"/>
<rect x="167" y="267.5" width="1.05" height="25.8" fill="url(#band)" fill-opacity="0.23"/>
<rect x="168" y="264.5" width="1.05" height="31.8" fill="url(#band)" fill-opacity="0.19"/>
<rect x="169" y="266.8" width="1.05" height="27.2" fill="url(#band)" fill-opacity="0.17"/>
<rect x="170" y="264.7" width="1.05" height="31.4" fill="url(#band)" fill-opacity="0.24"/>
<rect x="171" y="265.4" width="1.05" height="30.0" fill="url(#band)" fill-opacity="0.17"/>
<rect x="172" y="265.7" width="1.05" height="29.4" fill="url(#band)" fill-opacity="0.18"/>
<rect x="173" y="268.0" width="1.05" height="24.9" fill="url(#band)" fill-opacity="0.22"/>
<rect x="174" y="267.6" width="1.05" height="25.6" fill="url(#band)" fill-opacity="0.16"/>
<rect x="175" y="268.4" width="1.05" height="24.1" fill="url(#band)" fill-opacity="0.16"/>
<rect x="176" y="266.8" width="1.05" height="27.2" fill="url(#band)" fill-opacity="0.15"/>
<rect x="177" y="268.2" width="1.05" height="24.5" fill="url(#band)" fill-opacity="0.17"/>
<rect x="178" y="264.5" width="1.05" height="31.7" fill="url(#band)" fill-opacity="0.18"/>
<rect x="179" y="267.0" width="1.05" height="26.8" fill="url(#band)" fill-opacity="0.18"/>
<rect x="180" y="266.7" width="1.05" height="27.5" fill="url(#band)" fill-opacity="0.19"/>
<rect x="181" y="266.5" width="1.05" height="27.8" fill="url(#band)" fill-opacity="0.14"/>
<rect x="182" y="265.7" width="1.05" height="29.5" fill="url(#band)" fill-opacity="0.12"/>
<rect x="183" y="266.9" width="1.05" height="26.9" fill="url(#band)" fill-opacity="0.13"/>
<rect x="184" y="265.3" width="1.05" height="30.2" fill="url(#band)" fill-opacity="0.20"/>
<rect x="185" y="265.8" width="1.05" height="29.2" fill="url(#band)" fill-opacity="0.19"/>
<rect x="186" y="265.5" width="1.05" height="29.7" fill="url(#band)" fill-opacity="0.17"/>
<rect x="187" y="267.7" width="1.05" height="25.4" fill="url(#band)" fill-opacity="0.19"/>
<rect x="188" y="267.2" width="1.05" height="26.3" fill="url(#band)" fill-opacity="0.17"/>
<rect x="189" y="265.0" width="1.05" height="30.7" fill="url(#band)" fill-opacity="0.13"/>
<rect x="190" y="264.9" width="1.05" height="30.9" fill="url(#band)" fill-opacity="0.15"/>
<rect x="191" y="266.0" width="1.05" height="28.7" fill="url(#band)" fill-opacity="0.17"/>
<rect x="192" y="268.4" width="1.05" height="23.9" fill="url(#band)" fill-opacity="0.12"/>
<rect x="193" y="265.5" width="1.05" height="29.9" fill="url(#band)" fill-opacity="0.14"/>
<rect x="194" y="268.2" width="1.05" height="24.4" fill="url(#band)" fill-opacity="0.12"/>
<rect x="195" y="267.8" width="1.05" height="25.3" fill="url(#band)" fill-opacity="0.10"/>
<rect x="196" y="268.5" width="1.05" height="23.8" fill="url(#band)" fill-opacity="0.14"/>
<rect x="197" y="267.4" width="1.05" height="26.0" fill="url(#band)" fill-opacity="0.11"/>
<rect x="198" y="264.4" width="1.05" height="32.1" fill="url(#band)" fill-opacity="0.14"/>
<rect x="199" y="268.0" width="1.05" height="24.8" fill="url(#band)" fill-opacity="0.09"/>
<rect x="200" y="264.4" width="1.05" height="31.9" fill="url(#band)" fill-opacity="0.15"/>
<rect x="201" y="267.1" width="1.05" height="26.6" fill="url(#band)" fill-opacity="0.10"/>
<rect x="202" y="267.2" width="1.05" height="26.5" fill="url(#band)" fill-opacity="0.12"/>
<rect x="203" y="266.5" width="1.05" height="27.8" fill="url(#band)" fill-opacity="0.11"/>
<rect x="204" y="268.3" width="1.05" height="24.3" fill="url(#band)" fill-opacity="0.10"/>
<rect x="205" y="267.8" width="1.05" height="25.2" fill="url(#band)" fill-opacity="0.08"/>
<rect x="206" y="265.9" width="1.05" height="29.0" fill="url(#band)" fill-opacity="0.08"/>
<rect x="207" y="267.4" width="1.05" height="26.0" fill="url(#band)" fill-opacity="0.11"/>
<rect x="208" y="265.4" width="1.05" height="29.9" fill="url(#band)" fill-opacity="0.12"/>
<rect x="209" y="266.4" width="1.05" height="27.9" fill="url(#band)" fill-opacity="0.09"/>
<rect x="210" y="264.6" width="1.05" height="31.6" fill="url(#band)" fill-opacity="0.08"/>
<rect x="211" y="268.3" width="1.05" height="24.2" fill="url(#band)" fill-opacity="0.10"/>
<rect x="212" y="265.6" width="1.05" height="29.6" fill="url(#band)" fill-opacity="0.07"/>
<rect x="213" y="265.5" width="1.05" height="29.8" fill="url(#band)" fill-opacity="0.08"/>
<rect x="214" y="265.2" width="1.05" height="30.5" fill="url(#band)" fill-opacity="0.07"/>
<rect x="215" y="268.1" width="1.05" height="24.6" fill="url(#band)" fill-opacity="0.10"/>
<rect x="216" y="267.7" width="1.05" height="25.4" fill="url(#band)" fill-opacity="0.08"/>
<rect x="217" y="265.1" width="1.05" height="30.6" fill="url(#band)" fill-opacity="0.09"/>
</g>
<rect x="127.2" y="258.6" width="0.8" height="43.799999999999955" fill="#ffffff" fill-opacity="0.8"/>
<rect x="144.2" y="258.6" width="0.8" height="43.799999999999955" fill="#ffffff" fill-opacity="0.8"/>
<rect x="145" y="258.6" width="1.3" height="43.799999999999955" fill="url(#vline)" />
<rect x="20.6" y="258.90000000000003" width="196.9" height="43.49999999999996" fill="none" stroke="#959595" stroke-width="1.2"/>
<line x1="217.6" y1="210.5" x2="219.2" y2="210.5" stroke="#8c8c8c" stroke-width="0.8" />
<line x1="217.6" y1="232.5" x2="219.2" y2="232.5" stroke="#8c8c8c" stroke-width="0.8" />
<line x1="217.6" y1="254.5" x2="219.2" y2="254.5" stroke="#8c8c8c" stroke-width="0.8" />
<text x="224.6" y="212.9" font-size="6.1" fill="#111" color="#111" textLength="16.2" lengthAdjust="spacingAndGlyphs" >1.0Kb</text>
<text x="222.4" y="254.9" font-size="6.1" fill="#111" color="#111" textLength="18.4" lengthAdjust="spacingAndGlyphs" >-1.0Kb</text>
<text transform="translate(230.9 232.8) rotate(90)" font-size="6.2" fill="#111" color="#111" text-anchor="middle" textLength="14" lengthAdjust="spacingAndGlyphs" >Peak</text>
<text transform="translate(223.2 233.1) rotate(90)" font-size="6.2" fill="#111" color="#111" text-anchor="middle" textLength="18.2" lengthAdjust="spacingAndGlyphs" >center</text>
<line x1="217.6" y1="258.6" x2="219.2" y2="258.6" stroke="#8c8c8c" stroke-width="0.8" />
<line x1="217.6" y1="280.5" x2="219.2" y2="280.5" stroke="#8c8c8c" stroke-width="0.8" />
<line x1="217.6" y1="302.5" x2="219.2" y2="302.5" stroke="#8c8c8c" stroke-width="0.8" />
<text x="224.6" y="261.0" font-size="6.1" fill="#111" color="#111" textLength="16.2" lengthAdjust="spacingAndGlyphs" >1.0Kb</text>
<text x="222.4" y="302.9" font-size="6.1" fill="#111" color="#111" textLength="18.4" lengthAdjust="spacingAndGlyphs" >-1.0Kb</text>
<text transform="translate(230.9 280.8) rotate(90)" font-size="6.2" fill="#111" color="#111" text-anchor="middle" textLength="14" lengthAdjust="spacingAndGlyphs" >Peak</text>
<text transform="translate(223.2 281.1) rotate(90)" font-size="6.2" fill="#111" color="#111" text-anchor="middle" textLength="18.2" lengthAdjust="spacingAndGlyphs" >center</text>
<text transform="translate(14.6 244) rotate(-90)" font-size="7.6" fill="#111" color="#111" textLength="23" lengthAdjust="spacingAndGlyphs" >R359X</text>
<text transform="translate(14.6 286.4) rotate(-90)" font-size="7.6" fill="#111" color="#111" textLength="12.4" lengthAdjust="spacingAndGlyphs" >WT</text>
<text x="34" y="311.2" font-size="7.6" fill="#111" color="#111" textLength="56.4" lengthAdjust="spacingAndGlyphs" >ATAC-Seq Peak</text>
<rect x="158.4" y="305.8" width="55" height="4.8" fill="url(#cbBl)" stroke="#333" stroke-width="0.6"/>
<line x1="158.6" y1="310.6" x2="158.6" y2="312.2" stroke="#333" stroke-width="0.7" />
<text x="158.6" y="321.4" font-size="6.6" fill="#111" color="#111" text-anchor="middle" >0</text>
<line x1="179.6" y1="310.6" x2="179.6" y2="312.2" stroke="#333" stroke-width="0.7" />
<text x="179.6" y="321.4" font-size="6.6" fill="#111" color="#111" text-anchor="middle" >25</text>
<line x1="200.6" y1="310.6" x2="200.6" y2="312.2" stroke="#333" stroke-width="0.7" />
<text x="200.6" y="321.4" font-size="6.6" fill="#111" color="#111" text-anchor="middle" >50</text>
<text x="256.9" y="175.1" font-size="10.8" fill="#000" color="#000" font-weight="bold" >D</text>
<line x1="287.9" y1="181" x2="287.9" y2="294.3" stroke="#111" stroke-width="1.0" />
<line x1="287.4" y1="293.8" x2="421.8" y2="293.8" stroke="#111" stroke-width="1.2" />
<line x1="284.8" y1="183.4" x2="287.9" y2="183.4" stroke="#111" stroke-width="0.9" />
<text x="281.4" y="186.1" font-size="7.5" fill="#161616" color="#161616" text-anchor="end" >40</text>
<line x1="284.8" y1="198.4" x2="287.9" y2="198.4" stroke="#111" stroke-width="0.9" />
<text x="281.4" y="201.1" font-size="7.5" fill="#161616" color="#161616" text-anchor="end" >30</text>
<line x1="284.8" y1="213.4" x2="287.9" y2="213.4" stroke="#111" stroke-width="0.9" />
<text x="281.4" y="216.1" font-size="7.5" fill="#161616" color="#161616" text-anchor="end" >20</text>
<line x1="284.8" y1="228.4" x2="287.9" y2="228.4" stroke="#111" stroke-width="0.9" />
<text x="281.4" y="231.1" font-size="7.5" fill="#161616" color="#161616" text-anchor="end" >10</text>
<line x1="284.8" y1="243.4" x2="287.9" y2="243.4" stroke="#111" stroke-width="0.9" />
<text x="281.4" y="246.1" font-size="7.5" fill="#161616" color="#161616" text-anchor="end" >0</text>
<line x1="284.8" y1="258.4" x2="287.9" y2="258.4" stroke="#111" stroke-width="0.9" />
<text x="281.4" y="261.09999999999997" font-size="7.5" fill="#161616" color="#161616" text-anchor="end" >-10</text>
<line x1="284.8" y1="273.4" x2="287.9" y2="273.4" stroke="#111" stroke-width="0.9" />
<text x="281.4" y="276.09999999999997" font-size="7.5" fill="#161616" color="#161616" text-anchor="end" >-20</text>
<line x1="284.8" y1="288.4" x2="287.9" y2="288.4" stroke="#111" stroke-width="0.9" />
<text x="281.4" y="291.09999999999997" font-size="7.5" fill="#161616" color="#161616" text-anchor="end" >-30</text>
<line x1="302.8" y1="293.8" x2="302.8" y2="296.40000000000003" stroke="#111" stroke-width="0.9" />
<text x="302.8" y="307" font-size="7.5" fill="#161616" color="#161616" text-anchor="middle" >-40</text>
<line x1="331.70000000000005" y1="293.8" x2="331.70000000000005" y2="296.40000000000003" stroke="#111" stroke-width="0.9" />
<text x="331.70000000000005" y="307" font-size="7.5" fill="#161616" color="#161616" text-anchor="middle" >-20</text>
<line x1="360.6" y1="293.8" x2="360.6" y2="296.40000000000003" stroke="#111" stroke-width="0.9" />
<text x="360.6" y="307" font-size="7.5" fill="#161616" color="#161616" text-anchor="middle" >0</text>
<line x1="389.5" y1="293.8" x2="389.5" y2="296.40000000000003" stroke="#111" stroke-width="0.9" />
<text x="389.5" y="307" font-size="7.5" fill="#161616" color="#161616" text-anchor="middle" >20</text>
<line x1="418.40000000000003" y1="293.8" x2="418.40000000000003" y2="296.40000000000003" stroke="#111" stroke-width="0.9" />
<text x="418.40000000000003" y="307" font-size="7.5" fill="#161616" color="#161616" text-anchor="middle" >40</text>
<text transform="translate(264.9 242) rotate(-90)" font-size="9.6" fill="#161616" color="#161616" textLength="9" lengthAdjust="spacingAndGlyphs" >V2</text>
<text x="350.1" y="319.7" font-size="8.7" fill="#161616" color="#161616" textLength="8.4" lengthAdjust="spacingAndGlyphs" >V1</text>
<circle cx="327.8" cy="240.3" r="1.08" fill="#d4d4d4"/>
<circle cx="338.1" cy="252.9" r="1.08" fill="#d4d4d4"/>
<circle cx="342.4" cy="253.7" r="1.08" fill="#d4d4d4"/>
<circle cx="327.8" cy="218.3" r="1.08" fill="#62c81e"/>
<circle cx="324.7" cy="219.9" r="1.08" fill="#62c81e"/>
<circle cx="326.3" cy="219.9" r="1.08" fill="#62c81e"/>
<circle cx="328.2" cy="220.3" r="1.08" fill="#62c81e"/>
<circle cx="329" cy="221.4" r="1.08" fill="#62c81e"/>
<circle cx="326.7" cy="223.4" r="1.08" fill="#62c81e"/>
<circle cx="328.2" cy="222.2" r="1.08" fill="#62c81e"/>
<circle cx="323.5" cy="224.6" r="1.08" fill="#62c81e"/>
<circle cx="324.7" cy="226.6" r="1.08" fill="#62c81e"/>
<circle cx="325.9" cy="227.4" r="1.08" fill="#62c81e"/>
<circle cx="327.4" cy="228.1" r="1.08" fill="#62c81e"/>
<circle cx="329" cy="227.7" r="1.08" fill="#62c81e"/>
<circle cx="322.7" cy="230.1" r="1.08" fill="#62c81e"/>
<circle cx="323.9" cy="230.9" r="1.08" fill="#62c81e"/>
<circle cx="322.3" cy="231.7" r="1.08" fill="#62c81e"/>
<circle cx="325.5" cy="230.1" r="1.08" fill="#62c81e"/>
<circle cx="327.8" cy="232.1" r="1.08" fill="#62c81e"/>
<circle cx="325.9" cy="234" r="1.08" fill="#62c81e"/>
<circle cx="320.8" cy="235.6" r="1.08" fill="#62c81e"/>
<circle cx="322.7" cy="236.4" r="1.08" fill="#62c81e"/>
<circle cx="326.7" cy="236.4" r="1.08" fill="#62c81e"/>
<circle cx="321.9" cy="236.8" r="1.08" fill="#62c81e"/>
<circle cx="323.5" cy="237" r="1.08" fill="#62c81e"/>
<circle cx="326.7" cy="237.2" r="1.08" fill="#62c81e"/>
<circle cx="336.1" cy="243.2" r="1.08" fill="#62c81e"/>
<circle cx="339.3" cy="243.2" r="1.08" fill="#62c81e"/>
<circle cx="326.8" cy="245.8" r="1.08" fill="#62c81e"/>
<circle cx="342.2" cy="263.7" r="1.08" fill="#62c81e"/>
<circle cx="334.9" cy="228.5" r="1.08" fill="#5c4a0c"/>
<circle cx="337.7" cy="227.7" r="1.08" fill="#5c4a0c"/>
<circle cx="338.1" cy="228.9" r="1.08" fill="#5c4a0c"/>
<circle cx="335.7" cy="230.9" r="1.08" fill="#5c4a0c"/>
<circle cx="334.1" cy="233.3" r="1.08" fill="#5c4a0c"/>
<circle cx="336.1" cy="234.4" r="1.08" fill="#5c4a0c"/>
<circle cx="336.5" cy="235.6" r="1.08" fill="#5c4a0c"/>
<circle cx="332.6" cy="237.2" r="1.08" fill="#5c4a0c"/>
<circle cx="332.6" cy="238" r="1.08" fill="#5c4a0c"/>
<circle cx="333" cy="239.1" r="1.08" fill="#5c4a0c"/>
<circle cx="336.1" cy="236.4" r="1.08" fill="#5c4a0c"/>
<circle cx="337.8" cy="262.3" r="1.08" fill="#5c4a0c"/>
<circle cx="338.2" cy="272.2" r="1.08" fill="#5c4a0c"/>
<circle cx="292.3" cy="288.9" r="1.08" fill="#e0208f"/>
<circle cx="293.5" cy="288.1" r="1.08" fill="#e0208f"/>
<circle cx="295.1" cy="286.9" r="1.08" fill="#e0208f"/>
<circle cx="295.5" cy="285.7" r="1.08" fill="#e0208f"/>
<circle cx="296.3" cy="289.7" r="1.08" fill="#e0208f"/>
<circle cx="297.1" cy="286.5" r="1.08" fill="#e0208f"/>
<circle cx="298.2" cy="287.3" r="1.08" fill="#e0208f"/>
<circle cx="298.6" cy="279.8" r="1.08" fill="#e0208f"/>
<circle cx="299" cy="284.1" r="1.08" fill="#e0208f"/>
<circle cx="300.2" cy="282.6" r="1.08" fill="#e0208f"/>
<circle cx="301" cy="284.9" r="1.08" fill="#e0208f"/>
<circle cx="302.6" cy="278.2" r="1.08" fill="#e0208f"/>
<circle cx="303" cy="280.6" r="1.08" fill="#e0208f"/>
<circle cx="303.7" cy="283.4" r="1.08" fill="#e0208f"/>
<circle cx="304.5" cy="282.2" r="1.08" fill="#e0208f"/>
<circle cx="306.9" cy="281.4" r="1.08" fill="#e0208f"/>
<circle cx="308.1" cy="282.2" r="1.08" fill="#e0208f"/>
<circle cx="308.1" cy="278.6" r="1.08" fill="#e0208f"/>
<circle cx="308.9" cy="279.8" r="1.08" fill="#e0208f"/>
<circle cx="306.1" cy="281" r="1.08" fill="#e0208f"/>
<circle cx="301.4" cy="286.1" r="1.08" fill="#e0208f"/>
<circle cx="334.3" cy="273.4" r="1.08" fill="#e0208f"/>
<circle cx="337.1" cy="274.9" r="1.08" fill="#e0208f"/>
<circle cx="335.9" cy="276.9" r="1.08" fill="#e0208f"/>
<circle cx="335.5" cy="278.9" r="1.08" fill="#e0208f"/>
<circle cx="347.1" cy="249.8" r="1.08" fill="#f5a01e"/>
<circle cx="347.5" cy="243.1" r="1.08" fill="#f5a01e"/>
<circle cx="347.5" cy="253.7" r="1.08" fill="#f5a01e"/>
<circle cx="355.1" cy="229.8" r="1.08" fill="#f5a01e"/>
<circle cx="355.8" cy="232.6" r="1.08" fill="#f5a01e"/>
<circle cx="354.3" cy="234.2" r="1.08" fill="#f5a01e"/>
<circle cx="352.7" cy="236.5" r="1.08" fill="#f5a01e"/>
<circle cx="352.3" cy="238.9" r="1.08" fill="#f5a01e"/>
<circle cx="350.3" cy="240.1" r="1.08" fill="#f5a01e"/>
<circle cx="349.1" cy="242" r="1.08" fill="#f5a01e"/>
<circle cx="348" cy="242.8" r="1.08" fill="#f5a01e"/>
<circle cx="351.9" cy="241.3" r="1.08" fill="#f5a01e"/>
<circle cx="351.1" cy="243.6" r="1.08" fill="#f5a01e"/>
<circle cx="350.7" cy="245.2" r="1.08" fill="#f5a01e"/>
<circle cx="353.1" cy="240.5" r="1.08" fill="#f5a01e"/>
<circle cx="338.3" cy="258.4" r="1.08" fill="#e6143c"/>
<circle cx="346" cy="259.6" r="1.08" fill="#e6143c"/>
<circle cx="346.1" cy="259.6" r="1.08" fill="#e6143c"/>
<circle cx="356" cy="258.8" r="1.08" fill="#e6143c"/>
<circle cx="339.8" cy="270.2" r="1.08" fill="#e6143c"/>
<circle cx="346.1" cy="273" r="1.08" fill="#e6143c"/>
<circle cx="371.6" cy="242.8" r="1.08" fill="#e6143c"/>
<circle cx="371.4" cy="243.1" r="1.08" fill="#e6143c"/>
<circle cx="372.5" cy="242.3" r="1.08" fill="#e6143c"/>
<circle cx="369.8" cy="248.6" r="1.08" fill="#e6143c"/>
<circle cx="356.4" cy="255.3" r="1.08" fill="#e6143c"/>
<circle cx="356.7" cy="255.2" r="1.08" fill="#e6143c"/>
<circle cx="355.9" cy="258.7" r="1.08" fill="#e6143c"/>
<circle cx="327.3" cy="247.8" r="1.08" fill="#000000"/>
<circle cx="327.4" cy="249" r="1.08" fill="#000000"/>
<circle cx="329.8" cy="253.3" r="1.08" fill="#000000"/>
<circle cx="331" cy="254.5" r="1.08" fill="#000000"/>
<circle cx="340" cy="252.9" r="1.08" fill="#000000"/>
<circle cx="345.2" cy="256.5" r="1.08" fill="#000000"/>
<circle cx="346" cy="250.2" r="1.08" fill="#000000"/>
<circle cx="344.5" cy="263.7" r="1.08" fill="#000000"/>
<circle cx="351.6" cy="261.9" r="1.08" fill="#000000"/>
<circle cx="338.6" cy="265.9" r="1.08" fill="#000000"/>
<circle cx="339.8" cy="266.3" r="1.08" fill="#000000"/>
<circle cx="339.8" cy="267.4" r="1.08" fill="#000000"/>
<circle cx="337.1" cy="269" r="1.08" fill="#000000"/>
<circle cx="342.6" cy="268.6" r="1.08" fill="#000000"/>
<circle cx="341.8" cy="270.2" r="1.08" fill="#000000"/>
<circle cx="346.1" cy="267.1" r="1.08" fill="#000000"/>
<circle cx="341.4" cy="272.2" r="1.08" fill="#000000"/>
<circle cx="339" cy="273.4" r="1.08" fill="#000000"/>
<circle cx="340.2" cy="276.5" r="1.08" fill="#000000"/>
<circle cx="336.7" cy="277.3" r="1.08" fill="#000000"/>
<circle cx="348.1" cy="273" r="1.08" fill="#000000"/>
<circle cx="356.6" cy="226.9" r="1.08" fill="#000000"/>
<circle cx="351.9" cy="231" r="1.08" fill="#000000"/>
<circle cx="350.7" cy="234" r="1.08" fill="#000000"/>
<circle cx="353.9" cy="243.2" r="1.08" fill="#000000"/>
<circle cx="355.4" cy="244.8" r="1.08" fill="#000000"/>
<circle cx="375.5" cy="242" r="1.08" fill="#000000"/>
<circle cx="376.9" cy="238.8" r="1.08" fill="#000000"/>
<circle cx="376.5" cy="240.7" r="1.08" fill="#000000"/>
<circle cx="376.1" cy="242.7" r="1.08" fill="#000000"/>
<circle cx="383.2" cy="241.1" r="1.08" fill="#000000"/>
<circle cx="384.7" cy="241.1" r="1.08" fill="#000000"/>
<circle cx="357.6" cy="246.6" r="1.08" fill="#000000"/>
<circle cx="356.4" cy="248.6" r="1.08" fill="#000000"/>
<circle cx="370.2" cy="248.6" r="1.08" fill="#000000"/>
<circle cx="376.9" cy="248.6" r="1.08" fill="#000000"/>
<circle cx="380.8" cy="249" r="1.08" fill="#000000"/>
<circle cx="378.4" cy="253.7" r="1.08" fill="#000000"/>
<circle cx="380" cy="254.5" r="1.08" fill="#000000"/>
<circle cx="372.9" cy="259.6" r="1.08" fill="#000000"/>
<circle cx="382" cy="260.5" r="1.08" fill="#000000"/>
<circle cx="356.4" cy="257.7" r="1.08" fill="#000000"/>
<circle cx="351.6" cy="261.9" r="1.08" fill="#000000"/>
<circle cx="362.6" cy="265" r="1.08" fill="#000000"/>
<circle cx="370.1" cy="265.4" r="1.08" fill="#000000"/>
<circle cx="368.1" cy="269.7" r="1.08" fill="#000000"/>
<circle cx="370.1" cy="270.5" r="1.08" fill="#000000"/>
<circle cx="372.8" cy="269.4" r="1.08" fill="#000000"/>
<circle cx="372.4" cy="261.5" r="1.08" fill="#000000"/>
<circle cx="373.6" cy="259.1" r="1.08" fill="#000000"/>
<circle cx="379.5" cy="254.4" r="1.08" fill="#000000"/>
<circle cx="383.5" cy="240.8" r="1.08" fill="#000000"/>
<circle cx="385.9" cy="240.8" r="1.08" fill="#000000"/>
<circle cx="380.8" cy="249.1" r="1.08" fill="#000000"/>
<circle cx="378.8" cy="253.8" r="1.08" fill="#000000"/>
<circle cx="388.6" cy="255.7" r="1.08" fill="#000000"/>
<circle cx="385.1" cy="258.1" r="1.08" fill="#000000"/>
<circle cx="389.4" cy="258.9" r="1.08" fill="#000000"/>
<circle cx="391.8" cy="260.5" r="1.08" fill="#000000"/>
<circle cx="381.9" cy="260.9" r="1.08" fill="#000000"/>
<circle cx="389" cy="265.2" r="1.08" fill="#000000"/>
<circle cx="384.2" cy="229.4" r="1.08" fill="#000000"/>
<circle cx="383.8" cy="231.4" r="1.08" fill="#000000"/>
<circle cx="383.4" cy="233" r="1.08" fill="#000000"/>
<circle cx="376.7" cy="238.9" r="1.08" fill="#000000"/>
<circle cx="376.3" cy="240.5" r="1.08" fill="#000000"/>
<circle cx="375.9" cy="242.4" r="1.08" fill="#000000"/>
<circle cx="383" cy="240.9" r="1.08" fill="#000000"/>
<circle cx="385" cy="240.9" r="1.08" fill="#000000"/>
<circle cx="386.2" cy="240.9" r="1.08" fill="#000000"/>
<circle cx="353.5" cy="226.1" r="1.08" fill="#1e1eff"/>
<circle cx="354.8" cy="263.1" r="1.08" fill="#1e1eff"/>
<circle cx="356.3" cy="263.5" r="1.08" fill="#1e1eff"/>
<circle cx="356.7" cy="265.1" r="1.08" fill="#1e1eff"/>
<circle cx="378" cy="250.6" r="1.08" fill="#1e1eff"/>
<circle cx="380" cy="255.3" r="1.08" fill="#1e1eff"/>
<circle cx="373.7" cy="256.9" r="1.08" fill="#1e1eff"/>
<circle cx="374.9" cy="257.3" r="1.08" fill="#1e1eff"/>
<circle cx="379.6" cy="258.4" r="1.08" fill="#1e1eff"/>
<circle cx="381.2" cy="258.8" r="1.08" fill="#1e1eff"/>
<circle cx="382.8" cy="258" r="1.08" fill="#1e1eff"/>
<circle cx="384" cy="254.5" r="1.08" fill="#1e1eff"/>
<circle cx="385.5" cy="253.7" r="1.08" fill="#1e1eff"/>
<circle cx="376.9" cy="261.2" r="1.08" fill="#1e1eff"/>
<circle cx="354.3" cy="263.1" r="1.08" fill="#1e1eff"/>
<circle cx="356.7" cy="262.7" r="1.08" fill="#1e1eff"/>
<circle cx="356.3" cy="265" r="1.08" fill="#1e1eff"/>
<circle cx="359.1" cy="265.8" r="1.08" fill="#1e1eff"/>
<circle cx="364.6" cy="265" r="1.08" fill="#1e1eff"/>
<circle cx="366.5" cy="265.4" r="1.08" fill="#1e1eff"/>
<circle cx="368.9" cy="262.7" r="1.08" fill="#1e1eff"/>
<circle cx="365.7" cy="268.2" r="1.08" fill="#1e1eff"/>
<circle cx="361.8" cy="269" r="1.08" fill="#1e1eff"/>
<circle cx="362.6" cy="268.2" r="1.08" fill="#1e1eff"/>
<circle cx="373.2" cy="256.8" r="1.08" fill="#1e1eff"/>
<circle cx="374.8" cy="256.8" r="1.08" fill="#1e1eff"/>
<circle cx="377.2" cy="261.5" r="1.08" fill="#1e1eff"/>
<circle cx="375.2" cy="266.6" r="1.08" fill="#1e1eff"/>
<circle cx="379.5" cy="258.7" r="1.08" fill="#1e1eff"/>
<circle cx="378.4" cy="250.6" r="1.08" fill="#1e1eff"/>
<circle cx="383.9" cy="254.2" r="1.08" fill="#1e1eff"/>
<circle cx="385.5" cy="255" r="1.08" fill="#1e1eff"/>
<circle cx="380" cy="258.5" r="1.08" fill="#1e1eff"/>
<circle cx="381.5" cy="258.9" r="1.08" fill="#1e1eff"/>
<circle cx="383.1" cy="258.1" r="1.08" fill="#1e1eff"/>
<circle cx="393" cy="256.1" r="1.08" fill="#1e1eff"/>
<circle cx="387.8" cy="258.9" r="1.08" fill="#1e1eff"/>
<circle cx="390.6" cy="261.3" r="1.08" fill="#1e1eff"/>
<circle cx="393.7" cy="258.9" r="1.08" fill="#1e1eff"/>
<circle cx="389.8" cy="262.4" r="1.08" fill="#1e1eff"/>
<circle cx="381.5" cy="262.4" r="1.08" fill="#1e1eff"/>
<circle cx="387.4" cy="265.2" r="1.08" fill="#1e1eff"/>
<circle cx="392.6" cy="263.6" r="1.08" fill="#1e1eff"/>
<circle cx="407.4" cy="182.7" r="1.08" fill="#7810c4"/>
<circle cx="408.2" cy="183.9" r="1.08" fill="#7810c4"/>
<circle cx="401.5" cy="186.3" r="1.08" fill="#7810c4"/>
<circle cx="409.4" cy="185.9" r="1.08" fill="#7810c4"/>
<circle cx="412.5" cy="185.1" r="1.08" fill="#7810c4"/>
<circle cx="416.5" cy="186.3" r="1.08" fill="#7810c4"/>
<circle cx="405.8" cy="187.4" r="1.08" fill="#7810c4"/>
<circle cx="407.4" cy="187.8" r="1.08" fill="#7810c4"/>
<circle cx="411.4" cy="187.8" r="1.08" fill="#7810c4"/>
<circle cx="412.9" cy="188.2" r="1.08" fill="#7810c4"/>
<circle cx="413.7" cy="189" r="1.08" fill="#7810c4"/>
<circle cx="404.3" cy="190.2" r="1.08" fill="#7810c4"/>
<circle cx="409" cy="189" r="1.08" fill="#7810c4"/>
<circle cx="410.6" cy="190.6" r="1.08" fill="#7810c4"/>
<circle cx="409.8" cy="191.8" r="1.08" fill="#7810c4"/>
<circle cx="405.1" cy="193" r="1.08" fill="#7810c4"/>
<circle cx="401.9" cy="194.1" r="1.08" fill="#7810c4"/>
<circle cx="408.2" cy="194.5" r="1.08" fill="#7810c4"/>
<circle cx="414.1" cy="196.5" r="1.08" fill="#7810c4"/>
<circle cx="412.1" cy="189.4" r="1.08" fill="#7810c4"/>
<circle cx="413.9" cy="188.3" r="1.08" fill="#7810c4"/>
<circle cx="406.2" cy="187.3" r="1.08" fill="#7810c4"/>
<circle cx="408.7" cy="183.7" r="1.08" fill="#7810c4"/>
<circle cx="410.3" cy="189.9" r="1.08" fill="#7810c4"/>
<circle cx="388.6" cy="194" r="1.08" fill="#7810c4"/>
<circle cx="389.7" cy="195.5" r="1.08" fill="#7810c4"/>
<circle cx="391.2" cy="195" r="1.08" fill="#7810c4"/>
<circle cx="392.2" cy="196.6" r="1.08" fill="#7810c4"/>
<circle cx="390.7" cy="197.6" r="1.08" fill="#7810c4"/>
<circle cx="393.8" cy="198.1" r="1.08" fill="#7810c4"/>
<circle cx="396.4" cy="196.6" r="1.08" fill="#7810c4"/>
<circle cx="395.3" cy="199.6" r="1.08" fill="#7810c4"/>
<circle cx="392.8" cy="200.2" r="1.08" fill="#7810c4"/>
<circle cx="396.4" cy="201.2" r="1.08" fill="#7810c4"/>
<circle cx="394.3" cy="202.2" r="1.08" fill="#7810c4"/>
<circle cx="396.9" cy="203.3" r="1.08" fill="#7810c4"/>
<circle cx="394.8" cy="205.8" r="1.08" fill="#7810c4"/>
<circle cx="392.8" cy="208.9" r="1.08" fill="#7810c4"/>
<circle cx="393.3" cy="207.9" r="1.08" fill="#7810c4"/>
<circle cx="398.9" cy="245.9" r="1.2" fill="none" stroke="#3535ff" stroke-width="0.55"/>
<circle cx="400.4" cy="246.3" r="1.2" fill="none" stroke="#3535ff" stroke-width="0.55"/>
<circle cx="397.3" cy="247.5" r="1.2" fill="none" stroke="#3535ff" stroke-width="0.55"/>
<circle cx="394.1" cy="248.7" r="1.2" fill="none" stroke="#3535ff" stroke-width="0.55"/>
<circle cx="396.1" cy="249.4" r="1.2" fill="none" stroke="#3535ff" stroke-width="0.55"/>
<circle cx="398.9" cy="248.7" r="1.2" fill="none" stroke="#3535ff" stroke-width="0.55"/>
<circle cx="401.6" cy="249.8" r="1.2" fill="none" stroke="#3535ff" stroke-width="0.55"/>
<circle cx="398.9" cy="250.6" r="1.2" fill="none" stroke="#3535ff" stroke-width="0.55"/>
<circle cx="400" cy="251.8" r="1.2" fill="none" stroke="#3535ff" stroke-width="0.55"/>
<circle cx="401.6" cy="252.6" r="1.2" fill="none" stroke="#3535ff" stroke-width="0.55"/>
<circle cx="401.2" cy="254.2" r="1.2" fill="none" stroke="#3535ff" stroke-width="0.55"/>
<circle cx="397.7" cy="255.7" r="1.2" fill="none" stroke="#3535ff" stroke-width="0.55"/>
<circle cx="394.9" cy="260.5" r="1.2" fill="none" stroke="#3535ff" stroke-width="0.55"/>
<circle cx="396.9" cy="260.9" r="1.2" fill="none" stroke="#3535ff" stroke-width="0.55"/>
<circle cx="398.9" cy="262" r="1.2" fill="none" stroke="#3535ff" stroke-width="0.55"/>
<circle cx="400.4" cy="261.3" r="1.2" fill="none" stroke="#3535ff" stroke-width="0.55"/>
<circle cx="393.7" cy="262.4" r="1.2" fill="none" stroke="#3535ff" stroke-width="0.55"/>
<circle cx="391.8" cy="263.6" r="1.2" fill="none" stroke="#3535ff" stroke-width="0.55"/>
<circle cx="396.1" cy="263.6" r="1.2" fill="none" stroke="#3535ff" stroke-width="0.55"/>
<circle cx="366.9" cy="272.5" r="1.2" fill="none" stroke="#3535ff" stroke-width="0.55"/>
<circle cx="359" cy="231" r="1.4" fill="none" stroke="#666" stroke-width="0.6"/>
<path d="M417.4 189.6h2.8l-1.4 2.6z" fill="none" stroke="#8a30d0" stroke-width="0.5"/>
<path d="M398.0 189.3h2.2l-1.1 2z" fill="#222"/>
<path d="M400.8 188.1h2.2l-1.1 2z" fill="#222"/>
<path d="M399.6 190.1h2.2l-1.1 2z" fill="#222"/>
<path d="M411.8 190.5h2.2l-1.1 2z" fill="#222"/>
<path d="M413.4 190.9h2.2l-1.1 2z" fill="#222"/>
<path d="M412.2 192.1h2.2l-1.1 2z" fill="#222"/>
<path d="M413.8 192.8h2.2l-1.1 2z" fill="#222"/>
<path d="M412.6 193.6h2.2l-1.1 2z" fill="#222"/>
<path d="M414.6 194.0h2.2l-1.1 2z" fill="#222"/>
<text x="425" y="193.6" font-size="8.2" fill="#111" color="#111" textLength="32.8" lengthAdjust="spacingAndGlyphs" >Subgroup</text>
<circle cx="426.4" cy="201.8" r="0.95" fill="#4a1070"/>
<text x="430.7" y="204" font-size="6.3" fill="#111" color="#111" textLength="37.3" lengthAdjust="spacingAndGlyphs" ><tspan font-style="italic">ETV6-RUNX1</tspan></text>
<circle cx="426.4" cy="209.8" r="0.95" fill="#e0208f"/>
<text x="430.7" y="212" font-size="6.3" fill="#111" color="#111" textLength="14.9" lengthAdjust="spacingAndGlyphs" >T-ALL</text>
<circle cx="426.4" cy="217.9" r="0.95" fill="#1a3a9a"/>
<text x="430.7" y="220.1" font-size="6.3" fill="#111" color="#111" textLength="37" lengthAdjust="spacingAndGlyphs" >Hyperdiploid</text>
<circle cx="426.4" cy="226.10000000000002" r="0.95" fill="#c07a30"/>
<text x="430.7" y="228.3" font-size="6.3" fill="#111" color="#111" textLength="56" lengthAdjust="spacingAndGlyphs" ><tspan font-style="italic">ZNF384</tspan> rearranged</text>
<circle cx="426.4" cy="234.20000000000002" r="0.95" fill="#b01030"/>
<text x="430.7" y="236.4" font-size="6.3" fill="#111" color="#111" textLength="29.6" lengthAdjust="spacingAndGlyphs" ><tspan font-style="italic">BCR-ABL1</tspan></text>
<circle cx="426.4" cy="242.4" r="0.95" fill="#c8c8c8"/>
<text x="430.7" y="244.6" font-size="6.3" fill="#111" color="#111" textLength="45.6" lengthAdjust="spacingAndGlyphs" ><tspan font-style="italic">MLL</tspan> rearranged</text>
<circle cx="426.4" cy="250.60000000000002" r="0.95" fill="#e8862a"/>
<text x="430.7" y="252.8" font-size="6.3" fill="#111" color="#111" textLength="32.7" lengthAdjust="spacingAndGlyphs" ><tspan font-style="italic">TCF3-PBX1</tspan></text>
<circle cx="426.4" cy="258.7" r="0.95" fill="#50b030"/>
<text x="430.7" y="260.9" font-size="6.3" fill="#111" color="#111" textLength="50.2" lengthAdjust="spacingAndGlyphs" ><tspan font-style="italic">DUX4</tspan> rearranged</text>
<circle cx="426.4" cy="266.90000000000003" r="0.95" fill="#000"/>
<text x="430.7" y="269.1" font-size="6.3" fill="#111" color="#111" textLength="24" lengthAdjust="spacingAndGlyphs" >B-others</text>
<path d="M425.1 273.9h2.8l-1.4 2.6z" fill="#111"/>
<text x="430.3" y="277.1" font-size="6.3" fill="#111" color="#111" textLength="81" lengthAdjust="spacingAndGlyphs" >with <tspan font-style="italic">ETV6</tspan> damaging variant</text>
<circle cx="426.5" cy="282.9" r="1.05" fill="none" stroke="#111" stroke-width="0.7"/>
<text x="430.3" y="285.1" font-size="6.3" fill="#111" color="#111" textLength="73.1" lengthAdjust="spacingAndGlyphs" >with <tspan font-style="italic">ETV6</tspan> WT-like variant</text>
<rect x="0" y="0" width="1" height="330" fill="#000" />
<rect x="0" y="0" width="520" height="1.1" fill="#000" />
<rect x="518.5" y="0" width="1.5" height="330" fill="#000" />
<rect x="0" y="328.5" width="520" height="1.5" fill="#000" />
</svg></body></html>
